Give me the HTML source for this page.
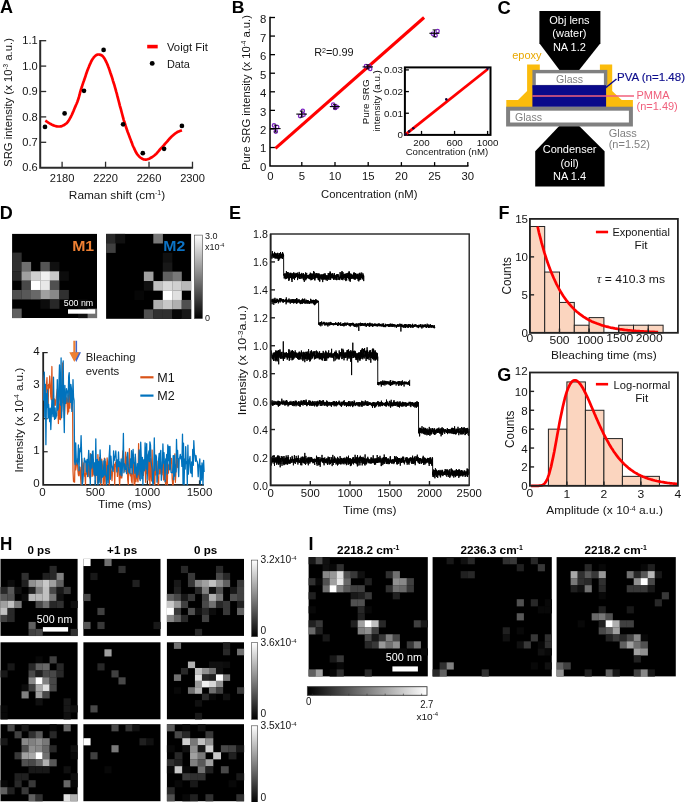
<!DOCTYPE html>
<html><head><meta charset="utf-8"><title>Figure</title>
<style>html,body{margin:0;padding:0;background:#fff;}body{width:685px;height:802px;overflow:hidden;font-family:"Liberation Sans",sans-serif;}svg{display:block;will-change:transform;}</style>
</head><body>
<svg width="685" height="802" viewBox="0 0 685 802" font-family="'Liberation Sans', sans-serif" fill="#141414">
<rect width="685" height="802" fill="#fff"/>
<text font-size="18" font-weight="bold" fill="#000" transform="translate(0.0 13.1)" >A</text>
<text font-size="16.2" font-weight="bold" fill="#000" transform="translate(231.8 13.4) scale(1.09 1)" >B</text>
<text font-size="18.4" font-weight="bold" fill="#000" transform="translate(497.6 13.6)" >C</text>
<path d="M40.2,40.1 V167.7 H193.1" stroke="#2b2b2b" stroke-width="2.0" fill="none" />
<text font-size="10.4" text-anchor="end" transform="translate(37.7 171.4) scale(1.07 1)" >0.6</text>
<line x1="40.20" y1="142.30" x2="46.20" y2="142.30" stroke="#2b2b2b" stroke-width="1.3" />
<text font-size="10.4" text-anchor="end" transform="translate(37.7 146.0) scale(1.07 1)" >0.7</text>
<line x1="40.20" y1="116.90" x2="46.20" y2="116.90" stroke="#2b2b2b" stroke-width="1.3" />
<text font-size="10.4" text-anchor="end" transform="translate(37.7 120.6) scale(1.07 1)" >0.8</text>
<line x1="40.20" y1="91.50" x2="46.20" y2="91.50" stroke="#2b2b2b" stroke-width="1.3" />
<text font-size="10.4" text-anchor="end" transform="translate(37.7 95.2) scale(1.07 1)" >0.9</text>
<line x1="40.20" y1="66.10" x2="46.20" y2="66.10" stroke="#2b2b2b" stroke-width="1.3" />
<text font-size="10.4" text-anchor="end" transform="translate(37.7 69.8) scale(1.07 1)" >1.0</text>
<line x1="40.20" y1="40.70" x2="46.20" y2="40.70" stroke="#2b2b2b" stroke-width="1.3" />
<text font-size="10.4" text-anchor="end" transform="translate(37.7 44.4) scale(1.07 1)" >1.1</text>
<line x1="62.10" y1="167.70" x2="62.10" y2="161.70" stroke="#2b2b2b" stroke-width="1.3" />
<text font-size="10.4" text-anchor="middle" transform="translate(62.1 181.6) scale(1.07 1)" >2180</text>
<line x1="105.56" y1="167.70" x2="105.56" y2="161.70" stroke="#2b2b2b" stroke-width="1.3" />
<text font-size="10.4" text-anchor="middle" transform="translate(105.6 181.6) scale(1.07 1)" >2220</text>
<line x1="149.02" y1="167.70" x2="149.02" y2="161.70" stroke="#2b2b2b" stroke-width="1.3" />
<text font-size="10.4" text-anchor="middle" transform="translate(149.0 181.6) scale(1.07 1)" >2260</text>
<line x1="192.48" y1="167.70" x2="192.48" y2="161.70" stroke="#2b2b2b" stroke-width="1.3" />
<text font-size="10.4" text-anchor="middle" transform="translate(192.5 181.6) scale(1.07 1)" >2300</text>
<text font-size="11.6" text-anchor="middle" transform="translate(11.6 102.5) rotate(-90) scale(1.07 1)" textLength="120.4" lengthAdjust="spacingAndGlyphs" >SRG intensity (x 10<tspan dy="-3.6" font-size="6.5">-3</tspan><tspan dy="3.6" font-size="1">&#8203;</tspan><tspan> a.u.)</tspan></text>
<text font-size="11.2" text-anchor="middle" transform="translate(117.0 198.6) scale(1.07 1)" textLength="90.0" lengthAdjust="spacingAndGlyphs" >Raman shift (cm<tspan dy="-3.6" font-size="6.5">-1</tspan><tspan dy="3.6" font-size="1">&#8203;</tspan><tspan>)</tspan></text>
<path d="M45.3,120.6 L45.8,120.9 L46.5,121.4 L47.4,122.0 L48.3,122.6 L49.2,123.1 L50.0,123.6 L50.7,124.0 L51.4,124.4 L52.0,124.7 L52.7,125.1 L53.3,125.3 L54.0,125.6 L54.7,125.8 L55.3,126.0 L56.0,126.2 L56.7,126.3 L57.3,126.4 L58.0,126.5 L58.7,126.5 L59.3,126.5 L59.9,126.5 L60.6,126.4 L61.3,126.3 L62.0,126.0 L62.8,125.6 L63.7,125.2 L64.6,124.7 L65.4,124.1 L66.3,123.5 L67.1,122.7 L67.8,121.8 L68.5,120.9 L69.2,119.8 L69.8,118.7 L70.4,117.6 L71.0,116.5 L71.5,115.5 L72.0,114.5 L72.4,113.5 L72.9,112.4 L73.4,111.3 L73.9,110.0 L74.5,108.5 L75.2,106.9 L75.9,105.2 L76.7,103.5 L77.4,101.7 L78.0,100.0 L78.6,98.3 L79.1,96.5 L79.6,94.7 L80.0,92.9 L80.5,91.2 L81.0,89.5 L81.5,87.9 L82.0,86.5 L82.4,85.1 L82.9,83.6 L83.4,82.1 L84.0,80.5 L84.6,78.7 L85.3,76.8 L85.9,74.8 L86.6,72.7 L87.3,70.8 L88.0,69.0 L88.7,67.3 L89.3,65.7 L90.0,64.1 L90.7,62.6 L91.3,61.2 L92.0,60.0 L92.7,58.9 L93.4,58.0 L94.0,57.1 L94.7,56.4 L95.4,55.8 L96.0,55.3 L96.6,54.9 L97.2,54.7 L97.8,54.5 L98.4,54.5 L98.9,54.5 L99.5,54.6 L100.1,54.7 L100.6,54.9 L101.2,55.1 L101.8,55.4 L102.4,55.9 L103.0,56.5 L103.6,57.3 L104.3,58.3 L105.0,59.4 L105.6,60.7 L106.3,62.0 L107.0,63.5 L107.7,65.1 L108.3,66.8 L109.0,68.6 L109.7,70.6 L110.3,72.5 L111.0,74.5 L111.7,76.5 L112.4,78.6 L113.0,80.8 L113.7,83.0 L114.4,85.2 L115.0,87.3 L115.6,89.4 L116.1,91.4 L116.7,93.3 L117.2,95.4 L117.8,97.6 L118.4,100.0 L119.1,102.7 L119.9,105.8 L120.8,108.9 L121.6,112.0 L122.4,115.0 L123.1,117.6 L123.7,119.8 L124.3,121.8 L124.9,123.5 L125.4,125.2 L125.9,126.8 L126.5,128.5 L127.1,130.2 L127.7,132.0 L128.4,133.7 L129.0,135.4 L129.6,137.0 L130.2,138.6 L130.8,140.1 L131.3,141.6 L131.9,143.0 L132.4,144.4 L132.9,145.7 L133.5,147.0 L134.1,148.2 L134.6,149.4 L135.2,150.6 L135.7,151.7 L136.3,152.7 L136.9,153.7 L137.5,154.6 L138.2,155.4 L138.9,156.2 L139.6,156.9 L140.3,157.5 L141.0,158.0 L141.7,158.5 L142.4,158.8 L143.1,159.2 L143.8,159.4 L144.6,159.5 L145.3,159.6 L146.1,159.6 L146.8,159.5 L147.6,159.3 L148.4,159.0 L149.2,158.7 L150.0,158.3 L150.9,157.8 L151.8,157.3 L152.7,156.7 L153.7,156.0 L154.6,155.3 L155.4,154.6 L156.2,153.9 L156.9,153.1 L157.5,152.4 L158.2,151.6 L158.8,150.8 L159.5,150.0 L160.2,149.2 L160.9,148.4 L161.6,147.7 L162.4,146.9 L163.1,146.1 L163.8,145.3 L164.5,144.5 L165.2,143.7 L165.9,142.9 L166.6,142.1 L167.3,141.3 L168.0,140.5 L168.7,139.7 L169.3,139.0 L170.0,138.2 L170.7,137.5 L171.4,136.8 L172.1,136.1 L172.9,135.4 L173.7,134.7 L174.5,134.1 L175.3,133.4 L176.2,132.8 L177.0,132.3 L177.9,131.8 L178.8,131.4 L179.8,131.0 L180.6,130.7 L181.4,130.4 L181.9,130.2" stroke="#ff0000" stroke-width="2.7" fill="none" stroke-linejoin="round"/>
<circle cx="45" cy="126.9" r="2.35" fill="#000"/>
<circle cx="64.6" cy="113.4" r="2.35" fill="#000"/>
<circle cx="84" cy="90.8" r="2.35" fill="#000"/>
<circle cx="103.6" cy="49.9" r="2.35" fill="#000"/>
<circle cx="123.1" cy="124.3" r="2.35" fill="#000"/>
<circle cx="142.8" cy="153.2" r="2.35" fill="#000"/>
<circle cx="164.1" cy="148.8" r="2.35" fill="#000"/>
<circle cx="181.9" cy="125.9" r="2.35" fill="#000"/>
<line x1="147.20" y1="46.60" x2="157.70" y2="46.60" stroke="#ff0000" stroke-width="3.6" />
<text font-size="11.2" transform="translate(166.9 50.5) scale(1.07 1)" textLength="38.3" lengthAdjust="spacingAndGlyphs" >Voigt Fit</text>
<circle cx="152.2" cy="63.4" r="2.45" fill="#000"/>
<text font-size="11.2" transform="translate(166.9 67.8) scale(1.07 1)" textLength="21.5" lengthAdjust="spacingAndGlyphs" >Data</text>
<path d="M270.0,16.8 V166.1 H468.5" stroke="#000" stroke-width="1.5" fill="none" />
<text font-size="10.6" text-anchor="end" transform="translate(266.2 170.9) scale(1.07 1)" >0</text>
<line x1="270.00" y1="147.53" x2="275.00" y2="147.53" stroke="#000" stroke-width="1.3" />
<text font-size="10.6" text-anchor="end" transform="translate(266.2 152.3) scale(1.07 1)" >1</text>
<line x1="270.00" y1="128.95" x2="275.00" y2="128.95" stroke="#000" stroke-width="1.3" />
<text font-size="10.6" text-anchor="end" transform="translate(266.2 134.3) scale(1.07 1)" >2</text>
<line x1="270.00" y1="110.38" x2="275.00" y2="110.38" stroke="#000" stroke-width="1.3" />
<text font-size="10.6" text-anchor="end" transform="translate(266.2 115.8) scale(1.07 1)" >3</text>
<line x1="270.00" y1="91.80" x2="275.00" y2="91.80" stroke="#000" stroke-width="1.3" />
<text font-size="10.6" text-anchor="end" transform="translate(266.2 97.2) scale(1.07 1)" >4</text>
<line x1="270.00" y1="73.22" x2="275.00" y2="73.22" stroke="#000" stroke-width="1.3" />
<text font-size="10.6" text-anchor="end" transform="translate(266.2 78.6) scale(1.07 1)" >5</text>
<line x1="270.00" y1="54.65" x2="275.00" y2="54.65" stroke="#000" stroke-width="1.3" />
<text font-size="10.6" text-anchor="end" transform="translate(266.2 60.1) scale(1.07 1)" >6</text>
<line x1="270.00" y1="36.07" x2="275.00" y2="36.07" stroke="#000" stroke-width="1.3" />
<text font-size="10.6" text-anchor="end" transform="translate(266.2 41.5) scale(1.07 1)" >7</text>
<line x1="270.00" y1="17.50" x2="275.00" y2="17.50" stroke="#000" stroke-width="1.3" />
<text font-size="10.6" text-anchor="end" transform="translate(266.2 22.9) scale(1.07 1)" >8</text>
<text font-size="10.6" text-anchor="middle" transform="translate(270.3 179.9) scale(1.07 1)" >0</text>
<line x1="301.80" y1="166.10" x2="301.80" y2="162.10" stroke="#000" stroke-width="1.3" />
<text font-size="10.6" text-anchor="middle" transform="translate(301.8 179.9) scale(1.07 1)" >5</text>
<line x1="335.00" y1="166.10" x2="335.00" y2="162.10" stroke="#000" stroke-width="1.3" />
<text font-size="10.6" text-anchor="middle" transform="translate(335.0 179.9) scale(1.07 1)" >10</text>
<line x1="368.20" y1="166.10" x2="368.20" y2="162.10" stroke="#000" stroke-width="1.3" />
<text font-size="10.6" text-anchor="middle" transform="translate(368.2 179.9) scale(1.07 1)" >15</text>
<line x1="401.40" y1="166.10" x2="401.40" y2="162.10" stroke="#000" stroke-width="1.3" />
<text font-size="10.6" text-anchor="middle" transform="translate(401.4 179.9) scale(1.07 1)" >20</text>
<line x1="434.60" y1="166.10" x2="434.60" y2="162.10" stroke="#000" stroke-width="1.3" />
<text font-size="10.6" text-anchor="middle" transform="translate(434.6 179.9) scale(1.07 1)" >25</text>
<line x1="467.80" y1="166.10" x2="467.80" y2="162.10" stroke="#000" stroke-width="1.3" />
<text font-size="10.6" text-anchor="middle" transform="translate(467.8 179.9) scale(1.07 1)" >30</text>
<text font-size="11.6" text-anchor="middle" transform="translate(249.6 92.6) rotate(-90) scale(1.07 1)" textLength="144.9" lengthAdjust="spacingAndGlyphs" >Pure SRG intensity (x 10<tspan dy="-3.6" font-size="6.5">-4</tspan><tspan dy="3.6" font-size="1">&#8203;</tspan><tspan> a.u.)</tspan></text>
<text font-size="11.2" text-anchor="middle" transform="translate(369.2 198.3) scale(1.07 1)" textLength="90.1" lengthAdjust="spacingAndGlyphs" >Concentration (nM)</text>
<text font-size="11.6" transform="translate(314.2 56.0) scale(1.07 1)" textLength="36.8" lengthAdjust="spacingAndGlyphs" >R<tspan dy="-3.4" font-size="7.6">2</tspan><tspan dy="3.4" font-size="1">&#8203;</tspan><tspan>=0.99</tspan></text>
<line x1="275.40" y1="148.30" x2="424.10" y2="17.50" stroke="#ff0000" stroke-width="3.1" />
<circle cx="274.0" cy="125.4" r="1.7" fill="none" stroke="#7d22c4" stroke-width="1.2"/>
<circle cx="275.8" cy="131.6" r="1.7" fill="none" stroke="#7d22c4" stroke-width="1.2"/>
<circle cx="277.2" cy="127.1" r="1.7" fill="none" stroke="#7d22c4" stroke-width="1.2"/>
<line x1="270.60" y1="128.60" x2="280.60" y2="128.60" stroke="#000" stroke-width="1.1" />
<line x1="275.60" y1="125.20" x2="275.60" y2="132.00" stroke="#000" stroke-width="1.0" />
<line x1="273.80" y1="125.20" x2="277.40" y2="125.20" stroke="#000" stroke-width="0.9" />
<line x1="273.80" y1="132.00" x2="277.40" y2="132.00" stroke="#000" stroke-width="0.9" />
<circle cx="300.1" cy="116.1" r="1.7" fill="none" stroke="#7d22c4" stroke-width="1.2"/>
<circle cx="302.8" cy="110.9" r="1.7" fill="none" stroke="#7d22c4" stroke-width="1.2"/>
<circle cx="303.6" cy="114.7" r="1.7" fill="none" stroke="#7d22c4" stroke-width="1.2"/>
<line x1="296.30" y1="114.10" x2="306.90" y2="114.10" stroke="#000" stroke-width="1.1" />
<line x1="301.60" y1="111.10" x2="301.60" y2="117.10" stroke="#000" stroke-width="1.0" />
<line x1="299.80" y1="111.10" x2="303.40" y2="111.10" stroke="#000" stroke-width="0.9" />
<line x1="299.80" y1="117.10" x2="303.40" y2="117.10" stroke="#000" stroke-width="0.9" />
<circle cx="333.2" cy="104.6" r="1.7" fill="none" stroke="#7d22c4" stroke-width="1.2"/>
<circle cx="335.3" cy="107.9" r="1.7" fill="none" stroke="#7d22c4" stroke-width="1.2"/>
<circle cx="336.8" cy="106.8" r="1.7" fill="none" stroke="#7d22c4" stroke-width="1.2"/>
<line x1="329.80" y1="106.60" x2="339.80" y2="106.60" stroke="#000" stroke-width="1.1" />
<line x1="334.80" y1="104.40" x2="334.80" y2="108.80" stroke="#000" stroke-width="1.0" />
<line x1="333.00" y1="104.40" x2="336.60" y2="104.40" stroke="#000" stroke-width="0.9" />
<line x1="333.00" y1="108.80" x2="336.60" y2="108.80" stroke="#000" stroke-width="0.9" />
<circle cx="366.0" cy="66.1" r="1.7" fill="none" stroke="#7d22c4" stroke-width="1.2"/>
<circle cx="369.3" cy="66.3" r="1.7" fill="none" stroke="#7d22c4" stroke-width="1.2"/>
<circle cx="370.2" cy="68.9" r="1.7" fill="none" stroke="#7d22c4" stroke-width="1.2"/>
<line x1="362.60" y1="66.90" x2="373.00" y2="66.90" stroke="#000" stroke-width="1.1" />
<line x1="367.80" y1="64.90" x2="367.80" y2="68.90" stroke="#000" stroke-width="1.0" />
<line x1="366.00" y1="64.90" x2="369.60" y2="64.90" stroke="#000" stroke-width="0.9" />
<line x1="366.00" y1="68.90" x2="369.60" y2="68.90" stroke="#000" stroke-width="0.9" />
<circle cx="432.8" cy="33.7" r="1.7" fill="none" stroke="#7d22c4" stroke-width="1.2"/>
<circle cx="435.6" cy="35.5" r="1.7" fill="none" stroke="#7d22c4" stroke-width="1.2"/>
<circle cx="437.6" cy="31.1" r="1.7" fill="none" stroke="#7d22c4" stroke-width="1.2"/>
<line x1="429.40" y1="33.30" x2="439.40" y2="33.30" stroke="#000" stroke-width="1.1" />
<line x1="434.40" y1="29.90" x2="434.40" y2="36.70" stroke="#000" stroke-width="1.0" />
<line x1="432.60" y1="29.90" x2="436.20" y2="29.90" stroke="#000" stroke-width="0.9" />
<line x1="432.60" y1="36.70" x2="436.20" y2="36.70" stroke="#000" stroke-width="0.9" />
<rect x="404.90" y="67.40" width="85.60" height="67.50" fill="#fff" stroke="#000" stroke-width="2.0" />
<text font-size="9.6" text-anchor="end" transform="translate(403.0 138.3) scale(1.02 1)" >0</text>
<line x1="404.90" y1="113.24" x2="408.90" y2="113.24" stroke="#000" stroke-width="1.3" />
<text font-size="9.6" text-anchor="end" transform="translate(403.0 116.6) scale(1.02 1)" >0.01</text>
<line x1="404.90" y1="91.58" x2="408.90" y2="91.58" stroke="#000" stroke-width="1.3" />
<text font-size="9.6" text-anchor="end" transform="translate(403.0 95.0) scale(1.02 1)" >0.02</text>
<line x1="404.90" y1="69.92" x2="408.90" y2="69.92" stroke="#000" stroke-width="1.3" />
<text font-size="9.6" text-anchor="end" transform="translate(403.0 73.3) scale(1.02 1)" >0.03</text>
<line x1="421.52" y1="134.90" x2="421.52" y2="130.90" stroke="#000" stroke-width="1.3" />
<text font-size="9.6" text-anchor="middle" transform="translate(421.5 145.9) scale(1.02 1)" >200</text>
<line x1="454.56" y1="134.90" x2="454.56" y2="130.90" stroke="#000" stroke-width="1.3" />
<text font-size="9.6" text-anchor="middle" transform="translate(454.6 145.9) scale(1.02 1)" >600</text>
<line x1="487.60" y1="134.90" x2="487.60" y2="130.90" stroke="#000" stroke-width="1.3" />
<text font-size="9.6" text-anchor="middle" transform="translate(487.6 145.9) scale(1.02 1)" >1000</text>
<text font-size="9.6" text-anchor="middle" transform="translate(446.9 154.8) scale(1.07 1)" textLength="77.1" lengthAdjust="spacingAndGlyphs" >Concentration (nM)</text>
<text font-size="9.2" text-anchor="middle" transform="translate(368.8 101.8) rotate(-90) scale(1.07 1)" >Pure SRG</text>
<text font-size="9.2" text-anchor="middle" transform="translate(380.3 101.0) rotate(-90) scale(1.07 1)" >intensity (a.u.)</text>
<line x1="405.30" y1="134.60" x2="487.60" y2="69.27" stroke="#ff0000" stroke-width="2.8" />
<circle cx="405.8" cy="134.3" r="1.3" fill="#140638"/>
<circle cx="409.1" cy="131.4" r="1.3" fill="#140638"/>
<circle cx="413.3" cy="128.2" r="1.3" fill="#140638"/>
<circle cx="446.3" cy="99.4" r="1.3" fill="#140638"/>
<circle cx="487.6" cy="68.8" r="1.3" fill="#140638"/>
<path d="M527.1,64.5 H539.8 V70.5 H533.5 V106.9 H506.3 V100.1 H518.0 L527.1,91.0 Z" fill="#fbbc0c"/>
<path d="M612.2,64.5 H599.9 V70.5 H606.0 V106.9 H632.9 V100.1 H621.7 L612.2,91.0 Z" fill="#fbbc0c"/>
<path d="M539.4,11.1 H600.4 V43.2 L578.4,71 H560.2 L539.4,43.2 Z" fill="#000"/>
<path d="M560.2,125 H578.2 L604.6,151.2 V186.4 H535.2 V151.2 Z" fill="#000"/>
<rect x="534.10" y="71.60" width="71.50" height="15.00" fill="#fff" stroke="#808080" stroke-width="3.4" />
<rect x="532.40" y="85.20" width="73.70" height="21.70" fill="#0a0a8a" />
<line x1="532.40" y1="96.00" x2="634.00" y2="96.00" stroke="#f0607c" stroke-width="1.7" />
<rect x="508.10" y="108.70" width="122.80" height="15.80" fill="#fff" stroke="#808080" stroke-width="4.0" />
<text font-size="11" text-anchor="middle" fill="#fff" transform="translate(569.4 23.7)" >Obj lens</text>
<text font-size="11" text-anchor="middle" fill="#fff" transform="translate(569.4 37.4)" >(water)</text>
<text font-size="11" text-anchor="middle" fill="#fff" transform="translate(569.4 50.8)" >NA 1.2</text>
<text font-size="11" text-anchor="middle" fill="#fff" transform="translate(569.6 153.4)" >Condenser</text>
<text font-size="11" text-anchor="middle" fill="#fff" transform="translate(569.6 166.5)" >(oil)</text>
<text font-size="11" text-anchor="middle" fill="#fff" transform="translate(569.6 179.8)" >NA 1.4</text>
<text font-size="11" fill="#e9a800" transform="translate(512.2 59.2)" >epoxy</text>
<text font-size="10.6" text-anchor="middle" fill="#808080" transform="translate(569.6 82.8)" >Glass</text>
<text font-size="10.6" fill="#808080" transform="translate(515.0 120.8)" >Glass</text>
<text font-size="11" fill="#0c0c8c" transform="translate(617.0 81.3)" textLength="68.0" lengthAdjust="spacingAndGlyphs" stroke="#0c0c8c" stroke-width="0.15">PVA (n=1.48)</text>
<line x1="616.50" y1="79.00" x2="606.00" y2="87.50" stroke="#0c0c8c" stroke-width="1.5" />
<text font-size="11" fill="#f0607c" transform="translate(636.5 99.0)" >PMMA</text>
<text font-size="11" fill="#f0607c" transform="translate(636.5 109.7)" >(n=1.49)</text>
<text font-size="11" fill="#808080" transform="translate(608.7 137.3)" >Glass</text>
<text font-size="11" fill="#808080" transform="translate(608.7 148.0)" >(n=1.52)</text>
<text font-size="18" font-weight="bold" fill="#000" transform="translate(-0.3 219.1)" >D</text>
<rect x="12.10" y="233.90" width="84.90" height="84.10" fill="#000" />
<rect x="12.10" y="252.59" width="9.58" height="9.49" fill="#303030"/>
<rect x="12.10" y="261.93" width="9.58" height="9.49" fill="#303030"/>
<rect x="21.53" y="261.93" width="9.58" height="9.49" fill="#707070"/>
<rect x="40.40" y="261.93" width="9.58" height="9.49" fill="#555555"/>
<rect x="49.83" y="261.93" width="9.58" height="9.49" fill="#101010"/>
<rect x="12.10" y="271.28" width="9.58" height="9.49" fill="#282828"/>
<rect x="21.53" y="271.28" width="9.58" height="9.49" fill="#a0a0a0"/>
<rect x="30.97" y="271.28" width="9.58" height="9.49" fill="#d0d0d0"/>
<rect x="40.40" y="271.28" width="9.58" height="9.49" fill="#f0f0f0"/>
<rect x="49.83" y="271.28" width="9.58" height="9.49" fill="#c8c8c8"/>
<rect x="59.27" y="271.28" width="9.58" height="9.49" fill="#0c0c0c"/>
<rect x="21.53" y="280.62" width="9.58" height="9.49" fill="#484848"/>
<rect x="30.97" y="280.62" width="9.58" height="9.49" fill="#ffffff"/>
<rect x="40.40" y="280.62" width="9.58" height="9.49" fill="#e8e8e8"/>
<rect x="49.83" y="280.62" width="9.58" height="9.49" fill="#505050"/>
<rect x="12.10" y="289.97" width="9.58" height="9.49" fill="#505050"/>
<rect x="21.53" y="289.97" width="9.58" height="9.49" fill="#585858"/>
<rect x="30.97" y="289.97" width="9.58" height="9.49" fill="#686868"/>
<rect x="40.40" y="289.97" width="9.58" height="9.49" fill="#a0a0a0"/>
<rect x="49.83" y="289.97" width="9.58" height="9.49" fill="#888888"/>
<rect x="59.27" y="289.97" width="9.58" height="9.49" fill="#303030"/>
<rect x="40.40" y="299.31" width="9.58" height="9.49" fill="#0c0c0c"/>
<rect x="49.83" y="299.31" width="9.58" height="9.49" fill="#282828"/>
<rect x="78.13" y="299.31" width="9.58" height="9.49" fill="#080808"/>
<rect x="12.10" y="308.66" width="9.58" height="9.49" fill="#606060"/>
<rect x="78.13" y="308.66" width="9.58" height="9.49" fill="#101010"/>
<rect x="87.57" y="308.66" width="9.58" height="9.49" fill="#707070"/>
<rect x="106.10" y="233.90" width="85.00" height="84.90" fill="#000" />
<rect x="106.10" y="233.90" width="9.59" height="9.58" fill="#282828"/>
<rect x="115.54" y="233.90" width="9.59" height="9.58" fill="#101010"/>
<rect x="153.32" y="233.90" width="9.59" height="9.58" fill="#787878"/>
<rect x="106.10" y="243.33" width="9.59" height="9.58" fill="#404040"/>
<rect x="162.77" y="252.77" width="9.59" height="9.58" fill="#101010"/>
<rect x="162.77" y="262.20" width="9.59" height="9.58" fill="#181818"/>
<rect x="143.88" y="271.63" width="9.59" height="9.58" fill="#a0a0a0"/>
<rect x="162.77" y="271.63" width="9.59" height="9.58" fill="#606060"/>
<rect x="172.21" y="271.63" width="9.59" height="9.58" fill="#787878"/>
<rect x="143.88" y="281.07" width="9.59" height="9.58" fill="#101010"/>
<rect x="153.32" y="281.07" width="9.59" height="9.58" fill="#c0c0c0"/>
<rect x="162.77" y="281.07" width="9.59" height="9.58" fill="#d8d8d8"/>
<rect x="172.21" y="281.07" width="9.59" height="9.58" fill="#d0d0d0"/>
<rect x="181.66" y="281.07" width="9.59" height="9.58" fill="#b8b8b8"/>
<rect x="134.43" y="290.50" width="9.59" height="9.58" fill="#060606"/>
<rect x="162.77" y="290.50" width="9.59" height="9.58" fill="#ffffff"/>
<rect x="172.21" y="290.50" width="9.59" height="9.58" fill="#e0e0e0"/>
<rect x="153.32" y="299.93" width="9.59" height="9.58" fill="#b0b0b0"/>
<rect x="162.77" y="299.93" width="9.59" height="9.58" fill="#c8c8c8"/>
<rect x="172.21" y="299.93" width="9.59" height="9.58" fill="#b0b0b0"/>
<rect x="181.66" y="299.93" width="9.59" height="9.58" fill="#505050"/>
<rect x="143.88" y="309.37" width="9.59" height="9.58" fill="#505050"/>
<rect x="153.32" y="309.37" width="9.59" height="9.58" fill="#303030"/>
<rect x="162.77" y="309.37" width="9.59" height="9.58" fill="#303030"/>
<rect x="172.21" y="309.37" width="9.59" height="9.58" fill="#080808"/>
<rect x="181.66" y="309.37" width="9.59" height="9.58" fill="#181818"/>
<text font-size="15.2" font-weight="bold" fill="#ee8033" transform="translate(72.2 251.2) scale(1.04 1)" >M1</text>
<text font-size="15.2" font-weight="bold" fill="#0c72c4" transform="translate(163.3 251.2) scale(1.04 1)" >M2</text>
<text font-size="9.4" fill="#fff" transform="translate(63.8 305.6) scale(1.07 1)" textLength="27.5" lengthAdjust="spacingAndGlyphs" >500 nm</text>
<rect x="68.00" y="309.30" width="27.20" height="4.40" fill="#fff" />
<defs><linearGradient id="gv" x1="0" y1="0" x2="0" y2="1"><stop offset="0" stop-color="#fff"/><stop offset="1" stop-color="#000"/></linearGradient><linearGradient id="gh" x1="0" y1="0" x2="1" y2="0"><stop offset="0" stop-color="#000"/><stop offset="1" stop-color="#fff"/></linearGradient></defs>
<rect x="194.40" y="235.10" width="8.00" height="83.50" fill="url(#gv)" stroke="#444" stroke-width="0.6" />
<text font-size="9.2" transform="translate(205.0 239.4) scale(0.98 1)" >3.0</text>
<text font-size="9.2" transform="translate(205.0 250.1) scale(0.98 1)" >x10<tspan dy="-3.0" font-size="5.6">-4</tspan><tspan dy="3.0" font-size="1">&#8203;</tspan></text>
<text font-size="9.2" transform="translate(205.0 320.8) scale(0.98 1)" >0</text>
<path d="M43.2,351.9 V484.8 H203.9" stroke="#222" stroke-width="1.8" fill="none" />
<text font-size="10.8" text-anchor="end" transform="translate(39.8 486.7) scale(1.07 1)" >0</text>
<line x1="43.20" y1="451.75" x2="47.70" y2="451.75" stroke="#222" stroke-width="1.2" />
<text font-size="10.8" text-anchor="end" transform="translate(39.8 453.6) scale(1.07 1)" >1</text>
<line x1="43.20" y1="418.70" x2="47.70" y2="418.70" stroke="#222" stroke-width="1.2" />
<text font-size="10.8" text-anchor="end" transform="translate(39.8 420.6) scale(1.07 1)" >2</text>
<line x1="43.20" y1="385.65" x2="47.70" y2="385.65" stroke="#222" stroke-width="1.2" />
<text font-size="10.8" text-anchor="end" transform="translate(39.8 387.6) scale(1.07 1)" >3</text>
<line x1="43.20" y1="352.60" x2="47.70" y2="352.60" stroke="#222" stroke-width="1.2" />
<text font-size="10.8" text-anchor="end" transform="translate(39.8 354.5) scale(1.07 1)" >4</text>
<text font-size="10.8" text-anchor="middle" transform="translate(42.5 496.4) scale(1.07 1)" >0</text>
<line x1="95.30" y1="484.80" x2="95.30" y2="480.30" stroke="#222" stroke-width="1.2" />
<text font-size="10.8" text-anchor="middle" transform="translate(95.3 496.4) scale(1.07 1)" >500</text>
<line x1="147.40" y1="484.80" x2="147.40" y2="480.30" stroke="#222" stroke-width="1.2" />
<text font-size="10.8" text-anchor="middle" transform="translate(147.4 496.4) scale(1.07 1)" >1000</text>
<line x1="199.50" y1="484.80" x2="199.50" y2="480.30" stroke="#222" stroke-width="1.2" />
<text font-size="10.8" text-anchor="middle" transform="translate(199.5 496.4) scale(1.07 1)" >1500</text>
<text font-size="11.6" text-anchor="middle" transform="translate(22.8 420.2) rotate(-90) scale(1.07 1)" textLength="97.9" lengthAdjust="spacingAndGlyphs" >Intensity (x 10<tspan dy="-3.6" font-size="6.5">-4</tspan><tspan dy="3.6" font-size="1">&#8203;</tspan><tspan> a.u.)</tspan></text>
<text font-size="11.2" text-anchor="middle" transform="translate(124.8 507.6) scale(1.07 1)" >Time (ms)</text>
<path d="M43.2,400.2 L43.7,381.9 L44.3,375.2 L44.8,393.9 L45.4,404.3 L45.9,390.0 L46.5,384.3 L47.0,377.6 L47.5,405.8 L48.1,407.5 L48.6,384.4 L49.2,387.9 L49.7,376.0 L50.2,383.3 L50.8,396.9 L51.3,399.7 L51.9,366.5 L52.4,401.3 L53.0,407.9 L53.5,412.8 L54.0,398.8 L54.6,399.0 L55.1,405.5 L55.7,402.9 L56.2,398.9 L56.7,393.9 L57.3,389.1 L57.8,399.7 L58.4,423.5 L58.9,393.8 L59.5,419.1 L60.0,404.2 L60.5,419.7 L61.1,402.2 L61.6,411.4 L62.2,399.6 L62.7,362.9 L63.2,402.8 L63.8,392.2 L64.3,417.9 L64.9,405.6 L65.4,394.3 L66.0,403.3 L66.5,397.8 L67.0,400.9 L67.6,414.1 L68.1,395.5 L68.7,411.8 L69.2,379.9 L69.8,408.2 L70.3,394.0 L70.8,402.1 L71.4,390.8 L71.9,409.3 L72.5,390.3 L73.0,471.1 L73.5,481.4 L74.1,482.0 L74.6,482.2 L75.2,448.5 L75.7,469.8 L76.3,465.5 L76.8,464.5 L77.3,458.9 L77.9,470.5 L78.4,475.0 L79.0,475.8 L79.5,466.8 L80.0,467.2 L80.6,477.6 L81.1,484.7 L81.7,458.3 L82.2,463.3 L82.8,470.4 L83.3,473.8 L83.8,462.9 L84.4,476.1 L84.9,473.5 L85.5,484.8 L86.0,462.9 L86.5,465.9 L87.1,474.5 L87.6,466.9 L88.2,476.5 L88.7,464.0 L89.3,472.2 L89.8,477.9 L90.3,453.7 L90.9,468.8 L91.4,455.0 L92.0,476.5 L92.5,474.5 L93.0,463.7 L93.6,467.0 L94.1,475.8 L94.7,475.0 L95.2,462.4 L95.8,469.1 L96.3,465.8 L96.8,461.7 L97.4,483.0 L97.9,454.6 L98.5,474.5 L99.0,481.4 L99.6,457.3 L100.1,463.2 L100.6,484.8 L101.2,468.2 L101.7,459.2 L102.3,464.4 L102.8,471.1 L103.3,484.8 L103.9,478.6 L104.4,458.2 L105.0,484.6 L105.5,461.5 L106.1,476.6 L106.6,476.6 L107.1,457.9 L107.7,463.3 L108.2,471.2 L108.8,479.3 L109.3,484.8 L109.8,463.2 L110.4,457.2 L110.9,467.5 L111.5,473.5 L112.0,480.6 L112.6,470.0 L113.1,468.5 L113.6,468.2 L114.2,464.3 L114.7,484.8 L115.3,462.7 L115.8,466.7 L116.3,460.3 L116.9,463.0 L117.4,476.4 L118.0,462.6 L118.5,461.5 L119.1,475.6 L119.6,484.8 L120.1,477.3 L120.7,467.6 L121.2,477.8 L121.8,477.9 L122.3,459.5 L122.9,450.9 L123.4,455.4 L123.9,466.0 L124.5,469.4 L125.0,471.7 L125.6,452.1 L126.1,467.1 L126.6,457.0 L127.2,466.0 L127.7,479.7 L128.3,484.3 L128.8,466.5 L129.4,448.7 L129.9,471.3 L130.4,475.8 L131.0,473.7 L131.5,480.9 L132.1,483.2 L132.6,459.4 L133.1,455.9 L133.7,476.2 L134.2,484.7 L134.8,484.8 L135.3,457.5 L135.9,481.7 L136.4,473.7 L136.9,475.2 L137.5,479.5 L138.0,481.8 L138.6,443.7 L139.1,473.2 L139.6,478.9 L140.2,450.9 L140.7,461.0 L141.3,464.8 L141.8,472.2 L142.4,469.7 L142.9,468.1 L143.4,475.5 L144.0,466.5 L144.5,465.7 L145.1,462.1 L145.6,482.3 L146.1,466.1 L146.7,471.2 L147.2,473.8 L147.8,454.9 L148.3,463.1 L148.9,480.1 L149.4,458.3 L149.9,484.8 L150.5,458.5 L151.0,472.2 L151.6,481.0 L152.1,450.0 L152.7,479.6 L153.2,470.9 L153.7,484.6 L154.3,469.1 L154.8,484.8 L155.4,457.5 L155.9,474.9 L156.4,469.1 L157.0,461.1 L157.5,476.3 L158.1,484.8 L158.6,484.7 L159.2,463.7 L159.7,469.0 L160.2,473.9 L160.8,461.9 L161.3,470.5 L161.9,474.8 L162.4,466.1 L162.9,458.8 L163.5,480.0 L164.0,463.8 L164.6,479.2 L165.1,480.0 L165.7,484.4 L166.2,482.1 L166.7,462.3 L167.3,484.8 L167.8,464.0 L168.4,473.1 L168.9,465.2 L169.4,464.6 L170.0,455.1 L170.5,459.6 L171.1,463.1 L171.6,458.4 L172.2,478.6 L172.7,484.8 L173.2,484.8 L173.8,470.5 L174.3,468.6 L174.9,453.8 L175.4,482.3 L176.0,471.1 L176.5,464.7 L177.0,452.3 L177.6,467.1 L178.1,468.0" stroke="#d95319" stroke-width="1.25" fill="none" stroke-linejoin="round"/>
<path d="M43.2,400.3 L43.7,399.8 L44.3,372.2 L44.8,417.2 L45.4,384.5 L45.9,444.7 L46.5,393.7 L47.0,407.4 L47.5,389.8 L48.1,418.1 L48.6,404.4 L49.2,414.8 L49.7,421.7 L50.2,408.2 L50.8,429.6 L51.3,415.8 L51.9,399.8 L52.4,409.6 L53.0,416.7 L53.5,377.2 L54.0,409.6 L54.6,419.4 L55.1,408.0 L55.7,418.4 L56.2,416.3 L56.7,415.8 L57.3,379.6 L57.8,410.1 L58.4,407.8 L58.9,385.3 L59.5,364.9 L60.0,399.0 L60.5,405.0 L61.1,357.9 L61.6,417.8 L62.2,401.1 L62.7,385.4 L63.2,360.8 L63.8,410.0 L64.3,432.5 L64.9,385.5 L65.4,403.5 L66.0,401.5 L66.5,388.6 L67.0,392.2 L67.6,391.1 L68.1,402.1 L68.7,376.0 L69.2,372.7 L69.8,395.1 L70.3,402.4 L70.8,384.4 L71.4,388.3 L71.9,411.4 L72.5,402.6 L73.0,379.6 L73.5,397.0 L74.1,400.6 L74.6,461.7 L75.2,464.7 L75.7,442.9 L76.3,461.9 L76.8,460.5 L77.3,464.1 L77.9,457.5 L78.4,444.9 L79.0,470.7 L79.5,454.8 L80.0,448.5 L80.6,451.6 L81.1,435.6 L81.7,457.6 L82.2,484.8 L82.8,481.9 L83.3,474.5 L83.8,467.3 L84.4,458.2 L84.9,461.0 L85.5,462.3 L86.0,461.0 L86.5,471.8 L87.1,459.3 L87.6,476.6 L88.2,460.8 L88.7,450.3 L89.3,461.4 L89.8,467.7 L90.3,484.8 L90.9,454.1 L91.4,456.2 L92.0,468.0 L92.5,451.4 L93.0,451.0 L93.6,466.3 L94.1,474.4 L94.7,463.0 L95.2,484.8 L95.8,438.8 L96.3,475.4 L96.8,464.3 L97.4,459.4 L97.9,484.8 L98.5,461.4 L99.0,482.9 L99.6,476.8 L100.1,449.9 L100.6,462.0 L101.2,482.9 L101.7,461.2 L102.3,477.3 L102.8,470.8 L103.3,476.3 L103.9,461.0 L104.4,475.1 L105.0,459.0 L105.5,474.3 L106.1,476.9 L106.6,484.8 L107.1,471.6 L107.7,465.7 L108.2,482.9 L108.8,461.6 L109.3,454.3 L109.8,445.5 L110.4,479.3 L110.9,456.1 L111.5,464.8 L112.0,467.2 L112.6,469.4 L113.1,471.3 L113.6,451.0 L114.2,460.7 L114.7,457.2 L115.3,456.4 L115.8,451.0 L116.3,461.3 L116.9,471.9 L117.4,459.8 L118.0,466.5 L118.5,451.9 L119.1,466.6 L119.6,461.9 L120.1,475.0 L120.7,467.4 L121.2,459.0 L121.8,475.9 L122.3,468.9 L122.9,459.4 L123.4,433.4 L123.9,472.8 L124.5,463.9 L125.0,464.6 L125.6,469.4 L126.1,468.8 L126.6,473.6 L127.2,455.2 L127.7,452.5 L128.3,466.4 L128.8,472.1 L129.4,469.7 L129.9,473.6 L130.4,458.9 L131.0,467.5 L131.5,450.7 L132.1,473.9 L132.6,460.8 L133.1,449.3 L133.7,463.1 L134.2,462.5 L134.8,473.3 L135.3,454.1 L135.9,465.0 L136.4,474.5 L136.9,477.5 L137.5,463.6 L138.0,474.6 L138.6,468.7 L139.1,449.9 L139.6,459.0 L140.2,480.6 L140.7,442.2 L141.3,459.1 L141.8,478.7 L142.4,457.3 L142.9,484.8 L143.4,461.2 L144.0,459.5 L144.5,470.8 L145.1,443.0 L145.6,454.9 L146.1,469.1 L146.7,443.6 L147.2,479.6 L147.8,462.2 L148.3,455.1 L148.9,451.0 L149.4,461.5 L149.9,441.9 L150.5,445.0 L151.0,461.2 L151.6,465.5 L152.1,468.0 L152.7,482.7 L153.2,484.8 L153.7,471.5 L154.3,437.9 L154.8,470.5 L155.4,460.6 L155.9,455.0 L156.4,456.8 L157.0,482.2 L157.5,473.5 L158.1,474.0 L158.6,459.9 L159.2,453.3 L159.7,468.8 L160.2,454.3 L160.8,450.3 L161.3,480.3 L161.9,470.1 L162.4,464.8 L162.9,443.9 L163.5,463.2 L164.0,452.6 L164.6,468.4 L165.1,481.7 L165.7,459.0 L166.2,460.9 L166.7,454.3 L167.3,474.1 L167.8,445.0 L168.4,460.7 L168.9,446.7 L169.4,469.8 L170.0,446.5 L170.5,467.4 L171.1,472.4 L171.6,472.4 L172.2,472.9 L172.7,471.7 L173.2,455.7 L173.8,479.7 L174.3,455.5 L174.9,476.2 L175.4,465.1 L176.0,471.9 L176.5,439.4 L177.0,458.0 L177.6,450.5 L178.1,464.3 L178.7,476.6 L179.2,458.4 L179.7,457.9 L180.3,454.3 L180.8,458.9 L181.4,456.7 L181.9,466.4 L182.5,434.2 L183.0,483.9 L183.5,443.2 L184.1,484.8 L184.6,459.1 L185.2,469.0 L185.7,446.6 L186.2,463.5 L186.8,461.7 L187.3,484.8 L187.9,445.1 L188.4,474.1 L189.0,462.3 L189.5,459.6 L190.0,456.5 L190.6,472.2 L191.1,473.2 L191.7,462.0 L192.2,476.7 L192.7,449.5 L193.3,465.3 L193.8,440.7 L194.4,453.0 L194.9,455.7 L195.5,461.3 L196.0,455.6 L196.5,460.8 L197.1,461.1 L197.6,463.2 L198.2,476.7 L198.7,465.0 L199.2,466.6 L199.8,458.9 L200.3,484.0 L200.9,465.8 L201.4,480.2 L202.0,463.0 L202.5,468.4 L203.0,484.8 L203.6,460.3 L204.1,472.0" stroke="#0072bd" stroke-width="1.3" fill="none" stroke-linejoin="round"/>
<path d="M75.5,340.8 h1.6 v11.4 h3.9 l-4.7,9.8 l-4.7,-9.8 h3.9 z" fill="#3f66cc"/>
<path d="M73.3,340.8 h2.0 v11.4 h4.0 l-5.0,9.8 l-5.0,-9.8 h4.0 z" fill="#ee8033"/>
<text font-size="10.6" transform="translate(85.8 360.9) scale(1.07 1)" >Bleaching</text>
<text font-size="10.6" transform="translate(85.8 374.6) scale(1.07 1)" >events</text>
<line x1="140.30" y1="377.30" x2="153.50" y2="377.30" stroke="#d95319" stroke-width="2.2" />
<text font-size="12.2" transform="translate(157.3 381.7) scale(1.03 1)" >M1</text>
<line x1="140.30" y1="395.60" x2="153.50" y2="395.60" stroke="#0072bd" stroke-width="2.2" />
<text font-size="12.2" transform="translate(157.3 400.3) scale(1.03 1)" >M2</text>
<text font-size="18" font-weight="bold" fill="#000" transform="translate(229.0 219.1)" >E</text>
<path d="M270.6,253.2 270.7,252.9 270.8,255.5 270.9,257.1 271.0,257.7 271.1,255.6 271.2,257.6 271.3,258.4 271.4,255.3 271.5,255.4 271.6,254.6 271.7,257.4 271.8,255.6 271.9,255.8 272.0,258.5 272.1,254.6 272.2,255.0 272.3,251.1 272.4,255.3 272.5,255.9 272.6,253.3 272.7,255.3 272.8,253.9 272.9,256.3 273.0,255.2 273.1,253.7 273.2,254.3 273.3,255.4 273.4,257.7 273.5,254.8 273.6,255.5 273.7,254.3 273.8,255.2 273.9,253.6 274.0,255.7 274.1,255.3 274.2,254.4 274.3,257.7 274.4,256.4 274.5,256.6 274.6,251.9 274.7,255.8 274.8,254.4 274.9,254.5 275.0,256.2 275.1,258.6 275.2,253.8 275.3,256.4 275.4,254.3 275.5,258.1 275.6,256.5 275.7,253.3 275.8,253.0 275.9,258.1 276.0,258.2 276.1,255.7 276.2,254.3 276.3,255.3 276.4,255.1 276.5,257.5 276.6,254.5 276.7,253.5 276.8,256.5 276.9,258.4 277.0,257.1 277.1,254.2 277.2,258.9 277.3,255.8 277.4,257.5 277.5,255.9 277.6,256.1 277.7,255.6 277.7,252.8 277.8,254.9 277.9,253.1 278.0,255.9 278.1,256.6 278.2,254.9 278.3,261.0 278.4,255.7 278.5,255.3 278.6,258.0 278.7,254.8 278.8,256.7 278.9,260.3 279.0,256.1 279.1,257.5 279.2,256.6 279.3,255.9 279.4,253.3 279.5,255.5 279.6,255.7 279.7,254.9 279.8,259.1 279.9,253.3 280.0,257.7 280.1,254.8 280.2,257.8 280.3,257.5 280.4,256.4 280.5,252.1 280.6,254.3 280.7,256.8 280.8,256.2 280.9,257.8 281.0,255.7 281.1,256.7 281.2,254.3 281.3,258.2 281.4,256.3 281.5,257.2 281.6,257.0 281.7,254.3 281.8,255.4 281.9,254.5 282.0,253.4 282.1,253.5 282.2,258.2 282.3,254.6 282.4,259.0 282.5,255.8 282.6,252.0 282.7,256.0 282.8,256.3 282.9,255.3 283.0,255.6 283.1,255.6 283.2,257.1 283.3,253.6 283.4,254.0 283.5,256.0 283.6,255.1 283.7,275.0 283.8,274.3 283.9,275.6 284.0,275.0 284.1,276.8 284.2,278.4 284.3,277.3 284.4,274.3 284.5,274.4 284.6,276.0 284.7,277.4 284.8,275.7 284.9,273.1 285.0,273.7 285.1,277.7 285.2,276.4 285.3,279.2 285.4,278.5 285.5,276.0 285.6,276.3 285.7,274.4 285.8,273.8 285.9,274.7 286.0,273.7 286.1,277.4 286.2,278.5 286.3,275.3 286.4,271.1 286.5,275.6 286.6,278.6 286.7,275.8 286.8,273.5 286.9,278.3 287.0,274.7 287.1,277.5 287.2,273.8 287.3,274.8 287.4,275.7 287.5,272.4 287.6,277.1 287.7,277.7 287.8,272.7 287.9,278.0 288.0,272.0 288.1,276.4 288.2,278.3 288.3,276.3 288.4,276.1 288.5,275.9 288.6,276.7 288.7,274.2 288.8,280.9 288.9,277.4 289.0,276.8 289.1,272.8 289.2,280.2 289.3,277.0 289.4,278.6 289.5,277.6 289.6,275.1 289.7,275.5 289.8,273.5 289.9,277.5 290.0,275.8 290.1,274.0 290.2,274.6 290.3,277.0 290.4,274.1 290.5,278.1 290.6,272.8 290.7,276.0 290.8,276.5 290.9,275.8 291.0,274.7 291.1,272.9 291.2,276.6 291.3,277.0 291.4,275.2 291.5,278.0 291.6,279.6 291.7,274.7 291.8,277.1 291.9,274.1 291.9,278.3 292.0,282.0 292.1,275.8 292.2,276.0 292.3,273.2 292.4,275.3 292.5,275.7 292.6,275.2 292.7,277.0 292.8,276.2 292.9,279.0 293.0,275.3 293.1,277.9 293.2,277.2 293.3,275.0 293.4,274.5 293.5,278.3 293.6,272.4 293.7,277.5 293.8,274.7 293.9,274.5 294.0,275.9 294.1,276.0 294.2,272.8 294.3,274.6 294.4,275.4 294.5,279.9 294.6,277.8 294.7,274.0 294.8,275.9 294.9,278.2 295.0,277.6 295.1,276.9 295.2,275.0 295.3,275.6 295.4,274.4 295.5,277.9 295.6,274.4 295.7,277.3 295.8,276.9 295.9,272.9 296.0,276.2 296.1,276.6 296.2,276.7 296.3,277.1 296.4,273.3 296.5,273.6 296.6,274.9 296.7,276.0 296.8,274.3 296.9,276.5 297.0,275.4 297.1,275.5 297.2,276.1 297.3,273.1 297.4,272.9 297.5,273.7 297.6,280.1 297.7,272.7 297.8,274.9 297.9,277.2 298.0,276.4 298.1,274.1 298.2,274.0 298.3,274.6 298.4,276.0 298.5,276.2 298.6,274.7 298.7,276.5 298.8,278.1 298.9,277.5 299.0,276.6 299.1,275.7 299.2,271.9 299.3,279.0 299.4,275.4 299.5,276.5 299.6,275.7 299.7,273.7 299.8,273.9 299.9,276.6 300.0,277.4 300.1,279.0 300.2,276.5 300.3,273.9 300.4,276.8 300.5,274.9 300.6,274.9 300.7,275.5 300.8,274.2 300.9,276.5 301.0,277.9 301.1,278.6 301.2,274.5 301.3,277.0 301.4,276.9 301.5,274.7 301.6,277.9 301.7,272.9 301.8,275.0 301.9,277.3 302.0,277.6 302.1,274.2 302.2,278.6 302.3,277.6 302.4,276.3 302.5,275.9 302.6,276.3 302.7,275.6 302.8,277.0 302.9,276.6 303.0,273.8 303.1,275.1 303.2,277.2 303.3,273.0 303.4,280.2 303.5,276.2 303.6,275.0 303.7,274.4 303.8,276.1 303.9,277.1 304.0,275.2 304.1,276.7 304.2,275.4 304.3,281.9 304.4,275.6 304.5,277.9 304.6,274.5 304.7,274.9 304.8,274.9 304.9,277.1 305.0,275.5 305.1,277.0 305.2,275.9 305.3,276.6 305.4,278.0 305.5,272.5 305.6,274.9 305.7,280.3 305.8,274.6 305.9,279.0 306.0,276.8 306.1,277.5 306.1,277.4 306.2,275.8 306.3,277.0 306.4,279.2 306.5,276.3 306.6,275.6 306.7,272.9 306.8,277.1 306.9,278.6 307.0,277.1 307.1,275.0 307.2,278.0 307.3,277.7 307.4,275.2 307.5,276.3 307.6,275.9 307.7,277.5 307.8,277.9 307.9,277.0 308.0,276.6 308.1,277.0 308.2,275.5 308.3,275.2 308.4,275.2 308.5,275.4 308.6,278.1 308.7,278.5 308.8,274.8 308.9,276.3 309.0,276.1 309.1,278.6 309.2,276.7 309.3,277.6 309.4,278.0 309.5,277.6 309.6,279.2 309.7,276.2 309.8,274.0 309.9,277.7 310.0,276.1 310.1,278.5 310.2,275.0 310.3,272.7 310.4,278.7 310.5,276.8 310.6,273.5 310.7,275.6 310.8,276.1 310.9,280.3 311.0,276.6 311.1,274.5 311.2,273.5 311.3,275.1 311.4,277.5 311.5,277.7 311.6,279.9 311.7,278.4 311.8,274.1 311.9,276.5 312.0,278.9 312.1,273.7 312.2,279.6 312.3,273.9 312.4,277.0 312.5,275.7 312.6,275.0 312.7,275.8 312.8,273.8 312.9,276.3 313.0,277.0 313.1,277.6 313.2,279.1 313.3,277.7 313.4,274.4 313.5,274.7 313.6,273.6 313.7,271.0 313.8,274.9 313.9,275.3 314.0,278.9 314.1,276.8 314.2,272.0 314.3,275.3 314.4,276.6 314.5,275.7 314.6,280.0 314.7,278.0 314.8,278.9 314.9,280.5 315.0,274.8 315.1,274.4 315.2,276.7 315.3,275.6 315.4,278.3 315.5,275.4 315.6,274.8 315.7,273.3 315.8,273.3 315.9,275.4 316.0,276.6 316.1,277.9 316.2,277.5 316.3,275.1 316.4,275.2 316.5,276.3 316.6,273.1 316.7,275.1 316.8,276.3 316.9,276.7 317.0,276.2 317.1,278.2 317.2,278.2 317.3,275.6 317.4,277.5 317.5,276.8 317.6,273.9 317.7,276.7 317.8,273.8 317.9,276.3 318.0,273.4 318.1,275.4 318.2,279.8 318.3,273.9 318.4,276.7 318.5,280.2 318.6,276.1 318.7,276.0 318.8,278.8 318.9,277.5 319.0,275.2 319.1,273.6 319.2,274.1 319.3,273.9 319.4,274.1 319.5,281.2 319.6,277.7 319.7,276.0 319.8,281.6 319.9,274.8 320.0,274.6 320.1,277.8 320.2,277.1 320.2,278.2 320.3,276.4 320.4,276.4 320.5,276.3 320.6,278.3 320.7,275.6 320.8,277.0 320.9,274.5 321.0,275.7 321.1,279.2 321.2,279.1 321.3,276.2 321.4,277.3 321.5,275.4 321.6,274.7 321.7,276.3 321.8,279.6 321.9,278.7 322.0,275.2 322.1,278.4 322.2,274.2 322.3,276.5 322.4,275.3 322.5,278.0 322.6,276.5 322.7,282.1 322.8,276.7 322.9,275.2 323.0,278.1 323.1,278.0 323.2,276.4 323.3,276.2 323.4,277.9 323.5,275.0 323.6,279.5 323.7,274.1 323.8,279.1 323.9,277.9 324.0,273.7 324.1,278.3 324.2,279.6 324.3,276.2 324.4,278.1 324.5,278.5 324.6,277.7 324.7,277.8 324.8,278.2 324.9,278.3 325.0,273.2 325.1,277.6 325.2,274.4 325.3,279.1 325.4,275.3 325.5,278.8 325.6,277.2 325.7,275.1 325.8,277.4 325.9,280.2 326.0,277.4 326.1,276.6 326.2,275.2 326.3,278.3 326.4,276.9 326.5,276.2 326.6,279.5 326.7,276.5 326.8,277.9 326.9,275.5 327.0,276.5 327.1,276.6 327.2,281.0 327.3,276.5 327.4,277.0 327.5,278.2 327.6,277.3 327.7,278.8 327.8,276.0 327.9,275.0 328.0,275.2 328.1,277.3 328.2,273.0 328.3,274.6 328.4,278.2 328.5,276.6 328.6,279.5 328.7,276.6 328.8,274.9 328.9,273.8 329.0,277.1 329.1,279.8 329.2,276.7 329.3,273.7 329.4,276.0 329.5,273.8 329.6,274.7 329.7,273.3 329.8,275.1 329.9,277.6 330.0,275.4 330.1,271.4 330.2,277.3 330.3,279.9 330.4,272.2 330.5,275.5 330.6,277.5 330.7,277.5 330.8,279.3 330.9,274.9 331.0,276.0 331.1,277.6 331.2,277.1 331.3,277.2 331.4,274.2 331.5,276.7 331.6,273.6 331.7,278.0 331.8,277.5 331.9,277.3 332.0,277.4 332.1,276.5 332.2,274.3 332.3,274.0 332.4,278.4 332.5,273.8 332.6,276.1 332.7,273.2 332.8,276.6 332.9,278.0 333.0,274.8 333.1,275.1 333.2,277.2 333.3,276.3 333.4,276.1 333.5,275.7 333.6,279.7 333.7,278.7 333.8,276.2 333.9,275.8 334.0,277.3 334.1,279.8 334.2,273.7 334.3,276.9 334.4,278.4 334.4,273.2 334.5,274.1 334.6,274.3 334.7,274.7 334.8,275.2 334.9,278.2 335.0,276.3 335.1,275.6 335.2,275.1 335.3,275.4 335.4,278.3 335.5,277.5 335.6,277.0 335.7,276.7 335.8,278.0 335.9,279.9 336.0,278.7 336.1,275.7 336.2,276.3 336.3,275.2 336.4,280.0 336.5,277.1 336.6,274.6 336.7,280.2 336.8,278.4 336.9,279.6 337.0,274.0 337.1,276.3 337.2,277.4 337.3,276.0 337.4,276.5 337.5,274.5 337.6,274.0 337.7,274.5 337.8,275.6 337.9,274.8 338.0,274.7 338.1,274.0 338.2,279.9 338.3,275.6 338.4,276.2 338.5,276.0 338.6,276.8 338.7,276.5 338.8,275.4 338.9,275.9 339.0,276.1 339.1,278.4 339.2,278.8 339.3,277.8 339.4,279.8 339.5,277.3 339.6,278.0 339.7,279.8 339.8,280.1 339.9,277.2 340.0,277.5 340.1,272.1 340.2,274.6 340.3,277.8 340.4,277.3 340.5,278.3 340.6,277.9 340.7,277.0 340.8,276.4 340.9,277.5 341.0,274.7 341.1,275.1 341.2,272.5 341.3,278.9 341.4,275.0 341.5,277.1 341.6,279.5 341.7,276.9 341.8,279.5 341.9,276.4 342.0,271.0 342.1,273.8 342.2,272.8 342.3,274.0 342.4,279.3 342.5,275.5 342.6,276.0 342.7,275.5 342.8,278.3 342.9,280.2 343.0,272.2 343.1,274.0 343.2,275.7 343.3,277.3 343.4,276.0 343.5,278.7 343.6,274.4 343.7,276.0 343.8,276.6 343.9,277.2 344.0,276.4 344.1,276.1 344.2,277.1 344.3,274.4 344.4,275.9 344.5,276.5 344.6,278.0 344.7,273.9 344.8,273.8 344.9,275.0 345.0,279.9 345.1,277.0 345.2,274.4 345.3,276.2 345.4,273.8 345.5,277.2 345.6,274.8 345.7,275.3 345.8,281.1 345.9,277.1 346.0,276.8 346.1,277.5 346.2,278.1 346.3,273.2 346.4,276.6 346.5,274.8 346.6,278.9 346.7,280.4 346.8,277.2 346.9,275.5 347.0,277.7 347.1,275.3 347.2,274.8 347.3,277.2 347.4,276.4 347.5,277.8 347.6,274.2 347.7,272.9 347.8,275.3 347.9,277.3 348.0,277.7 348.1,276.9 348.2,274.6 348.3,277.8 348.4,273.4 348.5,278.7 348.6,276.3 348.6,273.7 348.7,272.8 348.8,277.1 348.9,274.8 349.0,271.4 349.1,274.0 349.2,280.6 349.3,275.8 349.4,271.7 349.5,278.6 349.6,274.5 349.7,280.4 349.8,273.2 349.9,278.0 350.0,274.7 350.1,274.5 350.2,281.8 350.3,279.1 350.4,275.7 350.5,279.3 350.6,276.4 350.7,278.2 350.8,273.7 350.9,277.3 351.0,278.1 351.1,275.1 351.2,273.9 351.3,276.6 351.4,275.8 351.5,275.4 351.6,277.3 351.7,278.6 351.8,275.3 351.9,277.0 352.0,279.0 352.1,274.6 352.2,275.5 352.3,276.0 352.4,277.8 352.5,276.8 352.6,275.1 352.7,275.4 352.8,277.9 352.9,278.1 353.0,275.6 353.1,276.0 353.2,274.7 353.3,278.6 353.4,274.5 353.5,272.9 353.6,274.5 353.7,276.1 353.8,274.5 353.9,278.8 354.0,277.2 354.1,272.3 354.2,279.5 354.3,278.6 354.4,274.7 354.5,277.6 354.6,277.4 354.7,278.5 354.8,273.0 354.9,277.5 355.0,276.9 355.1,279.9 355.2,274.8 355.3,276.3 355.4,275.3 355.5,273.2 355.6,276.0 355.7,278.6 355.8,278.3 355.9,276.2 356.0,273.7 356.1,278.7 356.2,276.8 356.3,276.6 356.4,275.0 356.5,278.1 356.6,275.7 356.7,274.8 356.8,276.4 356.9,276.5 357.0,275.1 357.1,275.2 357.2,273.9 357.3,278.4 357.4,273.9 357.5,276.8 357.6,278.5 357.7,277.4 357.8,278.7 357.9,276.7 358.0,274.3 358.1,280.7 358.2,278.6 358.3,274.8 358.4,276.9 358.5,274.8 358.6,278.9 358.7,276.4 358.8,281.4 358.9,278.0 359.0,274.9 359.1,273.9 359.2,273.1 359.3,276.4 359.4,278.0 359.5,277.1 359.6,280.1 359.7,273.7 359.8,274.0 359.9,278.1 360.0,272.7 360.1,279.0 360.2,275.2 360.3,277.9 360.4,279.7 360.5,275.5 360.6,278.6 360.7,274.0 360.8,278.1 360.9,276.1 361.0,277.3 361.1,276.1 361.2,277.6 361.3,274.7 361.4,275.1 361.5,276.2 361.6,276.6 361.7,272.5 361.8,277.7 361.9,277.2 362.0,274.8 362.1,276.3 362.2,279.5 362.3,276.6 362.4,277.1 362.5,278.3 362.6,275.9 362.7,278.5 362.8,276.8 362.8,278.5 362.9,273.3 363.0,276.9 363.1,275.5 363.2,275.8 363.3,274.9 363.4,276.6 363.5,274.8 363.6,276.1 363.7,281.1 363.8,275.7" stroke="#000" stroke-width="0.95" fill="none" stroke-linejoin="round"/>
<path d="M270.6,297.6 270.7,301.1 270.8,299.9 270.9,300.2 271.0,299.4 271.1,302.0 271.2,300.9 271.3,301.3 271.4,301.6 271.5,301.4 271.6,301.0 271.7,300.7 271.8,301.5 271.9,299.9 272.0,301.0 272.1,304.2 272.2,299.0 272.3,300.9 272.4,301.3 272.5,300.1 272.6,300.1 272.7,300.4 272.8,301.4 272.9,300.2 273.0,302.2 273.1,298.7 273.2,301.9 273.3,300.7 273.4,300.4 273.5,300.2 273.6,300.7 273.7,299.9 273.8,304.8 273.9,300.7 274.0,300.8 274.1,301.1 274.2,298.8 274.3,301.8 274.4,300.7 274.5,303.0 274.6,300.3 274.7,302.6 274.8,302.5 274.9,297.8 275.0,299.8 275.1,300.7 275.2,300.5 275.3,302.4 275.4,301.9 275.5,300.2 275.6,303.2 275.7,300.3 275.8,302.8 275.9,300.5 276.0,302.0 276.1,298.6 276.2,299.5 276.3,301.3 276.4,303.0 276.5,301.6 276.6,300.8 276.7,301.9 276.8,300.4 276.9,299.5 277.0,300.8 277.1,301.2 277.2,299.8 277.3,301.1 277.4,299.7 277.5,301.1 277.6,298.8 277.7,301.1 277.7,302.0 277.8,300.6 277.9,301.5 278.0,301.9 278.1,300.9 278.2,299.9 278.3,303.4 278.4,300.8 278.5,301.0 278.6,301.0 278.7,299.8 278.8,302.4 278.9,300.0 279.0,301.1 279.1,300.7 279.2,301.1 279.3,301.2 279.4,301.4 279.5,300.3 279.6,298.3 279.7,299.5 279.8,299.8 279.9,300.1 280.0,301.4 280.1,300.1 280.2,298.3 280.3,302.4 280.4,299.8 280.5,299.6 280.6,300.5 280.7,299.9 280.8,299.1 280.9,298.1 281.0,299.2 281.1,298.8 281.2,300.4 281.3,299.8 281.4,300.6 281.5,300.5 281.6,301.4 281.7,300.0 281.8,299.1 281.9,301.0 282.0,300.5 282.1,300.1 282.2,300.8 282.3,299.7 282.4,300.5 282.5,302.2 282.6,302.1 282.7,299.9 282.8,300.1 282.9,299.5 283.0,300.5 283.1,300.6 283.2,302.7 283.3,299.2 283.4,301.9 283.5,299.6 283.6,302.2 283.7,301.6 283.8,300.7 283.9,301.4 284.0,301.7 284.1,299.8 284.2,300.0 284.3,300.4 284.4,301.3 284.5,301.8 284.6,301.4 284.7,301.5 284.8,300.9 284.9,300.0 285.0,301.1 285.1,301.8 285.2,301.6 285.3,299.3 285.4,300.7 285.5,300.6 285.6,300.6 285.7,300.2 285.8,300.7 285.9,299.5 286.0,299.9 286.1,304.3 286.2,301.1 286.3,297.4 286.4,302.4 286.5,300.8 286.6,299.6 286.7,300.9 286.8,299.3 286.9,302.4 287.0,302.4 287.1,301.1 287.2,301.8 287.3,302.2 287.4,300.3 287.5,300.6 287.6,300.9 287.7,301.4 287.8,300.6 287.9,301.1 288.0,301.8 288.1,300.3 288.2,300.5 288.3,300.9 288.4,300.1 288.5,302.3 288.6,301.1 288.7,301.6 288.8,299.4 288.9,300.4 289.0,298.5 289.1,299.1 289.2,301.4 289.3,302.3 289.4,300.4 289.5,301.3 289.6,301.2 289.7,302.3 289.8,300.3 289.9,300.8 290.0,300.5 290.1,300.7 290.2,302.1 290.3,303.7 290.4,301.4 290.5,301.8 290.6,301.7 290.7,299.9 290.8,301.2 290.9,299.3 291.0,300.8 291.1,300.2 291.2,300.5 291.3,300.1 291.4,302.6 291.5,299.8 291.6,300.9 291.7,302.2 291.8,300.4 291.9,300.7 291.9,299.6 292.0,300.2 292.1,300.7 292.2,303.0 292.3,299.1 292.4,299.3 292.5,300.2 292.6,300.6 292.7,299.7 292.8,302.1 292.9,300.3 293.0,301.1 293.1,302.3 293.2,300.7 293.3,300.7 293.4,299.1 293.5,300.0 293.6,303.0 293.7,303.5 293.8,301.2 293.9,301.4 294.0,302.3 294.1,302.9 294.2,301.4 294.3,302.5 294.4,302.0 294.5,300.2 294.6,300.9 294.7,302.1 294.8,302.5 294.9,301.4 295.0,299.1 295.1,301.8 295.2,299.1 295.3,302.1 295.4,301.5 295.5,300.4 295.6,302.1 295.7,301.2 295.8,302.8 295.9,300.4 296.0,299.9 296.1,302.0 296.2,301.0 296.3,301.7 296.4,303.8 296.5,298.0 296.6,300.5 296.7,300.3 296.8,300.8 296.9,301.1 297.0,298.4 297.1,303.4 297.2,301.6 297.3,301.8 297.4,301.5 297.5,300.5 297.6,302.1 297.7,302.9 297.8,302.6 297.9,300.8 298.0,300.2 298.1,300.3 298.2,299.4 298.3,301.9 298.4,300.1 298.5,300.5 298.6,301.5 298.7,302.2 298.8,300.3 298.9,302.1 299.0,301.7 299.1,302.5 299.2,299.3 299.3,301.4 299.4,301.9 299.5,301.6 299.6,301.6 299.7,301.3 299.8,303.4 299.9,302.7 300.0,300.8 300.1,300.1 300.2,302.6 300.3,301.2 300.4,302.1 300.5,304.1 300.6,301.8 300.7,302.7 300.8,300.4 300.9,301.6 301.0,301.4 301.1,303.1 301.2,301.2 301.3,303.7 301.4,301.2 301.5,299.8 301.6,302.9 301.7,300.4 301.8,299.8 301.9,301.7 302.0,300.1 302.1,301.3 302.2,302.0 302.3,303.8 302.4,302.7 302.5,303.2 302.6,298.6 302.7,301.2 302.8,301.7 302.9,303.1 303.0,299.4 303.1,302.9 303.2,299.7 303.3,300.2 303.4,301.4 303.5,302.3 303.6,301.5 303.7,303.1 303.8,300.7 303.9,299.5 304.0,300.4 304.1,300.3 304.2,302.3 304.3,301.2 304.4,302.7 304.5,302.1 304.6,300.7 304.7,298.6 304.8,301.4 304.9,301.5 305.0,303.8 305.1,301.3 305.2,302.6 305.3,303.2 305.4,303.3 305.5,301.4 305.6,302.0 305.7,300.8 305.8,301.8 305.9,301.6 306.0,299.8 306.1,300.6 306.1,300.7 306.2,299.8 306.3,301.3 306.4,302.8 306.5,302.5 306.6,303.5 306.7,301.2 306.8,302.1 306.9,301.0 307.0,300.6 307.1,302.6 307.2,301.4 307.3,300.1 307.4,301.5 307.5,300.5 307.6,301.9 307.7,302.8 307.8,301.9 307.9,303.9 308.0,300.8 308.1,302.3 308.2,300.1 308.3,303.1 308.4,301.5 308.5,301.3 308.6,301.9 308.7,301.2 308.8,302.6 308.9,303.0 309.0,303.4 309.1,302.4 309.2,302.7 309.3,301.4 309.4,302.1 309.5,302.5 309.6,302.6 309.7,304.0 309.8,302.2 309.9,301.2 310.0,303.3 310.1,302.0 310.2,300.9 310.3,302.6 310.4,301.5 310.5,302.2 310.6,298.8 310.7,300.1 310.8,300.3 310.9,302.6 311.0,301.0 311.1,302.0 311.2,301.3 311.3,302.5 311.4,301.6 311.5,302.7 311.6,301.4 311.7,299.7 311.8,303.4 311.9,303.4 312.0,301.2 312.1,300.8 312.2,302.2 312.3,301.1 312.4,301.3 312.5,301.1 312.6,300.1 312.7,302.6 312.8,301.0 312.9,301.6 313.0,302.7 313.1,301.2 313.2,303.4 313.3,303.6 313.4,300.5 313.5,303.2 313.6,299.8 313.7,300.6 313.8,302.5 313.9,302.9 314.0,304.5 314.1,302.0 314.2,303.8 314.3,300.0 314.4,303.9 314.5,301.8 314.6,305.2 314.7,302.3 314.8,300.3 314.9,302.4 315.0,302.9 315.1,302.5 315.2,301.4 315.3,300.8 315.4,302.2 315.5,304.4 315.6,301.5 315.7,300.7 315.8,299.1 315.9,301.7 316.0,301.7 316.1,302.6 316.2,301.0 316.3,299.8 316.4,303.2 316.5,301.8 316.6,303.2 316.7,302.8 316.8,302.2 316.9,301.4 317.0,303.0 317.1,302.3 317.2,300.3 317.3,301.4 317.4,301.1 317.5,301.5 317.6,302.2 317.7,301.5 317.8,301.4 317.9,302.0 318.0,300.8 318.1,302.0 318.2,300.9 318.3,302.0 318.4,301.1 318.5,302.8 318.6,302.7 318.7,324.7 318.8,322.6 318.9,323.2 319.0,323.5 319.1,323.1 319.2,324.5 319.3,323.6 319.4,324.2 319.5,325.4 319.6,323.9 319.7,324.5 319.8,322.4 319.9,324.4 320.0,324.3 320.1,322.8 320.2,323.7 320.2,324.9 320.3,323.5 320.4,324.4 320.5,322.1 320.6,324.7 320.7,324.4 320.8,326.3 320.9,324.4 321.0,322.0 321.1,323.8 321.2,324.6 321.3,323.5 321.4,324.0 321.5,323.8 321.6,321.4 321.7,321.9 321.8,322.3 321.9,322.2 322.0,324.6 322.1,325.6 322.2,323.1 322.3,323.4 322.4,323.7 322.5,323.9 322.6,323.1 322.7,323.2 322.8,323.5 322.9,323.3 323.0,324.0 323.1,324.1 323.2,322.5 323.3,324.0 323.4,321.9 323.5,323.2 323.6,323.7 323.7,322.7 323.8,324.3 323.9,324.0 324.0,324.1 324.1,323.8 324.2,323.2 324.3,321.9 324.4,323.3 324.5,324.8 324.6,324.6 324.7,325.5 324.8,323.1 324.9,323.0 325.0,323.5 325.1,323.5 325.2,323.3 325.3,323.4 325.4,323.2 325.5,323.6 325.6,324.8 325.7,323.0 325.8,322.6 325.9,325.4 326.0,324.1 326.1,324.9 326.2,323.4 326.3,324.1 326.4,322.5 326.5,322.8 326.6,324.3 326.7,324.3 326.8,324.4 326.9,323.3 327.0,324.7 327.1,323.5 327.2,325.2 327.3,322.9 327.4,323.4 327.5,325.0 327.6,324.6 327.7,323.8 327.8,323.6 327.9,326.5 328.0,323.7 328.1,322.5 328.2,324.3 328.3,325.2 328.4,322.8 328.5,323.7 328.6,323.7 328.7,323.3 328.8,325.1 328.9,324.5 329.0,325.0 329.1,325.0 329.2,324.2 329.3,324.9 329.4,322.4 329.5,323.5 329.6,323.2 329.7,325.5 329.8,324.1 329.9,324.1 330.0,323.8 330.1,323.5 330.2,324.7 330.3,324.8 330.4,323.1 330.5,321.9 330.6,322.0 330.7,324.2 330.8,324.7 330.9,323.8 331.0,323.5 331.1,322.3 331.2,324.2 331.3,324.7 331.4,323.0 331.5,324.7 331.6,324.8 331.7,323.5 331.8,324.2 331.9,325.0 332.0,324.2 332.1,324.4 332.2,324.2 332.3,324.7 332.4,323.5 332.5,324.3 332.6,324.6 332.7,323.0 332.8,324.9 332.9,323.3 333.0,323.5 333.1,324.3 333.2,323.8 333.3,325.4 333.4,323.8 333.5,325.0 333.6,324.8 333.7,323.8 333.8,324.7 333.9,323.9 334.0,323.7 334.1,323.1 334.2,323.7 334.3,323.1 334.4,324.7 334.4,324.4 334.5,323.5 334.6,323.0 334.7,323.6 334.8,324.6 334.9,325.1 335.0,324.9 335.1,323.0 335.2,325.0 335.3,324.3 335.4,323.5 335.5,323.7 335.6,324.7 335.7,322.2 335.8,323.9 335.9,323.8 336.0,323.3 336.1,324.4 336.2,323.5 336.3,324.2 336.4,324.9 336.5,325.0 336.6,323.8 336.7,324.0 336.8,324.3 336.9,324.5 337.0,324.3 337.1,323.4 337.2,323.1 337.3,324.4 337.4,323.9 337.5,325.8 337.6,325.2 337.7,324.8 337.8,325.0 337.9,323.5 338.0,326.0 338.1,323.7 338.2,323.5 338.3,322.1 338.4,324.6 338.5,323.7 338.6,322.8 338.7,323.3 338.8,325.0 338.9,324.5 339.0,325.2 339.1,324.1 339.2,323.5 339.3,322.9 339.4,323.7 339.5,323.4 339.6,323.2 339.7,324.9 339.8,323.6 339.9,323.3 340.0,324.3 340.1,325.1 340.2,324.0 340.3,324.0 340.4,323.6 340.5,325.8 340.6,324.5 340.7,322.3 340.8,323.0 340.9,324.3 341.0,324.5 341.1,324.5 341.2,325.1 341.3,324.6 341.4,324.3 341.5,325.3 341.6,324.3 341.7,324.0 341.8,325.4 341.9,324.6 342.0,325.6 342.1,324.2 342.2,324.0 342.3,324.7 342.4,324.2 342.5,323.7 342.6,323.6 342.7,325.5 342.8,324.5 342.9,325.6 343.0,326.0 343.1,323.3 343.2,323.6 343.3,323.1 343.4,323.6 343.5,324.7 343.6,324.1 343.7,324.8 343.8,323.0 343.9,326.4 344.0,323.9 344.1,324.8 344.2,323.6 344.3,323.2 344.4,324.9 344.5,323.0 344.6,323.3 344.7,325.7 344.8,322.6 344.9,325.4 345.0,325.5 345.1,323.4 345.2,325.0 345.3,324.1 345.4,324.4 345.5,325.2 345.6,322.9 345.7,323.0 345.8,324.2 345.9,322.9 346.0,324.3 346.1,324.1 346.2,324.6 346.3,325.5 346.4,324.6 346.5,325.2 346.6,324.0 346.7,324.2 346.8,324.9 346.9,323.2 347.0,324.0 347.1,322.7 347.2,324.7 347.3,324.7 347.4,325.0 347.5,324.1 347.6,324.5 347.7,324.3 347.8,322.8 347.9,323.6 348.0,324.9 348.1,324.0 348.2,324.6 348.3,324.7 348.4,324.6 348.5,324.3 348.6,323.8 348.6,323.5 348.7,324.4 348.8,325.1 348.9,324.4 349.0,324.6 349.1,324.6 349.2,325.5 349.3,324.5 349.4,326.1 349.5,323.3 349.6,323.7 349.7,323.7 349.8,325.3 349.9,324.2 350.0,323.3 350.1,324.6 350.2,325.4 350.3,324.5 350.4,326.5 350.5,323.6 350.6,324.0 350.7,325.7 350.8,323.8 350.9,323.4 351.0,323.9 351.1,323.8 351.2,323.0 351.3,324.2 351.4,323.2 351.5,324.6 351.6,325.1 351.7,324.8 351.8,325.4 351.9,324.1 352.0,325.1 352.1,324.1 352.2,324.2 352.3,323.0 352.4,322.9 352.5,325.0 352.6,324.6 352.7,324.6 352.8,325.0 352.9,322.8 353.0,323.4 353.1,324.7 353.2,325.8 353.3,325.1 353.4,324.5 353.5,323.1 353.6,325.7 353.7,323.2 353.8,325.8 353.9,324.2 354.0,325.6 354.1,324.9 354.2,326.7 354.3,324.0 354.4,324.5 354.5,325.5 354.6,326.5 354.7,324.6 354.8,324.6 354.9,325.9 355.0,324.1 355.1,324.7 355.2,325.6 355.3,325.3 355.4,326.8 355.5,323.9 355.6,323.7 355.7,324.7 355.8,325.7 355.9,325.6 356.0,324.8 356.1,325.4 356.2,324.3 356.3,325.4 356.4,323.8 356.5,323.5 356.6,325.1 356.7,325.3 356.8,327.3 356.9,324.6 357.0,324.3 357.1,325.5 357.2,323.6 357.3,325.2 357.4,325.7 357.5,323.9 357.6,324.2 357.7,326.5 357.8,325.3 357.9,325.8 358.0,324.8 358.1,324.5 358.2,325.0 358.3,324.5 358.4,323.8 358.5,324.9 358.6,325.8 358.7,325.5 358.8,330.9 358.9,323.1 359.0,324.8 359.1,324.3 359.2,325.4 359.3,325.2 359.4,323.8 359.5,325.1 359.6,324.5 359.7,324.6 359.8,323.6 359.9,324.5 360.0,324.7 360.1,324.9 360.2,325.2 360.3,323.8 360.4,322.7 360.5,326.1 360.6,323.8 360.7,325.6 360.8,325.3 360.9,325.0 361.0,325.1 361.1,325.0 361.2,325.2 361.3,323.1 361.4,326.0 361.5,325.3 361.6,325.4 361.7,324.5 361.8,325.9 361.9,324.7 362.0,324.6 362.1,323.0 362.2,324.1 362.3,324.8 362.4,324.6 362.5,323.1 362.6,324.8 362.7,325.4 362.8,325.3 362.8,325.1 362.9,323.9 363.0,325.6 363.1,325.3 363.2,324.8 363.3,325.6 363.4,324.2 363.5,325.1 363.6,324.3 363.7,324.3 363.8,323.4 363.9,323.2 364.0,325.6 364.1,326.0 364.2,325.8 364.3,324.3 364.4,324.3 364.5,324.8 364.6,324.8 364.7,323.4 364.8,324.0 364.9,324.6 365.0,324.2 365.1,326.2 365.2,323.7 365.3,322.9 365.4,324.7 365.5,325.2 365.6,323.7 365.7,325.3 365.8,324.7 365.9,324.3 366.0,325.0 366.1,324.2 366.2,326.6 366.3,327.0 366.4,324.2 366.5,324.3 366.6,324.6 366.7,325.2 366.8,324.8 366.9,324.4 367.0,325.9 367.1,324.6 367.2,325.5 367.3,323.0 367.4,324.5 367.5,324.6 367.6,323.9 367.7,324.0 367.8,324.0 367.9,325.4 368.0,324.7 368.1,324.1 368.2,324.7 368.3,324.7 368.4,325.4 368.5,324.7 368.6,323.6 368.7,326.0 368.8,326.1 368.9,326.0 369.0,326.3 369.1,323.7 369.2,323.2 369.3,324.4 369.4,324.8 369.5,323.6 369.6,323.9 369.7,326.9 369.8,325.0 369.9,322.7 370.0,325.3 370.1,325.5 370.2,325.5 370.3,323.5 370.4,325.3 370.5,324.5 370.6,323.8 370.7,324.7 370.8,324.9 370.9,325.9 371.0,326.0 371.1,324.0 371.2,326.1 371.3,324.0 371.4,323.8 371.5,323.6 371.6,325.1 371.7,325.7 371.8,324.9 371.9,323.8 372.0,324.5 372.1,324.5 372.2,325.1 372.3,324.1 372.4,326.7 372.5,326.0 372.6,323.6 372.7,324.5 372.8,324.3 372.9,326.7 373.0,325.7 373.1,325.4 373.2,325.1 373.3,323.9 373.4,325.5 373.5,324.9 373.6,325.6 373.7,325.2 373.8,324.7 373.9,324.6 374.0,324.1 374.1,326.1 374.2,324.3 374.3,324.6 374.4,325.7 374.5,323.8 374.6,325.6 374.7,325.3 374.8,324.5 374.9,323.7 375.0,325.4 375.1,323.7 375.2,324.7 375.3,325.7 375.4,324.4 375.5,325.0 375.6,325.7 375.7,325.2 375.8,323.9 375.9,324.7 376.0,325.3 376.1,324.3 376.2,326.3 376.3,324.5 376.4,323.9 376.5,326.1 376.6,326.0 376.7,325.8 376.8,325.2 376.9,325.7 377.0,325.1 377.0,326.0 377.1,324.8 377.2,324.6 377.3,324.7 377.4,325.6 377.5,324.3 377.6,326.5 377.7,325.7 377.8,325.2 377.9,323.9 378.0,325.4 378.1,324.5 378.2,323.6 378.3,323.3 378.4,323.5 378.5,325.8 378.6,324.9 378.7,324.7 378.8,324.5 378.9,324.6 379.0,325.2 379.1,325.1 379.2,326.3 379.3,324.5 379.4,324.8 379.5,325.6 379.6,323.5 379.7,325.1 379.8,325.7 379.9,324.6 380.0,324.7 380.1,324.6 380.2,325.2 380.3,324.5 380.4,325.0 380.5,324.1 380.6,324.9 380.7,325.9 380.8,326.1 380.9,324.6 381.0,324.3 381.1,326.5 381.2,324.6 381.3,325.2 381.4,324.9 381.5,325.9 381.6,326.2 381.7,325.7 381.8,325.9 381.9,325.5 382.0,325.1 382.1,325.1 382.2,323.5 382.3,326.0 382.4,325.6 382.5,325.1 382.6,324.6 382.7,326.1 382.8,326.5 382.9,325.0 383.0,324.9 383.1,324.7 383.2,324.6 383.3,326.6 383.4,324.3 383.5,325.3 383.6,323.4 383.7,325.6 383.8,327.1 383.9,325.3 384.0,325.1 384.1,324.9 384.2,325.0 384.3,325.7 384.4,326.7 384.5,325.4 384.6,325.5 384.7,325.8 384.8,325.2 384.9,325.5 385.0,327.1 385.1,326.0 385.2,326.0 385.3,325.5 385.4,323.8 385.5,325.3 385.6,324.8 385.7,327.1 385.8,324.2 385.9,325.8 386.0,324.8 386.1,326.2 386.2,325.3 386.3,324.6 386.4,325.3 386.5,325.1 386.6,326.0 386.7,325.9 386.8,325.1 386.9,325.5 387.0,325.2 387.1,325.9 387.2,325.7 387.3,324.6 387.4,324.1 387.5,325.7 387.6,325.9 387.7,325.2 387.8,324.5 387.9,325.1 388.0,324.4 388.1,325.5 388.2,326.2 388.3,327.0 388.4,324.6 388.5,325.1 388.6,325.9 388.7,325.0 388.8,326.4 388.9,324.4 389.0,324.4 389.1,324.3 389.2,325.7 389.3,324.1 389.4,324.6 389.5,323.9 389.6,326.9 389.7,324.5 389.8,324.2 389.9,325.6 390.0,324.5 390.1,325.3 390.2,324.1 390.3,325.6 390.4,325.3 390.5,326.4 390.6,323.6 390.7,326.1 390.8,326.3 390.9,326.2 391.0,325.3 391.1,325.3 391.2,325.0 391.2,324.0 391.3,324.5 391.4,326.7 391.5,325.2 391.6,325.6 391.7,324.7 391.8,325.3 391.9,324.2 392.0,325.3 392.1,323.7 392.2,326.3 392.3,324.4 392.4,324.6 392.5,326.1 392.6,326.6 392.7,326.0 392.8,325.1 392.9,324.0 393.0,326.7 393.1,325.7 393.2,326.6 393.3,324.7 393.4,325.3 393.5,325.4 393.6,324.8 393.7,325.2 393.8,324.2 393.9,325.7 394.0,326.0 394.1,325.5 394.2,325.5 394.3,324.3 394.4,325.8 394.5,325.9 394.6,326.1 394.7,326.2 394.8,327.2 394.9,325.4 395.0,325.0 395.1,325.3 395.2,326.2 395.3,324.7 395.4,324.9 395.5,325.3 395.6,324.9 395.7,325.6 395.8,325.1 395.9,325.0 396.0,326.6 396.1,326.0 396.2,326.1 396.3,325.2 396.4,327.8 396.5,325.3 396.6,325.5 396.7,325.7 396.8,325.2 396.9,326.9 397.0,325.3 397.1,326.2 397.2,326.1 397.3,324.3 397.4,325.8 397.5,324.6 397.6,325.6 397.7,325.8 397.8,325.9 397.9,326.8 398.0,325.9 398.1,325.4 398.2,324.3 398.3,324.9 398.4,324.8 398.5,326.4 398.6,326.2 398.7,325.2 398.8,325.1 398.9,326.5 399.0,324.7 399.1,326.2 399.2,325.4 399.3,326.0 399.4,324.9 399.5,324.8 399.6,324.7 399.7,326.4 399.8,325.5 399.9,323.6 400.0,325.6 400.1,325.2 400.2,325.5 400.3,326.1 400.4,324.1 400.5,324.2 400.6,326.2 400.7,325.2 400.8,324.0 400.9,331.5 401.0,325.6 401.1,324.8 401.2,324.9 401.3,326.7 401.4,326.4 401.5,324.2 401.6,326.1 401.7,325.7 401.8,326.2 401.9,323.9 402.0,326.8 402.1,325.5 402.2,326.0 402.3,325.9 402.4,326.7 402.5,326.4 402.6,325.8 402.7,325.4 402.8,327.3 402.9,325.6 403.0,326.5 403.1,325.7 403.2,326.1 403.3,325.8 403.4,325.9 403.5,325.3 403.6,325.7 403.7,327.2 403.8,327.8 403.9,327.0 404.0,325.5 404.1,327.2 404.2,326.6 404.3,324.1 404.4,326.0 404.5,325.9 404.6,325.4 404.7,325.2 404.8,326.2 404.9,325.6 405.0,327.6 405.1,325.4 405.2,325.2 405.3,327.3 405.4,324.9 405.4,324.0 405.5,328.0 405.6,325.9 405.7,324.5 405.8,325.1 405.9,326.4 406.0,326.3 406.1,326.1 406.2,325.2 406.3,326.5 406.4,327.1 406.5,325.7 406.6,326.5 406.7,324.3 406.8,326.7 406.9,325.5 407.0,326.0 407.1,327.1 407.2,326.3 407.3,327.6 407.4,325.5 407.5,326.7 407.6,326.9 407.7,327.2 407.8,324.6 407.9,325.4 408.0,326.7 408.1,326.0 408.2,325.3 408.3,325.3 408.4,325.8 408.5,327.7 408.6,324.3 408.7,326.0 408.8,324.6 408.9,327.0 409.0,325.1 409.1,324.6 409.2,324.8 409.3,327.0 409.4,326.1 409.5,324.5 409.6,326.6 409.7,325.2 409.8,326.0 409.9,327.2 410.0,325.0 410.1,324.9 410.2,325.3 410.3,325.6 410.4,325.0 410.5,327.7 410.6,325.9 410.7,324.3 410.8,325.4 410.9,324.9 411.0,326.1 411.1,325.6 411.2,326.9 411.3,325.4 411.4,325.6 411.5,326.2 411.6,325.9 411.7,325.8 411.8,325.7 411.9,325.2 412.0,325.0 412.1,327.9 412.2,325.7 412.3,324.9 412.4,327.0 412.5,326.1 412.6,323.8 412.7,326.5 412.8,325.0 412.9,325.7 413.0,327.2 413.1,326.2 413.2,327.6 413.3,326.3 413.4,325.1 413.5,325.4 413.6,325.7 413.7,326.4 413.8,325.4 413.9,324.8 414.0,325.3 414.1,325.1 414.2,325.5 414.3,325.6 414.4,326.8 414.5,324.6 414.6,326.9 414.7,326.8 414.8,326.6 414.9,326.6 415.0,324.8 415.1,326.2 415.2,326.2 415.3,326.2 415.4,326.0 415.5,324.8 415.6,324.6 415.7,326.4 415.8,324.4 415.9,325.5 416.0,325.7 416.1,324.8 416.2,325.9 416.3,325.7 416.4,325.9 416.5,327.1 416.6,327.1 416.7,326.9 416.8,326.8 416.9,326.6 417.0,326.5 417.1,325.0 417.2,326.0 417.3,325.3 417.4,325.7 417.5,326.8 417.6,326.3 417.7,327.4 417.8,327.6 417.9,325.7 418.0,326.1 418.1,326.0 418.2,325.2 418.3,327.3 418.4,326.2 418.5,328.1 418.6,326.9 418.7,325.5 418.8,327.5 418.9,327.3 419.0,326.4 419.1,324.6 419.2,325.4 419.3,326.3 419.4,325.5 419.5,326.0 419.6,326.5 419.6,326.6 419.7,325.7 419.8,326.2 419.9,325.4 420.0,326.6 420.1,325.4 420.2,326.5 420.3,325.1 420.4,325.2 420.5,326.8 420.6,324.1 420.7,325.8 420.8,326.7 420.9,327.3 421.0,326.1 421.1,326.0 421.2,326.8 421.3,327.1 421.4,326.6 421.5,327.1 421.6,326.7 421.7,327.0 421.8,325.8 421.9,328.5 422.0,324.4 422.1,326.6 422.2,326.2 422.3,327.4 422.4,325.2 422.5,326.3 422.6,326.5 422.7,327.0 422.8,325.7 422.9,325.8 423.0,326.8 423.1,324.7 423.2,327.0 423.3,325.1 423.4,326.1 423.5,327.4 423.6,326.5 423.7,325.7 423.8,326.6 423.9,326.1 424.0,326.3 424.1,325.8 424.2,326.8 424.3,324.6 424.4,325.9 424.5,324.9 424.6,326.5 424.7,326.1 424.8,327.1 424.9,326.2 425.0,324.9 425.1,326.0 425.2,326.9 425.3,326.7 425.4,325.7 425.5,326.4 425.6,324.4 425.7,326.0 425.8,326.2 425.9,325.6 426.0,324.8 426.1,327.6 426.2,326.9 426.3,326.9 426.4,328.0 426.5,326.4 426.6,326.4 426.7,325.5 426.8,325.7 426.9,325.7 427.0,325.7 427.1,326.7 427.2,323.7 427.3,325.0 427.4,326.6 427.5,327.1 427.6,325.8 427.7,325.4 427.8,325.9 427.9,325.6 428.0,325.4 428.1,325.9 428.2,327.1 428.3,326.8 428.4,327.9 428.5,325.5 428.6,326.8 428.7,326.2 428.8,324.4 428.9,327.0 429.0,326.3 429.1,327.1 429.2,328.0 429.3,325.4 429.4,326.4 429.5,326.4 429.6,325.6 429.7,326.5 429.8,325.7 429.9,325.2 430.0,327.0 430.1,326.0 430.2,326.2 430.3,325.4 430.4,324.2 430.5,327.3 430.6,325.0 430.7,326.3 430.8,325.8 430.9,326.0 431.0,326.5 431.1,327.5 431.2,326.4 431.3,327.2 431.4,325.1 431.5,326.0 431.6,326.9 431.7,326.7 431.8,325.4 431.9,327.7 432.0,326.2 432.1,326.3 432.2,327.2 432.3,325.5 432.4,326.8 432.5,325.5 432.6,326.2 432.7,327.0 432.8,326.5 432.9,325.5 433.0,327.3 433.1,327.2 433.2,326.5 433.3,325.9 433.4,325.9 433.5,327.3 433.6,327.5 433.7,326.5 433.7,326.6 433.8,326.2 433.9,327.8 434.0,326.9 434.1,327.4 434.2,325.0 434.3,328.3 434.4,327.3 434.5,326.9 434.6,328.0 434.7,326.9 434.8,327.2" stroke="#000" stroke-width="0.95" fill="none" stroke-linejoin="round"/>
<path d="M270.6,355.0 270.7,352.1 270.8,357.6 270.9,352.7 271.0,355.9 271.1,355.9 271.2,350.5 271.3,354.8 271.4,355.3 271.5,353.4 271.6,352.4 271.7,355.3 271.8,353.8 271.9,357.7 272.0,356.2 272.1,356.3 272.2,358.6 272.3,359.0 272.4,359.3 272.5,355.8 272.6,355.7 272.7,356.0 272.8,355.1 272.9,358.6 273.0,355.4 273.1,354.6 273.2,353.3 273.3,357.4 273.4,356.2 273.5,360.3 273.6,356.5 273.7,360.8 273.8,358.8 273.9,352.5 274.0,360.8 274.1,353.2 274.2,354.4 274.3,356.0 274.4,354.1 274.5,353.9 274.6,352.6 274.7,355.8 274.8,356.7 274.9,356.8 275.0,357.7 275.1,355.3 275.2,357.2 275.3,352.5 275.4,359.9 275.5,358.0 275.6,357.6 275.7,360.5 275.8,350.4 275.9,361.3 276.0,355.9 276.1,356.6 276.2,351.1 276.3,360.2 276.4,352.5 276.5,357.1 276.6,355.6 276.7,356.9 276.8,353.6 276.9,358.1 277.0,355.4 277.1,354.3 277.2,350.6 277.3,361.3 277.4,351.4 277.5,352.8 277.6,356.4 277.7,354.5 277.7,356.4 277.8,351.1 277.9,354.7 278.0,355.8 278.1,355.8 278.2,355.7 278.3,355.7 278.4,357.4 278.5,350.1 278.6,360.0 278.7,364.3 278.8,355.5 278.9,355.6 279.0,354.3 279.1,355.7 279.2,355.6 279.3,354.4 279.4,352.8 279.5,356.4 279.6,356.2 279.7,350.4 279.8,353.9 279.9,357.7 280.0,349.4 280.1,353.3 280.2,356.7 280.3,358.2 280.4,354.5 280.5,357.3 280.6,357.9 280.7,358.5 280.8,356.5 280.9,352.4 281.0,356.3 281.1,358.9 281.2,353.5 281.3,355.1 281.4,353.1 281.5,352.2 281.6,355.7 281.7,355.6 281.8,355.3 281.9,358.1 282.0,353.5 282.1,351.8 282.2,354.8 282.3,355.8 282.4,355.9 282.5,357.2 282.6,357.3 282.7,356.2 282.8,357.3 282.9,356.3 283.0,359.2 283.1,354.4 283.2,355.1 283.3,341.4 283.4,361.0 283.5,355.3 283.6,352.5 283.7,357.1 283.8,356.4 283.9,356.7 284.0,353.6 284.1,357.5 284.2,352.8 284.3,356.0 284.4,352.9 284.5,355.1 284.6,355.8 284.7,358.9 284.8,357.0 284.9,355.9 285.0,353.6 285.1,354.6 285.2,357.0 285.3,354.2 285.4,352.7 285.5,355.6 285.6,356.3 285.7,356.2 285.8,353.2 285.9,353.9 286.0,357.6 286.1,354.3 286.2,356.4 286.3,357.1 286.4,352.1 286.5,353.2 286.6,357.1 286.7,355.0 286.8,354.0 286.9,356.8 287.0,355.5 287.1,353.6 287.2,359.7 287.3,354.4 287.4,353.4 287.5,354.0 287.6,358.6 287.7,354.4 287.8,357.4 287.9,353.8 288.0,353.7 288.1,354.7 288.2,357.2 288.3,356.7 288.4,353.1 288.5,357.5 288.6,354.0 288.7,353.9 288.8,355.9 288.9,349.2 289.0,355.1 289.1,349.8 289.2,360.3 289.3,360.9 289.4,352.8 289.5,353.6 289.6,356.0 289.7,355.4 289.8,360.0 289.9,356.8 290.0,357.8 290.1,355.8 290.2,353.0 290.3,355.1 290.4,354.3 290.5,357.0 290.6,356.3 290.7,354.9 290.8,355.9 290.9,352.1 291.0,357.4 291.1,350.5 291.2,357.7 291.3,352.6 291.4,357.2 291.5,351.1 291.6,354.9 291.7,354.2 291.8,353.4 291.9,356.8 291.9,357.9 292.0,360.3 292.1,352.2 292.2,357.0 292.3,356.7 292.4,355.3 292.5,350.2 292.6,359.6 292.7,354.6 292.8,356.2 292.9,353.9 293.0,359.8 293.1,356.2 293.2,353.1 293.3,351.3 293.4,351.2 293.5,357.4 293.6,355.1 293.7,355.5 293.8,358.7 293.9,358.9 294.0,353.3 294.1,354.6 294.2,355.6 294.3,352.2 294.4,357.7 294.5,353.9 294.6,355.2 294.7,355.4 294.8,354.0 294.9,354.8 295.0,354.6 295.1,354.6 295.2,350.4 295.3,356.0 295.4,352.7 295.5,353.7 295.6,356.1 295.7,353.2 295.8,357.4 295.9,352.3 296.0,357.3 296.1,356.5 296.2,354.4 296.3,353.1 296.4,352.9 296.5,353.0 296.6,355.8 296.7,357.6 296.8,353.8 296.9,354.5 297.0,357.6 297.1,352.8 297.2,354.7 297.3,357.6 297.4,354.1 297.5,358.6 297.6,357.4 297.7,354.2 297.8,359.1 297.9,355.1 298.0,358.6 298.1,353.4 298.2,357.1 298.3,354.8 298.4,359.0 298.5,356.1 298.6,352.8 298.7,354.1 298.8,359.9 298.9,352.9 299.0,353.0 299.1,356.2 299.2,351.7 299.3,357.9 299.4,355.4 299.5,352.4 299.6,351.9 299.7,352.0 299.8,358.0 299.9,359.7 300.0,354.2 300.1,358.8 300.2,355.6 300.3,358.5 300.4,352.6 300.5,353.2 300.6,353.8 300.7,355.2 300.8,355.1 300.9,356.0 301.0,354.3 301.1,354.6 301.2,354.1 301.3,356.3 301.4,350.5 301.5,354.5 301.6,351.7 301.7,351.9 301.8,357.4 301.9,359.5 302.0,352.1 302.1,356.2 302.2,355.0 302.3,355.9 302.4,354.9 302.5,358.2 302.6,355.5 302.7,356.4 302.8,355.3 302.9,361.1 303.0,353.2 303.1,354.4 303.2,359.6 303.3,357.1 303.4,355.2 303.5,353.6 303.6,355.2 303.7,351.8 303.8,355.2 303.9,357.7 304.0,356.9 304.1,353.4 304.2,356.8 304.3,353.1 304.4,352.7 304.5,353.8 304.6,352.7 304.7,355.7 304.8,362.2 304.9,356.7 305.0,356.8 305.1,359.2 305.2,356.6 305.3,357.9 305.4,358.8 305.5,354.9 305.6,354.1 305.7,356.1 305.8,351.8 305.9,352.9 306.0,352.6 306.1,356.7 306.1,359.0 306.2,353.8 306.3,354.5 306.4,353.4 306.5,354.2 306.6,352.1 306.7,356.0 306.8,353.6 306.9,357.5 307.0,361.0 307.1,356.3 307.2,351.5 307.3,359.4 307.4,352.7 307.5,356.9 307.6,356.2 307.7,355.1 307.8,354.7 307.9,357.7 308.0,354.9 308.1,354.1 308.2,353.1 308.3,357.1 308.4,351.3 308.5,350.4 308.6,349.2 308.7,358.6 308.8,354.8 308.9,359.9 309.0,354.3 309.1,353.8 309.2,358.1 309.3,359.2 309.4,354.8 309.5,353.7 309.6,357.2 309.7,355.9 309.8,361.6 309.9,357.0 310.0,354.9 310.1,354.8 310.2,351.3 310.3,358.1 310.4,360.9 310.5,354.1 310.6,356.7 310.7,354.5 310.8,353.4 310.9,353.7 311.0,351.6 311.1,351.8 311.2,359.4 311.3,355.4 311.4,350.2 311.5,356.3 311.6,352.8 311.7,355.4 311.8,356.3 311.9,351.3 312.0,352.6 312.1,355.8 312.2,353.0 312.3,358.5 312.4,357.1 312.5,353.0 312.6,355.1 312.7,357.9 312.8,354.1 312.9,354.4 313.0,352.0 313.1,352.8 313.2,355.9 313.3,356.4 313.4,355.6 313.5,355.8 313.6,351.6 313.7,351.2 313.8,351.8 313.9,354.3 314.0,355.8 314.1,353.0 314.2,356.1 314.3,354.6 314.4,359.4 314.5,356.3 314.6,351.6 314.7,357.8 314.8,359.0 314.9,355.6 315.0,351.0 315.1,351.6 315.2,356.1 315.3,356.4 315.4,355.5 315.5,357.6 315.6,355.1 315.7,356.0 315.8,358.9 315.9,356.7 316.0,355.9 316.1,357.4 316.2,358.0 316.3,353.0 316.4,350.5 316.5,356.0 316.6,356.3 316.7,354.0 316.8,355.8 316.9,357.2 317.0,351.7 317.1,357.8 317.2,357.1 317.3,356.9 317.4,357.5 317.5,355.8 317.6,353.8 317.7,351.6 317.8,353.6 317.9,355.1 318.0,358.4 318.1,355.4 318.2,357.6 318.3,355.5 318.4,352.8 318.5,354.7 318.6,355.8 318.7,357.1 318.8,355.3 318.9,355.0 319.0,357.6 319.1,356.5 319.2,353.0 319.3,359.4 319.4,356.3 319.5,358.2 319.6,351.3 319.7,353.7 319.8,353.9 319.9,354.2 320.0,354.5 320.1,354.5 320.2,359.2 320.2,354.6 320.3,353.7 320.4,358.8 320.5,353.2 320.6,353.6 320.7,359.1 320.8,356.4 320.9,356.0 321.0,356.6 321.1,354.2 321.2,358.4 321.3,355.8 321.4,354.7 321.5,353.4 321.6,355.1 321.7,355.8 321.8,353.5 321.9,360.2 322.0,352.9 322.1,356.0 322.2,358.4 322.3,356.3 322.4,359.8 322.5,360.4 322.6,356.1 322.7,357.2 322.8,353.4 322.9,357.5 323.0,358.5 323.1,357.6 323.2,350.9 323.3,355.2 323.4,356.8 323.5,357.7 323.6,358.0 323.7,355.6 323.8,354.2 323.9,352.3 324.0,352.3 324.1,354.5 324.2,356.9 324.3,357.4 324.4,361.0 324.5,357.8 324.6,354.2 324.7,356.1 324.8,354.3 324.9,358.6 325.0,353.0 325.1,354.5 325.2,355.1 325.3,354.2 325.4,360.9 325.5,356.6 325.6,357.5 325.7,350.7 325.8,355.7 325.9,356.5 326.0,353.1 326.1,357.9 326.2,351.7 326.3,357.0 326.4,355.4 326.5,357.5 326.6,353.2 326.7,360.7 326.8,353.5 326.9,357.3 327.0,355.1 327.1,358.1 327.2,354.7 327.3,354.8 327.4,353.7 327.5,354.4 327.6,353.7 327.7,352.7 327.8,356.2 327.9,358.2 328.0,358.4 328.1,353.5 328.2,356.2 328.3,352.6 328.4,355.1 328.5,357.8 328.6,353.0 328.7,350.3 328.8,355.7 328.9,357.6 329.0,357.4 329.1,353.0 329.2,356.7 329.3,356.3 329.4,353.5 329.5,355.2 329.6,354.9 329.7,356.6 329.8,356.8 329.9,354.8 330.0,354.8 330.1,353.7 330.2,356.5 330.3,354.4 330.4,354.0 330.5,355.0 330.6,353.8 330.7,352.7 330.8,354.7 330.9,355.0 331.0,357.7 331.1,354.4 331.2,355.5 331.3,356.0 331.4,357.3 331.5,353.8 331.6,348.8 331.7,354.1 331.8,355.0 331.9,354.1 332.0,356.7 332.1,355.0 332.2,356.9 332.3,356.8 332.4,354.6 332.5,354.7 332.6,355.5 332.7,357.2 332.8,354.6 332.9,358.0 333.0,353.3 333.1,356.1 333.2,355.2 333.3,353.3 333.4,353.8 333.5,358.5 333.6,355.9 333.7,354.3 333.8,358.0 333.9,361.3 334.0,355.4 334.1,355.3 334.2,354.2 334.3,355.0 334.4,354.9 334.4,354.6 334.5,351.8 334.6,354.0 334.7,353.9 334.8,356.2 334.9,352.4 335.0,355.7 335.1,353.4 335.2,360.5 335.3,354.6 335.4,355.5 335.5,356.4 335.6,352.0 335.7,354.2 335.8,355.6 335.9,356.6 336.0,350.5 336.1,353.4 336.2,353.6 336.3,357.1 336.4,352.0 336.5,353.8 336.6,355.9 336.7,355.5 336.8,359.3 336.9,353.6 337.0,358.0 337.1,353.1 337.2,356.3 337.3,356.8 337.4,354.3 337.5,354.7 337.6,358.1 337.7,355.4 337.8,353.7 337.9,355.9 338.0,358.6 338.1,355.8 338.2,357.6 338.3,356.7 338.4,355.1 338.5,355.4 338.6,355.8 338.7,359.4 338.8,354.4 338.9,355.7 339.0,356.3 339.1,354.8 339.2,350.4 339.3,358.5 339.4,359.3 339.5,353.3 339.6,357.2 339.7,352.0 339.8,357.7 339.9,356.4 340.0,353.1 340.1,352.9 340.2,354.1 340.3,354.1 340.4,355.6 340.5,356.3 340.6,355.7 340.7,352.1 340.8,353.5 340.9,355.2 341.0,354.4 341.1,353.2 341.2,352.3 341.3,355.6 341.4,355.4 341.5,354.4 341.6,348.7 341.7,354.6 341.8,352.1 341.9,359.1 342.0,353.1 342.1,358.7 342.2,357.9 342.3,356.8 342.4,355.6 342.5,354.8 342.6,354.3 342.7,354.7 342.8,356.3 342.9,348.8 343.0,354.2 343.1,353.6 343.2,350.2 343.3,352.8 343.4,353.8 343.5,354.4 343.6,350.6 343.7,357.9 343.8,357.6 343.9,354.9 344.0,360.3 344.1,357.2 344.2,352.4 344.3,356.4 344.4,354.8 344.5,353.5 344.6,358.1 344.7,354.6 344.8,356.8 344.9,358.0 345.0,355.9 345.1,355.4 345.2,356.2 345.3,356.9 345.4,352.8 345.5,352.4 345.6,353.8 345.7,355.5 345.8,357.9 345.9,357.3 346.0,358.0 346.1,354.7 346.2,353.0 346.3,353.0 346.4,355.3 346.5,356.2 346.6,354.8 346.7,354.9 346.8,353.8 346.9,351.6 347.0,356.9 347.1,350.0 347.2,360.5 347.3,359.7 347.4,359.0 347.5,357.8 347.6,355.8 347.7,350.1 347.8,357.0 347.9,352.5 348.0,356.1 348.1,354.9 348.2,357.8 348.3,349.6 348.4,355.3 348.5,356.8 348.6,349.6 348.6,354.8 348.7,354.2 348.8,355.6 348.9,357.3 349.0,358.8 349.1,355.7 349.2,351.2 349.3,354.2 349.4,355.7 349.5,352.6 349.6,357.6 349.7,351.8 349.8,355.3 349.9,357.3 350.0,353.5 350.1,353.9 350.2,356.1 350.3,354.7 350.4,352.8 350.5,351.7 350.6,357.3 350.7,361.8 350.8,350.1 350.9,355.9 351.0,356.3 351.1,354.2 351.2,356.3 351.3,352.6 351.4,358.3 351.5,355.7 351.6,375.1 351.7,351.4 351.8,355.8 351.9,352.5 352.0,351.8 352.1,358.2 352.2,355.8 352.3,353.4 352.4,355.1 352.5,355.6 352.6,353.1 352.7,353.0 352.8,342.7 352.9,355.6 353.0,353.6 353.1,354.7 353.2,354.9 353.3,358.0 353.4,350.9 353.5,355.8 353.6,354.6 353.7,355.3 353.8,355.1 353.9,354.9 354.0,357.3 354.1,354.3 354.2,352.2 354.3,354.2 354.4,353.4 354.5,354.0 354.6,355.2 354.7,350.7 354.8,356.9 354.9,354.3 355.0,352.7 355.1,354.5 355.2,357.9 355.3,357.9 355.4,351.3 355.5,357.6 355.6,355.2 355.7,353.9 355.8,355.0 355.9,359.7 356.0,360.0 356.1,355.5 356.2,357.2 356.3,355.9 356.4,355.0 356.5,354.8 356.6,358.6 356.7,359.4 356.8,352.9 356.9,356.8 357.0,358.2 357.1,360.2 357.2,353.9 357.3,358.4 357.4,357.8 357.5,353.7 357.6,354.5 357.7,353.8 357.8,358.4 357.9,362.4 358.0,357.7 358.1,356.0 358.2,356.9 358.3,353.0 358.4,354.3 358.5,357.8 358.6,353.8 358.7,355.6 358.8,356.4 358.9,352.4 359.0,359.4 359.1,352.7 359.2,352.5 359.3,360.4 359.4,355.7 359.5,355.6 359.6,358.1 359.7,356.7 359.8,357.3 359.9,355.1 360.0,356.6 360.1,360.6 360.2,352.2 360.3,353.0 360.4,357.3 360.5,353.0 360.6,350.2 360.7,359.1 360.8,356.3 360.9,356.5 361.0,353.8 361.1,356.0 361.2,358.7 361.3,352.1 361.4,356.0 361.5,353.4 361.6,349.5 361.7,357.1 361.8,356.3 361.9,352.9 362.0,355.5 362.1,353.9 362.2,355.2 362.3,348.2 362.4,353.6 362.5,354.4 362.6,354.9 362.7,354.3 362.8,359.3 362.8,355.9 362.9,353.4 363.0,358.2 363.1,355.1 363.2,355.5 363.3,356.5 363.4,349.0 363.5,353.4 363.6,354.4 363.7,357.2 363.8,355.0 363.9,356.0 364.0,355.5 364.1,354.7 364.2,348.9 364.3,351.9 364.4,350.9 364.5,351.8 364.6,348.1 364.7,356.9 364.8,358.5 364.9,354.7 365.0,354.6 365.1,355.1 365.2,356.8 365.3,353.5 365.4,350.9 365.5,354.7 365.6,355.8 365.7,352.2 365.8,356.0 365.9,356.1 366.0,354.4 366.1,361.0 366.2,350.5 366.3,355.5 366.4,353.9 366.5,354.4 366.6,354.2 366.7,358.6 366.8,350.8 366.9,353.8 367.0,354.5 367.1,347.3 367.2,358.4 367.3,353.4 367.4,355.5 367.5,359.0 367.6,350.3 367.7,359.1 367.8,354.9 367.9,355.4 368.0,354.7 368.1,357.6 368.2,351.8 368.3,354.6 368.4,358.4 368.5,358.3 368.6,354.5 368.7,358.1 368.8,354.1 368.9,354.4 369.0,356.7 369.1,360.1 369.2,358.5 369.3,354.3 369.4,356.5 369.5,350.5 369.6,356.3 369.7,354.3 369.8,353.5 369.9,355.0 370.0,354.4 370.1,352.7 370.2,355.6 370.3,354.4 370.4,356.1 370.5,350.2 370.6,354.8 370.7,353.1 370.8,362.7 370.9,356.4 371.0,358.1 371.1,355.1 371.2,356.3 371.3,357.9 371.4,355.9 371.5,353.2 371.6,352.5 371.7,356.6 371.8,352.6 371.9,356.8 372.0,353.7 372.1,357.4 372.2,352.6 372.3,349.4 372.4,356.0 372.5,352.1 372.6,358.9 372.7,356.8 372.8,348.5 372.9,355.4 373.0,354.0 373.1,359.3 373.2,355.3 373.3,357.2 373.4,352.2 373.5,356.6 373.6,348.8 373.7,358.0 373.8,354.4 373.9,360.3 374.0,356.2 374.1,352.2 374.2,355.5 374.3,358.5 374.4,354.0 374.5,352.8 374.6,354.1 374.7,352.7 374.8,358.8 374.9,350.6 375.0,353.4 375.1,360.5 375.2,350.5 375.3,356.4 375.4,353.9 375.5,360.2 375.6,356.8 375.7,359.8 375.8,353.1 375.9,355.8 376.0,357.5 376.1,356.2 376.2,352.4 376.3,357.2 376.4,353.8 376.5,358.2 376.6,359.4 376.7,356.4 376.8,355.9 376.9,354.8 377.0,352.9 377.0,356.3 377.1,356.1 377.2,353.3 377.3,354.1 377.4,355.4 377.5,354.6 377.6,360.7 377.7,356.6 377.8,384.8 377.9,383.4 378.0,382.0 378.1,384.9 378.2,382.0 378.3,383.7 378.4,383.3 378.5,383.5 378.6,382.2 378.7,383.8 378.8,385.3 378.9,382.7 379.0,383.2 379.1,382.3 379.2,382.4 379.3,384.4 379.4,382.8 379.5,382.9 379.6,383.1 379.7,382.9 379.8,382.7 379.9,383.6 380.0,383.2 380.1,381.9 380.2,384.2 380.3,383.1 380.4,384.2 380.5,384.2 380.6,383.5 380.7,382.8 380.8,381.3 380.9,383.2 381.0,382.0 381.1,382.4 381.2,382.9 381.3,386.5 381.4,382.9 381.5,383.0 381.6,384.2 381.7,382.9 381.8,381.4 381.9,384.3 382.0,383.6 382.1,382.0 382.2,385.0 382.3,384.2 382.4,382.7 382.5,382.0 382.6,381.7 382.7,382.2 382.8,380.4 382.9,382.6 383.0,384.5 383.1,383.2 383.2,382.3 383.3,382.6 383.4,385.2 383.5,382.6 383.6,383.9 383.7,383.2 383.8,381.4 383.9,383.2 384.0,383.8 384.1,383.2 384.2,383.7 384.3,380.7 384.4,382.1 384.5,382.0 384.6,383.8 384.7,383.7 384.8,382.7 384.9,385.5 385.0,381.9 385.1,384.5 385.2,382.9 385.3,382.6 385.4,383.9 385.5,382.6 385.6,382.2 385.7,380.9 385.8,382.6 385.9,381.0 386.0,382.5 386.1,383.2 386.2,382.1 386.3,383.6 386.4,382.9 386.5,382.3 386.6,381.7 386.7,382.7 386.8,384.7 386.9,381.6 387.0,382.8 387.1,383.4 387.2,383.9 387.3,382.4 387.4,382.7 387.5,382.3 387.6,383.2 387.7,381.3 387.8,383.3 387.9,382.6 388.0,382.8 388.1,381.8 388.2,383.8 388.3,383.4 388.4,383.3 388.5,383.8 388.6,383.8 388.7,384.4 388.8,382.2 388.9,381.4 389.0,384.1 389.1,382.2 389.2,384.3 389.3,383.9 389.4,383.4 389.5,382.9 389.6,382.5 389.7,385.2 389.8,384.5 389.9,382.9 390.0,383.3 390.1,380.6 390.2,383.3 390.3,383.8 390.4,381.7 390.5,386.0 390.6,385.1 390.7,380.0 390.8,383.7 390.9,383.0 391.0,383.2 391.1,384.0 391.2,383.2 391.2,384.5 391.3,382.0 391.4,382.2 391.5,382.3 391.6,384.1 391.7,385.2 391.8,383.6 391.9,384.3 392.0,382.6 392.1,384.8 392.2,384.1 392.3,382.9 392.4,382.6 392.5,382.9 392.6,384.4 392.7,383.8 392.8,380.8 392.9,382.0 393.0,383.9 393.1,380.9 393.2,383.2 393.3,383.0 393.4,384.0 393.5,381.3 393.6,382.9 393.7,383.1 393.8,384.1 393.9,384.5 394.0,382.8 394.1,383.0 394.2,381.3 394.3,384.0 394.4,383.4 394.5,381.9 394.6,382.1 394.7,383.8 394.8,381.4 394.9,382.5 395.0,382.0 395.1,382.6 395.2,381.9 395.3,383.5 395.4,383.3 395.5,381.8 395.6,382.6 395.7,382.6 395.8,381.8 395.9,382.8 396.0,382.6 396.1,385.5 396.2,383.6 396.3,382.1 396.4,384.0 396.5,383.4 396.6,382.8 396.7,383.2 396.8,382.1 396.9,382.5 397.0,383.2 397.1,381.8 397.2,383.4 397.3,383.8 397.4,382.7 397.5,382.3 397.6,383.2 397.7,384.2 397.8,383.6 397.9,382.8 398.0,382.3 398.1,381.1 398.2,383.2 398.3,383.3 398.4,385.4 398.5,381.6 398.6,382.0 398.7,383.0 398.8,383.8 398.9,385.9 399.0,382.2 399.1,383.9 399.2,381.3 399.3,382.2 399.4,381.6 399.5,383.2 399.6,381.7 399.7,384.6 399.8,381.4 399.9,383.1 400.0,384.3 400.1,383.5 400.2,384.1 400.3,382.7 400.4,383.8 400.5,384.5 400.6,383.4 400.7,383.3 400.8,382.8 400.9,382.3 401.0,381.6 401.1,382.6 401.2,381.2 401.3,385.8 401.4,383.1 401.5,382.0 401.6,384.5 401.7,383.3 401.8,382.8 401.9,384.8 402.0,383.7 402.1,382.4 402.2,383.4 402.3,381.3 402.4,380.4 402.5,383.1 402.6,384.3 402.7,383.1 402.8,383.7 402.9,384.6 403.0,383.5 403.1,383.6 403.2,383.4 403.3,382.0 403.4,381.8 403.5,382.6 403.6,383.4 403.7,382.6 403.8,383.0 403.9,382.8 404.0,384.1 404.1,386.5 404.2,382.0 404.3,383.7 404.4,383.6 404.5,383.0 404.6,383.1 404.7,383.4 404.8,381.3 404.9,382.9 405.0,382.8 405.1,384.0 405.2,383.1 405.3,382.5 405.4,383.1 405.4,382.7 405.5,384.1 405.6,382.6 405.7,384.2 405.8,383.5 405.9,383.9 406.0,382.8 406.1,381.8 406.2,382.7 406.3,384.0 406.4,382.9 406.5,381.9 406.6,382.2 406.7,382.5 406.8,384.3 406.9,383.6 407.0,383.8 407.1,383.6 407.2,382.8 407.3,383.0 407.4,383.4 407.5,382.4 407.6,383.8 407.7,383.4 407.8,382.9 407.9,384.5 408.0,384.0 408.1,384.6 408.2,384.2 408.3,383.2 408.4,383.2 408.5,382.6 408.6,382.7 408.7,384.3 408.8,381.0 408.9,381.5 409.0,384.4 409.1,383.8 409.2,383.6 409.3,382.8 409.4,382.3 409.5,383.0 409.6,385.9 409.7,379.8" stroke="#000" stroke-width="0.95" fill="none" stroke-linejoin="round"/>
<path d="M270.6,403.2 270.7,402.7 270.8,403.9 270.9,402.8 271.0,402.0 271.1,402.7 271.2,401.2 271.3,404.5 271.4,403.2 271.5,404.2 271.6,404.3 271.7,403.5 271.8,403.0 271.9,402.7 272.0,402.6 272.1,400.3 272.2,402.1 272.3,405.4 272.4,403.0 272.5,404.1 272.6,404.0 272.7,401.6 272.8,403.6 272.9,405.9 273.0,402.9 273.1,403.7 273.2,404.8 273.3,404.5 273.4,404.1 273.5,403.3 273.6,403.9 273.7,403.2 273.8,400.9 273.9,404.4 274.0,404.4 274.1,403.6 274.2,401.8 274.3,404.2 274.4,401.4 274.5,405.0 274.6,404.7 274.7,403.4 274.8,404.4 274.9,404.1 275.0,402.7 275.1,402.3 275.2,403.2 275.3,403.7 275.4,401.5 275.5,402.8 275.6,403.6 275.7,401.7 275.8,404.5 275.9,403.1 276.0,402.4 276.1,403.3 276.2,404.1 276.3,402.8 276.4,404.0 276.5,404.1 276.6,404.7 276.7,401.6 276.8,404.0 276.9,401.8 277.0,402.8 277.1,403.7 277.2,402.4 277.3,403.0 277.4,403.1 277.5,405.1 277.6,403.2 277.7,402.1 277.7,402.7 277.8,402.0 277.9,401.3 278.0,402.8 278.1,400.7 278.2,405.3 278.3,403.6 278.4,406.7 278.5,402.2 278.6,403.2 278.7,401.1 278.8,403.8 278.9,406.0 279.0,401.6 279.1,405.1 279.2,405.0 279.3,403.6 279.4,402.5 279.5,404.0 279.6,403.1 279.7,405.8 279.8,401.0 279.9,403.4 280.0,403.2 280.1,402.6 280.2,403.1 280.3,403.1 280.4,404.6 280.5,403.5 280.6,402.8 280.7,401.9 280.8,403.5 280.9,403.2 281.0,402.9 281.1,402.6 281.2,403.1 281.3,403.7 281.4,404.0 281.5,401.8 281.6,402.9 281.7,403.3 281.8,398.7 281.9,402.2 282.0,402.2 282.1,403.1 282.2,404.7 282.3,401.8 282.4,403.5 282.5,403.3 282.6,402.0 282.7,402.0 282.8,403.0 282.9,403.3 283.0,400.6 283.1,402.6 283.2,404.7 283.3,402.4 283.4,403.1 283.5,403.3 283.6,402.4 283.7,403.0 283.8,400.7 283.9,403.1 284.0,403.0 284.1,401.8 284.2,404.1 284.3,402.0 284.4,403.4 284.5,401.8 284.6,404.5 284.7,402.8 284.8,405.5 284.9,403.9 285.0,403.3 285.1,402.7 285.2,400.7 285.3,400.9 285.4,405.1 285.5,404.4 285.6,401.7 285.7,402.8 285.8,405.2 285.9,402.7 286.0,404.9 286.1,404.5 286.2,405.0 286.3,403.7 286.4,400.4 286.5,402.9 286.6,403.5 286.7,400.0 286.8,404.0 286.9,403.6 287.0,403.7 287.1,402.8 287.2,403.8 287.3,401.4 287.4,403.8 287.5,402.6 287.6,403.1 287.7,404.5 287.8,404.7 287.9,403.4 288.0,406.4 288.1,403.4 288.2,403.3 288.3,403.2 288.4,403.5 288.5,402.9 288.6,403.8 288.7,402.5 288.8,405.5 288.9,402.2 289.0,404.5 289.1,402.7 289.2,404.0 289.3,403.9 289.4,404.4 289.5,401.6 289.6,404.8 289.7,405.0 289.8,403.1 289.9,403.0 290.0,403.3 290.1,404.7 290.2,404.2 290.3,402.2 290.4,404.8 290.5,402.6 290.6,402.4 290.7,403.2 290.8,405.0 290.9,400.9 291.0,403.2 291.1,403.1 291.2,403.9 291.3,404.6 291.4,403.7 291.5,403.1 291.6,404.5 291.7,403.2 291.8,401.9 291.9,402.8 291.9,403.5 292.0,402.0 292.1,402.2 292.2,402.2 292.3,404.4 292.4,405.8 292.5,402.3 292.6,403.3 292.7,403.9 292.8,402.8 292.9,404.0 293.0,404.2 293.1,401.0 293.2,405.5 293.3,402.3 293.4,402.1 293.5,401.1 293.6,403.1 293.7,402.7 293.8,404.6 293.9,403.4 294.0,406.2 294.1,404.2 294.2,403.4 294.3,403.5 294.4,404.0 294.5,401.9 294.6,405.5 294.7,403.2 294.8,403.9 294.9,403.4 295.0,403.3 295.1,400.8 295.2,404.8 295.3,401.6 295.4,401.6 295.5,403.6 295.6,404.2 295.7,405.0 295.8,404.6 295.9,400.7 296.0,406.3 296.1,402.8 296.2,404.3 296.3,400.9 296.4,403.0 296.5,405.2 296.6,404.1 296.7,403.2 296.8,403.3 296.9,404.7 297.0,403.8 297.1,404.0 297.2,402.8 297.3,403.1 297.4,403.1 297.5,404.2 297.6,402.4 297.7,404.2 297.8,404.5 297.9,404.0 298.0,403.9 298.1,403.8 298.2,406.0 298.3,401.6 298.4,402.6 298.5,401.7 298.6,404.0 298.7,402.4 298.8,403.2 298.9,403.4 299.0,401.1 299.1,404.2 299.2,402.7 299.3,405.7 299.4,402.7 299.5,403.7 299.6,404.8 299.7,404.2 299.8,406.2 299.9,404.8 300.0,403.2 300.1,406.9 300.2,402.0 300.3,402.2 300.4,404.4 300.5,405.4 300.6,405.3 300.7,405.1 300.8,404.4 300.9,400.6 301.0,404.9 301.1,402.5 301.2,401.8 301.3,404.7 301.4,403.8 301.5,402.6 301.6,404.3 301.7,401.8 301.8,400.6 301.9,403.5 302.0,404.5 302.1,402.7 302.2,403.0 302.3,404.4 302.4,403.6 302.5,403.3 302.6,402.8 302.7,401.9 302.8,404.1 302.9,405.2 303.0,405.6 303.1,401.0 303.2,404.0 303.3,404.0 303.4,400.2 303.5,402.0 303.6,400.5 303.7,403.7 303.8,404.4 303.9,404.2 304.0,402.6 304.1,402.9 304.2,402.9 304.3,400.5 304.4,401.7 304.5,404.9 304.6,402.9 304.7,402.7 304.8,404.5 304.9,400.4 305.0,402.3 305.1,401.5 305.2,404.2 305.3,405.0 305.4,402.5 305.5,403.7 305.6,404.2 305.7,403.6 305.8,403.2 305.9,403.3 306.0,403.8 306.1,402.9 306.1,399.6 306.2,401.9 306.3,404.2 306.4,400.8 306.5,404.1 306.6,405.5 306.7,405.3 306.8,406.2 306.9,402.0 307.0,404.9 307.1,405.4 307.2,404.2 307.3,403.8 307.4,405.1 307.5,404.3 307.6,403.5 307.7,402.6 307.8,404.8 307.9,402.8 308.0,403.2 308.1,402.8 308.2,404.2 308.3,405.0 308.4,402.2 308.5,402.7 308.6,404.4 308.7,404.5 308.8,402.6 308.9,400.8 309.0,403.0 309.1,400.2 309.2,403.1 309.3,403.1 309.4,402.9 309.5,402.1 309.6,405.5 309.7,403.3 309.8,401.8 309.9,405.6 310.0,403.2 310.1,402.5 310.2,401.2 310.3,401.4 310.4,403.5 310.5,400.8 310.6,405.0 310.7,405.4 310.8,401.7 310.9,402.6 311.0,405.0 311.1,402.1 311.2,402.4 311.3,402.5 311.4,404.1 311.5,405.2 311.6,405.8 311.7,403.8 311.8,403.7 311.9,404.2 312.0,404.3 312.1,402.3 312.2,405.0 312.3,404.5 312.4,400.9 312.5,404.4 312.6,404.4 312.7,402.1 312.8,405.9 312.9,401.4 313.0,405.2 313.1,404.6 313.2,405.2 313.3,404.8 313.4,404.5 313.5,402.3 313.6,403.6 313.7,401.7 313.8,402.5 313.9,405.2 314.0,403.5 314.1,404.3 314.2,404.1 314.3,403.4 314.4,403.0 314.5,403.0 314.6,406.4 314.7,403.7 314.8,404.2 314.9,401.1 315.0,403.9 315.1,403.6 315.2,403.5 315.3,402.5 315.4,405.1 315.5,403.7 315.6,403.7 315.7,403.6 315.8,403.9 315.9,404.3 316.0,403.4 316.1,405.3 316.2,401.4 316.3,403.6 316.4,406.0 316.5,403.9 316.6,402.3 316.7,403.8 316.8,403.8 316.9,406.6 317.0,401.7 317.1,403.5 317.2,406.2 317.3,404.2 317.4,401.6 317.5,403.0 317.6,405.6 317.7,404.3 317.8,403.2 317.9,400.8 318.0,403.2 318.1,402.6 318.2,404.0 318.3,403.5 318.4,404.9 318.5,405.3 318.6,405.4 318.7,404.3 318.8,401.9 318.9,403.6 319.0,402.0 319.1,402.5 319.2,403.4 319.3,404.2 319.4,400.7 319.5,402.0 319.6,401.9 319.7,400.2 319.8,401.5 319.9,403.3 320.0,403.1 320.1,402.8 320.2,400.6 320.2,404.9 320.3,406.0 320.4,404.2 320.5,403.6 320.6,404.3 320.7,402.3 320.8,402.8 320.9,403.6 321.0,403.5 321.1,401.0 321.2,400.9 321.3,401.2 321.4,404.1 321.5,401.9 321.6,405.1 321.7,406.0 321.8,401.3 321.9,402.4 322.0,402.7 322.1,401.7 322.2,401.3 322.3,403.2 322.4,403.2 322.5,402.8 322.6,402.4 322.7,403.3 322.8,405.4 322.9,400.2 323.0,404.6 323.1,404.4 323.2,402.8 323.3,403.6 323.4,402.9 323.5,400.3 323.6,401.7 323.7,404.2 323.8,403.1 323.9,403.6 324.0,401.9 324.1,404.8 324.2,404.8 324.3,405.8 324.4,402.9 324.5,403.0 324.6,402.6 324.7,402.4 324.8,405.2 324.9,404.1 325.0,405.0 325.1,401.9 325.2,402.4 325.3,405.5 325.4,402.8 325.5,403.4 325.6,403.4 325.7,402.6 325.8,404.4 325.9,404.0 326.0,404.5 326.1,404.5 326.2,405.0 326.3,402.0 326.4,402.8 326.5,403.9 326.6,405.8 326.7,400.5 326.8,403.5 326.9,403.3 327.0,402.7 327.1,401.3 327.2,404.0 327.3,406.7 327.4,404.0 327.5,403.6 327.6,404.3 327.7,401.6 327.8,404.2 327.9,403.1 328.0,404.7 328.1,402.6 328.2,404.5 328.3,402.5 328.4,403.4 328.5,403.4 328.6,403.2 328.7,405.7 328.8,404.2 328.9,403.3 329.0,404.1 329.1,402.0 329.2,402.4 329.3,404.5 329.4,402.0 329.5,403.9 329.6,402.8 329.7,401.9 329.8,405.1 329.9,404.7 330.0,403.7 330.1,403.9 330.2,405.8 330.3,402.7 330.4,403.4 330.5,403.3 330.6,403.2 330.7,402.6 330.8,404.7 330.9,403.2 331.0,404.2 331.1,404.2 331.2,404.7 331.3,402.0 331.4,406.8 331.5,404.5 331.6,402.7 331.7,404.0 331.8,404.5 331.9,402.2 332.0,404.8 332.1,404.0 332.2,403.1 332.3,404.3 332.4,404.3 332.5,403.5 332.6,402.3 332.7,404.8 332.8,402.9 332.9,403.7 333.0,404.1 333.1,405.4 333.2,401.3 333.3,402.9 333.4,403.2 333.5,404.0 333.6,401.5 333.7,404.5 333.8,405.0 333.9,404.6 334.0,403.7 334.1,403.2 334.2,406.3 334.3,403.2 334.4,403.3 334.4,402.2 334.5,404.1 334.6,401.6 334.7,401.0 334.8,404.3 334.9,404.0 335.0,402.3 335.1,402.0 335.2,403.6 335.3,402.1 335.4,405.7 335.5,402.4 335.6,403.0 335.7,402.4 335.8,403.0 335.9,402.7 336.0,404.2 336.1,401.8 336.2,406.4 336.3,403.3 336.4,404.5 336.5,401.0 336.6,405.1 336.7,403.5 336.8,403.7 336.9,402.6 337.0,403.6 337.1,405.0 337.2,403.8 337.3,402.1 337.4,402.6 337.5,404.6 337.6,405.3 337.7,405.3 337.8,403.8 337.9,403.8 338.0,404.1 338.1,404.3 338.2,403.4 338.3,401.9 338.4,402.3 338.5,404.2 338.6,402.6 338.7,404.0 338.8,401.9 338.9,402.3 339.0,402.4 339.1,400.7 339.2,402.2 339.3,402.4 339.4,401.8 339.5,405.0 339.6,404.1 339.7,404.1 339.8,402.5 339.9,403.6 340.0,405.3 340.1,404.6 340.2,403.9 340.3,404.2 340.4,404.2 340.5,405.6 340.6,403.5 340.7,405.4 340.8,404.2 340.9,404.5 341.0,404.0 341.1,401.7 341.2,404.2 341.3,404.2 341.4,406.9 341.5,404.8 341.6,403.3 341.7,404.1 341.8,402.6 341.9,404.0 342.0,402.6 342.1,403.3 342.2,402.2 342.3,404.0 342.4,402.5 342.5,404.3 342.6,404.7 342.7,402.1 342.8,405.5 342.9,404.9 343.0,401.5 343.1,403.4 343.2,403.2 343.3,403.3 343.4,403.7 343.5,401.0 343.6,403.6 343.7,401.8 343.8,403.7 343.9,404.6 344.0,404.0 344.1,403.6 344.2,400.2 344.3,404.5 344.4,403.1 344.5,405.7 344.6,402.9 344.7,403.8 344.8,403.1 344.9,403.5 345.0,404.3 345.1,403.6 345.2,403.7 345.3,402.3 345.4,403.8 345.5,403.8 345.6,405.4 345.7,402.5 345.8,403.9 345.9,404.9 346.0,402.1 346.1,402.4 346.2,403.7 346.3,403.6 346.4,405.4 346.5,406.8 346.6,403.5 346.7,405.7 346.8,402.8 346.9,404.1 347.0,403.4 347.1,404.4 347.2,403.1 347.3,402.6 347.4,403.5 347.5,402.7 347.6,402.7 347.7,403.9 347.8,405.9 347.9,402.9 348.0,404.5 348.1,405.1 348.2,406.1 348.3,406.0 348.4,401.9 348.5,401.3 348.6,401.9 348.6,401.0 348.7,406.2 348.8,402.7 348.9,405.5 349.0,405.7 349.1,402.9 349.2,402.5 349.3,404.9 349.4,405.9 349.5,405.8 349.6,404.0 349.7,402.6 349.8,401.1 349.9,403.1 350.0,405.1 350.1,405.2 350.2,403.7 350.3,402.9 350.4,406.4 350.5,403.4 350.6,404.6 350.7,402.6 350.8,406.0 350.9,402.5 351.0,401.8 351.1,401.9 351.2,401.7 351.3,403.6 351.4,403.6 351.5,405.2 351.6,403.8 351.7,404.8 351.8,402.9 351.9,402.8 352.0,403.9 352.1,401.6 352.2,405.5 352.3,404.5 352.4,401.5 352.5,404.1 352.6,402.8 352.7,407.1 352.8,401.8 352.9,404.7 353.0,404.7 353.1,402.5 353.2,403.7 353.3,406.1 353.4,402.0 353.5,405.0 353.6,404.2 353.7,404.6 353.8,404.4 353.9,404.3 354.0,404.2 354.1,404.4 354.2,400.5 354.3,403.4 354.4,403.0 354.5,404.6 354.6,401.4 354.7,403.1 354.8,403.7 354.9,404.5 355.0,402.7 355.1,406.1 355.2,404.7 355.3,404.2 355.4,403.3 355.5,403.6 355.6,405.7 355.7,403.0 355.8,404.4 355.9,404.5 356.0,403.6 356.1,404.2 356.2,404.4 356.3,404.3 356.4,402.9 356.5,403.7 356.6,403.5 356.7,404.7 356.8,402.2 356.9,403.6 357.0,404.8 357.1,402.4 357.2,405.6 357.3,404.7 357.4,402.7 357.5,404.4 357.6,404.2 357.7,404.3 357.8,403.8 357.9,403.2 358.0,403.0 358.1,404.7 358.2,404.4 358.3,406.4 358.4,404.4 358.5,403.2 358.6,403.8 358.7,402.2 358.8,404.2 358.9,403.4 359.0,402.7 359.1,405.3 359.2,402.0 359.3,405.6 359.4,404.2 359.5,406.2 359.6,404.2 359.7,405.1 359.8,402.5 359.9,406.5 360.0,403.2 360.1,403.3 360.2,403.1 360.3,402.5 360.4,402.7 360.5,405.0 360.6,403.0 360.7,404.8 360.8,404.7 360.9,404.2 361.0,404.5 361.1,404.6 361.2,402.5 361.3,403.7 361.4,406.3 361.5,404.9 361.6,404.5 361.7,400.8 361.8,403.5 361.9,404.5 362.0,403.2 362.1,406.8 362.2,401.8 362.3,404.3 362.4,405.1 362.5,402.7 362.6,404.9 362.7,405.3 362.8,402.8 362.8,401.2 362.9,404.3 363.0,403.9 363.1,404.0 363.2,403.3 363.3,404.4 363.4,403.7 363.5,404.9 363.6,404.0 363.7,402.7 363.8,405.8 363.9,402.9 364.0,401.6 364.1,404.7 364.2,404.3 364.3,403.7 364.4,403.9 364.5,405.3 364.6,402.7 364.7,403.0 364.8,402.5 364.9,402.9 365.0,404.6 365.1,404.0 365.2,404.6 365.3,400.4 365.4,404.3 365.5,402.7 365.6,401.9 365.7,404.0 365.8,403.5 365.9,403.3 366.0,401.7 366.1,405.4 366.2,403.5 366.3,403.3 366.4,403.2 366.5,404.9 366.6,402.6 366.7,403.2 366.8,405.1 366.9,405.2 367.0,401.2 367.1,404.6 367.2,405.9 367.3,403.3 367.4,405.3 367.5,403.9 367.6,403.2 367.7,405.0 367.8,405.7 367.9,401.4 368.0,405.5 368.1,405.4 368.2,403.9 368.3,403.3 368.4,404.0 368.5,405.0 368.6,402.7 368.7,405.3 368.8,404.9 368.9,403.0 369.0,402.5 369.1,403.2 369.2,402.7 369.3,403.3 369.4,402.8 369.5,404.8 369.6,404.8 369.7,403.1 369.8,402.5 369.9,404.4 370.0,404.8 370.1,404.0 370.2,402.4 370.3,404.0 370.4,404.2 370.5,404.0 370.6,404.2 370.7,403.2 370.8,404.4 370.9,403.7 371.0,404.2 371.1,404.9 371.2,403.8 371.3,403.5 371.4,406.1 371.5,403.5 371.6,403.5 371.7,404.0 371.8,405.2 371.9,404.7 372.0,403.0 372.1,405.0 372.2,402.6 372.3,404.4 372.4,403.4 372.5,407.8 372.6,403.1 372.7,403.6 372.8,406.0 372.9,402.6 373.0,404.5 373.1,405.4 373.2,402.1 373.3,402.1 373.4,402.5 373.5,402.8 373.6,402.4 373.7,406.1 373.8,404.1 373.9,402.0 374.0,403.1 374.1,403.7 374.2,404.2 374.3,404.3 374.4,404.8 374.5,404.0 374.6,407.5 374.7,402.5 374.8,403.8 374.9,407.6 375.0,403.9 375.1,403.6 375.2,404.0 375.3,403.0 375.4,402.8 375.5,403.1 375.6,406.1 375.7,406.7 375.8,404.9 375.9,402.7 376.0,406.3 376.1,404.6 376.2,404.6 376.3,404.1 376.4,406.0 376.5,403.1 376.6,404.2 376.7,402.7 376.8,403.7 376.9,403.9 377.0,402.6 377.0,402.2 377.1,403.2 377.2,404.8 377.3,403.4 377.4,402.5 377.5,402.8 377.6,401.7 377.7,402.3 377.8,404.4 377.9,401.1 378.0,402.9 378.1,403.0 378.2,403.6 378.3,405.5 378.4,406.5 378.5,403.0 378.6,402.6 378.7,401.7 378.8,405.0 378.9,404.0 379.0,404.5 379.1,403.0 379.2,404.9 379.3,405.0 379.4,405.8 379.5,404.1 379.6,402.6 379.7,405.5 379.8,404.5 379.9,402.0 380.0,404.9 380.1,406.6 380.2,405.1 380.3,402.8 380.4,403.8 380.5,405.1 380.6,404.8 380.7,402.3 380.8,405.7 380.9,402.1 381.0,404.4 381.1,403.1 381.2,405.3 381.3,405.0 381.4,400.7 381.5,404.1 381.6,405.2 381.7,403.2 381.8,404.8 381.9,405.2 382.0,405.1 382.1,404.6 382.2,402.1 382.3,406.1 382.4,403.4 382.5,406.0 382.6,403.1 382.7,404.6 382.8,403.1 382.9,404.2 383.0,402.7 383.1,403.0 383.2,403.4 383.3,403.1 383.4,404.5 383.5,404.4 383.6,404.9 383.7,403.2 383.8,403.4 383.9,404.1 384.0,405.4 384.1,404.0 384.2,403.3 384.3,402.9 384.4,404.7 384.5,403.0 384.6,405.5 384.7,404.5 384.8,405.3 384.9,403.6 385.0,405.1 385.1,404.9 385.2,402.6 385.3,402.6 385.4,406.1 385.5,402.5 385.6,402.8 385.7,402.7 385.8,404.5 385.9,402.1 386.0,403.1 386.1,405.7 386.2,406.7 386.3,405.3 386.4,403.3 386.5,399.6 386.6,405.7 386.7,403.2 386.8,403.7 386.9,403.7 387.0,403.0 387.1,402.5 387.2,403.8 387.3,401.6 387.4,402.8 387.5,402.3 387.6,402.3 387.7,405.1 387.8,401.8 387.9,405.1 388.0,403.7 388.1,404.2 388.2,405.1 388.3,404.0 388.4,405.9 388.5,403.1 388.6,404.1 388.7,404.8 388.8,403.7 388.9,403.5 389.0,404.1 389.1,406.4 389.2,403.3 389.3,403.6 389.4,401.3 389.5,400.9 389.6,402.4 389.7,403.2 389.8,403.4 389.9,404.5 390.0,404.4 390.1,405.1 390.2,404.9 390.3,405.1 390.4,402.3 390.5,401.7 390.6,407.7 390.7,404.0 390.8,406.7 390.9,405.9 391.0,404.2 391.1,404.3 391.2,399.8 391.2,403.8 391.3,405.1 391.4,406.0 391.5,403.3 391.6,405.0 391.7,404.5 391.8,405.8 391.9,402.4 392.0,403.4 392.1,402.4 392.2,404.7 392.3,403.9 392.4,404.4 392.5,405.3 392.6,403.2 392.7,406.4 392.8,404.8 392.9,405.7 393.0,403.9 393.1,405.9 393.2,404.2 393.3,405.1 393.4,404.6 393.5,404.6 393.6,401.4 393.7,405.3 393.8,402.3 393.9,404.5 394.0,400.1 394.1,403.7 394.2,402.6 394.3,405.8 394.4,402.0 394.5,404.1 394.6,405.0 394.7,403.9 394.8,401.8 394.9,404.8 395.0,403.7 395.1,402.4 395.2,402.6 395.3,405.3 395.4,406.0 395.5,402.6 395.6,403.3 395.7,402.9 395.8,402.6 395.9,403.9 396.0,403.0 396.1,404.7 396.2,404.3 396.3,403.8 396.4,404.8 396.5,404.2 396.6,401.8 396.7,404.1 396.8,402.9 396.9,403.6 397.0,405.7 397.1,403.0 397.2,406.5 397.3,403.4 397.4,404.1 397.5,405.1 397.6,403.1 397.7,404.6 397.8,401.4 397.9,406.4 398.0,402.1 398.1,402.7 398.2,403.4 398.3,405.6 398.4,405.7 398.5,406.8 398.6,403.7 398.7,404.4 398.8,402.8 398.9,403.7 399.0,403.2 399.1,406.1 399.2,403.8 399.3,403.5 399.4,402.6 399.5,407.5 399.6,402.5 399.7,406.4 399.8,403.9 399.9,403.7 400.0,401.2 400.1,403.3 400.2,403.9 400.3,405.1 400.4,405.2 400.5,405.8 400.6,404.3 400.7,405.1 400.8,402.4 400.9,405.4 401.0,403.0 401.1,404.3 401.2,405.1 401.3,403.8 401.4,406.5 401.5,403.5 401.6,404.1 401.7,404.7 401.8,403.7 401.9,403.3 402.0,402.7 402.1,403.9 402.2,404.7 402.3,403.3 402.4,406.5 402.5,401.8 402.6,404.5 402.7,403.5 402.8,402.0 402.9,405.0 403.0,404.5 403.1,403.7 403.2,405.2 403.3,402.6 403.4,406.3 403.5,404.6 403.6,403.6 403.7,403.7 403.8,404.7 403.9,402.1 404.0,402.2 404.1,403.9 404.2,403.0 404.3,405.7 404.4,402.7 404.5,403.6 404.6,402.9 404.7,403.1 404.8,403.6 404.9,404.1 405.0,405.9 405.1,406.3 405.2,405.7 405.3,403.0 405.4,403.8 405.4,404.9 405.5,405.0 405.6,403.1 405.7,404.2 405.8,402.0 405.9,404.6 406.0,405.4 406.1,406.9 406.2,405.1 406.3,403.6 406.4,406.0 406.5,403.2 406.6,403.2 406.7,405.7 406.8,403.5 406.9,405.9 407.0,403.9 407.1,404.7 407.2,403.3 407.3,405.5 407.4,404.4 407.5,403.4 407.6,404.8 407.7,404.6 407.8,405.1 407.9,402.8 408.0,403.8 408.1,403.1 408.2,403.0 408.3,403.5 408.4,403.6 408.5,404.9 408.6,404.1 408.7,403.3 408.8,405.8 408.9,405.4 409.0,403.1 409.1,401.8 409.2,403.4 409.3,404.0 409.4,402.1 409.5,402.8 409.6,402.2 409.7,403.0 409.8,403.8 409.9,403.0 410.0,402.1 410.1,402.6 410.2,406.2 410.3,401.8 410.4,404.7 410.5,405.7 410.6,405.7 410.7,403.7 410.8,407.1 410.9,405.8 411.0,403.9 411.1,403.3 411.2,402.0 411.3,404.1 411.4,405.1 411.5,405.2 411.6,403.1 411.7,404.0 411.8,403.7 411.9,405.1 412.0,405.3 412.1,405.0 412.2,403.9 412.3,403.7 412.4,402.2 412.5,403.2 412.6,404.0 412.7,402.5 412.8,406.1 412.9,405.1 413.0,403.3 413.1,402.9 413.2,404.0 413.3,406.0 413.4,406.0 413.5,403.8 413.6,403.5 413.7,406.7 413.8,404.7 413.9,404.2 414.0,402.7 414.1,402.7 414.2,404.7 414.3,405.4 414.4,404.4 414.5,405.0 414.6,405.1 414.7,403.3 414.8,404.1 414.9,407.5 415.0,404.2 415.1,403.5 415.2,405.9 415.3,402.1 415.4,403.6 415.5,404.1 415.6,404.9 415.7,402.8 415.8,402.7 415.9,405.2 416.0,407.3 416.1,402.5 416.2,404.4 416.3,406.9 416.4,402.7 416.5,407.6 416.6,405.0 416.7,406.2 416.8,406.1 416.9,404.2 417.0,401.1 417.1,405.3 417.2,402.5 417.3,405.3 417.4,405.5 417.5,404.0 417.6,406.6 417.7,402.0 417.8,405.3 417.9,406.2 418.0,404.4 418.1,404.6 418.2,405.3 418.3,403.7 418.4,402.1 418.5,404.5 418.6,432.7 418.7,429.5 418.8,429.4 418.9,432.7 419.0,431.7 419.1,432.9 419.2,434.1 419.3,429.8 419.4,430.3 419.5,428.5 419.6,427.9 419.6,436.4 419.7,433.8 419.8,431.7 419.9,427.9 420.0,431.3 420.1,429.6 420.2,432.9 420.3,428.8 420.4,428.6 420.5,428.7 420.6,429.5 420.7,432.1 420.8,427.9 420.9,432.6 421.0,433.0 421.1,432.8 421.2,431.0 421.3,428.8 421.4,431.2 421.5,430.3 421.6,431.4 421.7,430.1 421.8,431.0 421.9,433.5 422.0,426.2 422.1,429.6 422.2,429.6 422.3,430.2 422.4,432.5 422.5,431.5 422.6,429.9 422.7,428.9 422.8,430.4 422.9,432.4 423.0,431.7 423.1,433.3 423.2,432.0 423.3,431.7 423.4,432.5 423.5,430.7 423.6,427.4 423.7,432.4 423.8,434.1 423.9,432.6 424.0,429.1 424.1,433.3 424.2,429.3 424.3,429.1 424.4,431.8 424.5,434.0 424.6,430.4 424.7,433.0 424.8,431.2 424.9,427.8 425.0,430.7 425.1,434.9 425.2,431.4 425.3,433.4 425.4,428.0 425.5,430.7 425.6,432.5 425.7,431.1 425.8,431.8 425.9,433.2 426.0,433.8 426.1,431.5 426.2,432.7 426.3,431.9 426.4,430.3 426.5,429.2 426.6,432.7 426.7,430.8 426.8,433.4 426.9,435.3 427.0,429.4 427.1,428.4 427.2,432.4 427.3,433.5 427.4,434.4 427.5,431.9 427.6,429.7 427.7,430.6 427.8,434.0 427.9,430.9 428.0,434.2 428.1,432.0 428.2,430.7 428.3,430.7 428.4,435.0 428.5,432.8 428.6,431.5 428.7,430.5 428.8,432.2 428.9,430.3 429.0,428.9 429.1,434.4 429.2,430.8 429.3,426.9 429.4,430.8 429.5,431.6 429.6,429.0 429.7,429.4 429.8,430.9 429.9,435.8 430.0,431.4 430.1,430.9 430.2,430.3 430.3,428.4 430.4,434.4 430.5,433.5 430.6,431.2 430.7,429.7 430.8,432.6 430.9,433.1 431.0,430.6 431.1,431.1 431.2,429.7 431.3,431.7 431.4,430.7 431.5,434.4 431.6,430.5 431.7,430.5 431.8,431.9 431.9,433.7 432.0,428.3 432.1,429.6 432.2,431.7 432.3,429.6 432.4,428.0 432.5,432.0 432.6,428.6 432.7,429.9 432.8,431.9 432.9,431.9 433.0,428.9 433.1,429.3 433.2,430.1 433.3,433.0 433.4,432.1 433.5,431.4 433.6,434.0 433.7,434.2 433.7,432.9 433.8,430.5 433.9,430.3 434.0,431.5 434.1,430.1 434.2,428.3 434.3,433.4 434.4,429.7 434.5,432.4 434.6,428.6 434.7,434.8 434.8,430.8 434.9,434.8 435.0,431.3 435.1,431.5 435.2,431.9 435.3,429.9 435.4,433.6 435.5,431.7 435.6,429.9 435.7,431.9 435.8,430.1 435.9,431.4 436.0,430.8 436.1,432.8 436.2,433.6 436.3,432.2 436.4,428.8 436.5,430.5 436.6,432.0 436.7,432.4 436.8,429.1 436.9,429.8 437.0,431.3 437.1,430.0 437.2,431.1 437.3,428.8 437.4,433.0 437.5,430.8 437.6,430.2 437.7,430.3 437.8,432.6 437.9,432.5 438.0,429.8 438.1,428.0 438.2,432.9 438.3,431.7 438.4,428.9 438.5,431.6 438.6,430.0 438.7,429.4 438.8,431.6 438.9,427.6 439.0,431.1 439.1,431.9 439.2,429.4 439.3,429.1 439.4,432.8 439.5,431.2 439.6,432.2 439.7,431.1 439.8,433.6 439.9,430.7 440.0,428.8 440.1,432.2 440.2,431.7 440.3,431.5 440.4,433.6 440.5,431.3 440.6,432.0 440.7,432.6 440.8,428.4 440.9,432.3 441.0,432.1 441.1,436.3 441.2,430.3 441.3,431.5 441.4,429.3 441.5,432.6 441.6,431.5 441.7,431.4 441.8,428.1 441.9,429.8 442.0,434.8 442.1,427.2 442.2,429.0 442.3,432.0 442.4,433.4 442.5,432.6 442.6,434.5 442.7,432.0 442.8,429.5 442.9,431.4 443.0,432.8 443.1,430.3 443.2,430.2 443.3,430.7 443.4,429.9 443.5,428.4 443.6,430.1 443.7,428.9 443.8,429.3 443.9,431.5 444.0,429.8 444.1,431.2 444.2,431.9 444.3,430.4 444.4,430.1 444.5,429.6 444.6,430.8 444.7,433.9 444.8,431.1 444.9,430.5 445.0,429.7 445.1,430.4 445.2,431.3 445.3,431.2 445.4,429.0 445.5,429.5 445.6,431.1 445.7,430.6 445.8,430.9 445.9,431.9 446.0,431.2 446.1,431.8 446.2,429.8 446.3,432.8 446.4,431.9 446.5,430.1 446.6,430.4 446.7,433.0 446.8,432.8 446.9,431.8 447.0,430.5 447.1,429.7 447.2,431.3 447.3,428.1 447.4,429.8 447.5,434.1 447.6,431.7 447.7,429.6 447.8,429.2 447.9,431.9 447.9,431.8 448.0,431.5 448.1,430.9 448.2,433.2 448.3,430.8 448.4,429.1 448.5,430.7 448.6,429.5 448.7,432.5 448.8,429.7 448.9,431.8 449.0,430.2 449.1,430.1 449.2,433.2 449.3,433.1 449.4,429.4 449.5,429.9 449.6,430.3 449.7,432.5 449.8,429.5 449.9,429.9 450.0,432.8 450.1,433.4 450.2,429.8 450.3,431.0 450.4,432.8 450.5,432.0 450.6,432.8 450.7,430.5 450.8,431.1 450.9,429.4 451.0,430.6 451.1,430.8 451.2,428.8 451.3,431.4 451.4,433.3 451.5,431.4 451.6,432.8 451.7,429.9 451.8,427.9 451.9,432.5 452.0,431.7 452.1,433.7 452.2,428.2 452.3,427.8 452.4,429.8 452.5,428.3 452.6,428.7 452.7,432.2 452.8,431.4 452.9,431.5 453.0,429.3 453.1,433.9 453.2,433.2 453.3,430.5 453.4,432.3 453.5,434.1 453.6,432.8 453.7,430.0 453.8,428.0 453.9,431.1 454.0,428.7 454.1,433.5 454.2,431.2 454.3,430.6 454.4,432.0 454.5,431.5 454.6,426.3 454.7,434.0 454.8,434.1 454.9,431.0 455.0,429.6 455.1,434.0 455.2,432.8 455.3,432.0 455.4,431.3 455.5,434.2 455.6,430.1 455.7,430.6 455.8,431.8 455.9,434.4 456.0,428.6 456.1,431.5 456.2,433.8 456.3,430.1 456.4,429.3 456.5,433.1 456.6,430.1 456.7,432.0 456.8,431.2 456.9,430.4 457.0,433.1 457.1,430.2 457.2,428.8 457.3,431.6 457.4,430.3 457.5,431.5 457.6,431.4 457.7,429.1 457.8,432.4 457.9,431.6 458.0,426.8 458.1,431.5 458.2,431.4 458.3,431.3 458.4,431.8 458.5,431.6 458.6,428.8 458.7,433.7 458.8,435.2 458.9,430.7 459.0,432.3 459.1,432.0 459.2,431.5 459.3,431.8 459.4,433.1 459.5,431.6 459.6,431.8 459.7,433.2 459.8,431.1 459.9,428.5 460.0,430.5 460.1,428.1 460.2,431.6 460.3,430.4 460.4,431.4 460.5,432.8 460.6,433.1 460.7,434.4 460.8,430.2 460.9,431.9 461.0,430.8 461.1,433.7 461.2,434.0 461.3,433.0 461.4,429.3 461.5,428.1 461.6,427.0 461.7,430.9 461.8,431.3 461.9,433.9 462.0,434.6 462.1,432.0 462.1,431.3 462.2,431.5 462.3,433.4 462.4,431.6 462.5,430.7 462.6,430.6 462.7,427.8 462.8,433.5 462.9,430.8 463.0,432.4 463.1,432.7 463.2,431.0 463.3,434.2 463.4,428.5 463.5,430.9 463.6,429.0 463.7,430.8 463.8,428.1 463.9,432.8 464.0,432.7 464.1,427.1 464.2,429.9 464.3,428.6 464.4,431.2 464.5,431.7 464.6,431.3 464.7,428.9 464.8,430.1 464.9,431.2 465.0,435.1 465.1,430.3 465.2,429.5 465.3,428.1 465.4,431.4 465.5,434.6 465.6,432.6 465.7,429.1 465.8,430.3 465.9,430.0 466.0,430.9 466.1,432.1 466.2,432.0 466.3,431.4 466.4,430.3 466.5,433.7 466.6,428.4 466.7,428.5 466.8,432.8 466.9,433.4 467.0,428.1 467.1,429.6 467.2,431.8 467.3,433.0 467.4,428.3 467.5,429.7 467.6,430.6 467.7,427.9 467.8,432.8 467.9,432.1 468.0,432.7 468.1,430.7 468.2,435.1 468.3,431.4 468.4,432.9 468.5,431.9 468.6,433.0 468.7,436.0 468.8,430.2 468.9,429.0 469.0,429.4 469.1,432.8 469.2,431.1" stroke="#000" stroke-width="0.95" fill="none" stroke-linejoin="round"/>
<path d="M270.6,463.1 270.7,463.0 270.8,459.1 270.9,465.5 271.0,460.8 271.1,465.4 271.2,458.2 271.3,460.1 271.4,457.6 271.5,461.6 271.6,459.7 271.7,461.2 271.8,462.1 271.9,460.2 272.0,463.3 272.1,461.3 272.2,459.0 272.3,460.4 272.4,461.4 272.5,455.8 272.6,460.4 272.7,461.8 272.8,460.2 272.9,461.7 273.0,461.4 273.1,461.3 273.2,456.2 273.3,460.5 273.4,460.2 273.5,459.1 273.6,456.2 273.7,461.0 273.8,461.9 273.9,455.2 274.0,463.7 274.1,461.3 274.2,459.1 274.3,455.6 274.4,462.6 274.5,465.8 274.6,459.1 274.7,461.7 274.8,461.4 274.9,459.5 275.0,460.1 275.1,459.9 275.2,461.5 275.3,457.7 275.4,457.3 275.5,460.5 275.6,461.5 275.7,459.0 275.8,459.5 275.9,462.8 276.0,461.5 276.1,458.3 276.2,460.7 276.3,461.3 276.4,460.1 276.5,460.6 276.6,460.5 276.7,464.7 276.8,456.8 276.9,460.1 277.0,462.4 277.1,458.4 277.2,459.9 277.3,460.5 277.4,458.3 277.5,455.6 277.6,459.3 277.7,457.1 277.7,455.9 277.8,462.7 277.9,461.7 278.0,458.9 278.1,464.2 278.2,461.1 278.3,457.7 278.4,458.3 278.5,459.3 278.6,464.6 278.7,455.5 278.8,459.3 278.9,458.9 279.0,459.5 279.1,464.3 279.2,463.6 279.3,463.2 279.4,456.4 279.5,462.3 279.6,461.1 279.7,461.1 279.8,459.3 279.9,459.5 280.0,460.0 280.1,463.3 280.2,467.3 280.3,460.2 280.4,460.0 280.5,457.9 280.6,460.8 280.7,461.9 280.8,459.7 280.9,463.9 281.0,462.8 281.1,462.7 281.2,459.9 281.3,456.0 281.4,458.9 281.5,458.1 281.6,460.0 281.7,459.9 281.8,461.5 281.9,461.1 282.0,465.8 282.1,463.1 282.2,463.3 282.3,458.7 282.4,459.1 282.5,458.1 282.6,457.2 282.7,461.2 282.8,458.3 282.9,456.3 283.0,460.6 283.1,458.2 283.2,460.9 283.3,464.0 283.4,460.3 283.5,462.3 283.6,460.3 283.7,461.5 283.8,459.8 283.9,465.2 284.0,456.0 284.1,457.6 284.2,461.3 284.3,462.5 284.4,460.5 284.5,459.1 284.6,459.6 284.7,459.7 284.8,464.8 284.9,463.0 285.0,457.6 285.1,460.0 285.2,463.8 285.3,462.4 285.4,463.7 285.5,462.7 285.6,458.0 285.7,461.0 285.8,458.1 285.9,460.1 286.0,463.8 286.1,462.0 286.2,455.5 286.3,462.2 286.4,462.8 286.5,457.8 286.6,460.3 286.7,460.6 286.8,457.3 286.9,464.4 287.0,459.6 287.1,462.9 287.2,463.6 287.3,462.3 287.4,458.0 287.5,460.8 287.6,464.6 287.7,463.0 287.8,457.2 287.9,458.3 288.0,463.0 288.1,455.2 288.2,461.3 288.3,463.2 288.4,460.8 288.5,458.5 288.6,457.0 288.7,458.3 288.8,461.5 288.9,461.8 289.0,463.8 289.1,460.7 289.2,461.9 289.3,460.0 289.4,463.3 289.5,461.7 289.6,462.5 289.7,463.2 289.8,463.2 289.9,462.8 290.0,463.2 290.1,459.3 290.2,460.3 290.3,463.5 290.4,459.4 290.5,459.9 290.6,457.3 290.7,461.0 290.8,461.0 290.9,462.1 291.0,460.3 291.1,459.4 291.2,460.2 291.3,461.1 291.4,459.3 291.5,460.3 291.6,460.0 291.7,462.6 291.8,460.1 291.9,462.7 291.9,462.4 292.0,460.2 292.1,455.9 292.2,458.3 292.3,460.5 292.4,460.9 292.5,458.4 292.6,457.5 292.7,457.8 292.8,461.0 292.9,460.1 293.0,461.3 293.1,461.2 293.2,462.4 293.3,461.1 293.4,465.3 293.5,463.2 293.6,459.6 293.7,462.6 293.8,459.3 293.9,463.4 294.0,461.4 294.1,459.7 294.2,462.8 294.3,462.1 294.4,455.1 294.5,462.0 294.6,462.1 294.7,461.8 294.8,460.5 294.9,460.6 295.0,458.4 295.1,458.8 295.2,461.4 295.3,461.3 295.4,463.7 295.5,463.9 295.6,462.2 295.7,458.9 295.8,460.3 295.9,458.8 296.0,458.5 296.1,460.9 296.2,455.9 296.3,461.7 296.4,461.9 296.5,461.5 296.6,458.0 296.7,460.8 296.8,462.2 296.9,459.6 297.0,458.0 297.1,460.8 297.2,461.1 297.3,458.1 297.4,458.4 297.5,458.4 297.6,462.2 297.7,459.9 297.8,459.7 297.9,464.5 298.0,457.9 298.1,460.3 298.2,461.3 298.3,455.5 298.4,460.2 298.5,462.1 298.6,460.7 298.7,459.3 298.8,458.7 298.9,460.7 299.0,462.5 299.1,462.1 299.2,462.3 299.3,462.9 299.4,460.6 299.5,461.6 299.6,460.4 299.7,462.4 299.8,462.5 299.9,460.9 300.0,461.3 300.1,458.0 300.2,462.5 300.3,460.1 300.4,460.6 300.5,463.4 300.6,458.9 300.7,460.2 300.8,465.2 300.9,459.2 301.0,458.5 301.1,462.3 301.2,456.8 301.3,460.2 301.4,463.1 301.5,459.3 301.6,461.3 301.7,463.5 301.8,465.3 301.9,460.0 302.0,462.2 302.1,459.1 302.2,459.7 302.3,461.7 302.4,461.7 302.5,456.6 302.6,456.8 302.7,458.9 302.8,461.3 302.9,462.7 303.0,461.4 303.1,456.9 303.2,459.5 303.3,461.2 303.4,463.2 303.5,460.2 303.6,462.5 303.7,460.5 303.8,458.9 303.9,458.2 304.0,460.2 304.1,461.3 304.2,460.0 304.3,456.6 304.4,459.7 304.5,463.6 304.6,457.1 304.7,460.0 304.8,452.9 304.9,461.6 305.0,460.7 305.1,461.2 305.2,459.7 305.3,461.8 305.4,463.8 305.5,464.8 305.6,460.8 305.7,461.7 305.8,461.8 305.9,455.9 306.0,458.8 306.1,458.1 306.1,461.6 306.2,459.9 306.3,461.0 306.4,461.0 306.5,458.9 306.6,459.2 306.7,459.9 306.8,460.2 306.9,463.7 307.0,462.2 307.1,459.7 307.2,461.3 307.3,462.3 307.4,459.8 307.5,462.6 307.6,462.0 307.7,458.6 307.8,461.3 307.9,457.4 308.0,459.4 308.1,458.8 308.2,458.1 308.3,465.3 308.4,460.7 308.5,463.4 308.6,461.6 308.7,460.8 308.8,457.8 308.9,460.6 309.0,456.9 309.1,461.7 309.2,460.7 309.3,460.3 309.4,458.5 309.5,460.7 309.6,461.9 309.7,461.3 309.8,463.6 309.9,457.8 310.0,458.9 310.1,459.6 310.2,459.9 310.3,461.9 310.4,461.4 310.5,458.8 310.6,462.3 310.7,462.3 310.8,457.1 310.9,457.1 311.0,459.9 311.1,459.4 311.2,460.1 311.3,457.4 311.4,461.5 311.5,460.4 311.6,459.5 311.7,457.4 311.8,461.1 311.9,460.0 312.0,461.6 312.1,462.0 312.2,462.0 312.3,460.4 312.4,458.6 312.5,462.1 312.6,461.9 312.7,461.4 312.8,459.8 312.9,459.0 313.0,463.3 313.1,459.8 313.2,462.7 313.3,459.0 313.4,462.6 313.5,462.9 313.6,462.1 313.7,460.7 313.8,462.7 313.9,460.1 314.0,460.2 314.1,460.4 314.2,460.0 314.3,458.6 314.4,462.1 314.5,460.5 314.6,460.6 314.7,465.0 314.8,459.7 314.9,462.2 315.0,462.1 315.1,461.5 315.2,460.3 315.3,459.8 315.4,459.5 315.5,462.0 315.6,459.0 315.7,459.6 315.8,461.4 315.9,460.6 316.0,458.8 316.1,459.6 316.2,459.0 316.3,460.3 316.4,458.1 316.5,455.7 316.6,459.6 316.7,464.0 316.8,456.8 316.9,461.8 317.0,463.5 317.1,465.7 317.2,459.6 317.3,458.2 317.4,458.4 317.5,461.4 317.6,457.4 317.7,460.7 317.8,461.8 317.9,460.4 318.0,460.1 318.1,460.4 318.2,459.7 318.3,465.3 318.4,457.1 318.5,461.8 318.6,459.1 318.7,462.3 318.8,460.2 318.9,460.9 319.0,464.0 319.1,459.7 319.2,459.2 319.3,463.0 319.4,465.1 319.5,461.9 319.6,462.4 319.7,460.3 319.8,460.6 319.9,457.0 320.0,459.1 320.1,461.1 320.2,460.2 320.2,466.8 320.3,462.5 320.4,462.5 320.5,460.8 320.6,459.8 320.7,460.1 320.8,458.5 320.9,462.0 321.0,459.9 321.1,460.8 321.2,460.5 321.3,459.8 321.4,461.1 321.5,460.1 321.6,460.6 321.7,458.3 321.8,460.8 321.9,459.9 322.0,454.9 322.1,459.2 322.2,459.4 322.3,458.2 322.4,462.7 322.5,459.0 322.6,458.9 322.7,459.6 322.8,458.4 322.9,458.8 323.0,458.0 323.1,461.9 323.2,459.6 323.3,461.7 323.4,457.9 323.5,460.2 323.6,463.3 323.7,460.3 323.8,462.7 323.9,458.4 324.0,461.3 324.1,465.3 324.2,461.4 324.3,458.3 324.4,459.8 324.5,461.9 324.6,459.1 324.7,459.3 324.8,457.4 324.9,458.6 325.0,459.7 325.1,462.2 325.2,459.9 325.3,459.9 325.4,460.5 325.5,459.6 325.6,463.1 325.7,459.3 325.8,460.5 325.9,459.8 326.0,460.7 326.1,461.2 326.2,460.0 326.3,458.8 326.4,461.2 326.5,459.8 326.6,462.2 326.7,459.6 326.8,460.5 326.9,463.3 327.0,458.0 327.1,462.5 327.2,460.4 327.3,463.4 327.4,464.3 327.5,459.1 327.6,463.6 327.7,465.0 327.8,461.0 327.9,463.9 328.0,461.0 328.1,456.6 328.2,461.4 328.3,459.8 328.4,459.3 328.5,460.0 328.6,460.8 328.7,457.3 328.8,460.7 328.9,459.8 329.0,460.3 329.1,463.3 329.2,459.9 329.3,460.4 329.4,459.1 329.5,459.1 329.6,457.2 329.7,464.6 329.8,461.7 329.9,461.6 330.0,462.4 330.1,459.7 330.2,460.7 330.3,460.2 330.4,464.0 330.5,462.6 330.6,460.7 330.7,461.5 330.8,461.8 330.9,460.8 331.0,461.1 331.1,462.8 331.2,457.0 331.3,462.0 331.4,459.1 331.5,459.3 331.6,458.5 331.7,461.8 331.8,462.7 331.9,459.6 332.0,460.0 332.1,465.6 332.2,466.1 332.3,461.7 332.4,461.4 332.5,461.1 332.6,459.7 332.7,462.6 332.8,454.9 332.9,458.6 333.0,457.8 333.1,460.0 333.2,465.0 333.3,460.0 333.4,461.7 333.5,459.6 333.6,460.8 333.7,459.1 333.8,462.4 333.9,461.3 334.0,460.5 334.1,462.1 334.2,461.5 334.3,459.2 334.4,456.4 334.4,461.0 334.5,458.8 334.6,463.0 334.7,461.5 334.8,459.8 334.9,459.3 335.0,462.7 335.1,459.3 335.2,460.2 335.3,457.7 335.4,458.5 335.5,459.4 335.6,461.4 335.7,460.0 335.8,462.4 335.9,462.3 336.0,464.5 336.1,463.3 336.2,463.3 336.3,460.8 336.4,460.3 336.5,463.4 336.6,460.8 336.7,459.7 336.8,458.6 336.9,460.7 337.0,460.1 337.1,461.3 337.2,458.6 337.3,463.9 337.4,460.0 337.5,465.5 337.6,456.9 337.7,458.6 337.8,465.0 337.9,461.7 338.0,463.6 338.1,464.3 338.2,461.4 338.3,462.4 338.4,458.3 338.5,461.7 338.6,462.9 338.7,460.7 338.8,459.7 338.9,458.8 339.0,459.5 339.1,463.7 339.2,462.3 339.3,460.9 339.4,462.3 339.5,459.0 339.6,461.3 339.7,460.7 339.8,461.4 339.9,460.5 340.0,463.8 340.1,456.1 340.2,461.8 340.3,462.1 340.4,464.4 340.5,460.8 340.6,463.5 340.7,459.9 340.8,458.0 340.9,459.3 341.0,461.5 341.1,457.9 341.2,461.0 341.3,460.7 341.4,460.4 341.5,461.6 341.6,459.7 341.7,463.2 341.8,464.3 341.9,458.0 342.0,462.1 342.1,461.3 342.2,459.9 342.3,461.6 342.4,463.1 342.5,461.0 342.6,462.6 342.7,459.4 342.8,461.5 342.9,461.1 343.0,458.9 343.1,463.9 343.2,463.7 343.3,459.0 343.4,457.9 343.5,460.4 343.6,462.1 343.7,458.0 343.8,459.5 343.9,458.4 344.0,464.4 344.1,460.8 344.2,462.8 344.3,462.9 344.4,459.3 344.5,459.0 344.6,461.6 344.7,461.1 344.8,457.6 344.9,459.2 345.0,460.8 345.1,459.5 345.2,460.3 345.3,463.3 345.4,461.7 345.5,460.0 345.6,459.3 345.7,463.1 345.8,462.3 345.9,461.8 346.0,463.8 346.1,458.2 346.2,459.6 346.3,457.8 346.4,465.2 346.5,462.3 346.6,456.7 346.7,463.6 346.8,464.5 346.9,460.1 347.0,457.2 347.1,459.2 347.2,462.6 347.3,459.4 347.4,459.7 347.5,460.0 347.6,459.7 347.7,458.8 347.8,458.1 347.9,457.7 348.0,458.3 348.1,460.9 348.2,464.5 348.3,459.4 348.4,463.8 348.5,455.7 348.6,463.0 348.6,464.5 348.7,464.5 348.8,459.7 348.9,459.9 349.0,459.2 349.1,460.0 349.2,462.2 349.3,458.8 349.4,462.0 349.5,463.8 349.6,458.6 349.7,459.4 349.8,462.6 349.9,461.1 350.0,458.4 350.1,458.6 350.2,462.9 350.3,458.2 350.4,466.1 350.5,460.4 350.6,459.8 350.7,460.8 350.8,460.3 350.9,464.0 351.0,460.8 351.1,459.5 351.2,462.5 351.3,460.3 351.4,460.9 351.5,465.4 351.6,461.9 351.7,459.3 351.8,463.9 351.9,460.5 352.0,459.9 352.1,463.3 352.2,461.1 352.3,458.7 352.4,459.0 352.5,462.7 352.6,458.4 352.7,459.8 352.8,460.3 352.9,457.3 353.0,459.0 353.1,459.8 353.2,458.5 353.3,459.1 353.4,457.8 353.5,460.8 353.6,464.4 353.7,457.2 353.8,458.8 353.9,459.4 354.0,460.5 354.1,460.7 354.2,460.3 354.3,462.6 354.4,458.9 354.5,460.4 354.6,462.6 354.7,460.0 354.8,461.3 354.9,460.6 355.0,459.4 355.1,454.8 355.2,462.8 355.3,459.7 355.4,459.0 355.5,459.6 355.6,457.4 355.7,461.5 355.8,461.3 355.9,460.6 356.0,463.5 356.1,458.2 356.2,463.2 356.3,459.4 356.4,458.0 356.5,462.3 356.6,460.9 356.7,461.0 356.8,456.9 356.9,460.0 357.0,464.3 357.1,458.3 357.2,458.3 357.3,464.8 357.4,466.4 357.5,455.0 357.6,460.4 357.7,465.1 357.8,458.3 357.9,457.5 358.0,465.7 358.1,457.8 358.2,459.0 358.3,460.6 358.4,462.1 358.5,459.7 358.6,462.3 358.7,460.2 358.8,461.1 358.9,461.5 359.0,459.4 359.1,458.4 359.2,458.6 359.3,459.6 359.4,456.9 359.5,463.2 359.6,460.4 359.7,460.1 359.8,457.9 359.9,465.4 360.0,461.5 360.1,461.2 360.2,460.1 360.3,455.7 360.4,460.0 360.5,460.7 360.6,459.6 360.7,458.4 360.8,460.9 360.9,456.9 361.0,463.1 361.1,457.9 361.2,459.0 361.3,458.4 361.4,457.2 361.5,461.1 361.6,459.7 361.7,460.0 361.8,461.8 361.9,462.2 362.0,462.2 362.1,458.7 362.2,465.4 362.3,463.3 362.4,460.4 362.5,457.7 362.6,460.8 362.7,457.8 362.8,460.7 362.8,461.7 362.9,463.9 363.0,460.1 363.1,456.8 363.2,460.3 363.3,462.8 363.4,459.3 363.5,463.5 363.6,463.0 363.7,458.1 363.8,459.7 363.9,458.5 364.0,460.0 364.1,460.8 364.2,460.2 364.3,461.2 364.4,458.3 364.5,463.3 364.6,464.6 364.7,462.4 364.8,458.6 364.9,461.7 365.0,465.5 365.1,454.4 365.2,462.5 365.3,461.0 365.4,459.3 365.5,459.7 365.6,460.9 365.7,463.9 365.8,459.4 365.9,462.7 366.0,460.9 366.1,458.9 366.2,461.4 366.3,464.4 366.4,461.8 366.5,459.2 366.6,459.0 366.7,463.3 366.8,460.4 366.9,459.9 367.0,458.2 367.1,459.7 367.2,460.2 367.3,461.2 367.4,459.5 367.5,458.9 367.6,460.9 367.7,461.1 367.8,456.8 367.9,460.6 368.0,462.2 368.1,459.1 368.2,463.2 368.3,462.9 368.4,458.6 368.5,460.5 368.6,458.8 368.7,458.9 368.8,462.2 368.9,459.5 369.0,461.4 369.1,460.1 369.2,460.0 369.3,460.7 369.4,463.3 369.5,459.9 369.6,460.5 369.7,459.4 369.8,462.8 369.9,460.1 370.0,461.0 370.1,461.5 370.2,461.1 370.3,461.1 370.4,463.5 370.5,461.7 370.6,461.5 370.7,459.5 370.8,460.9 370.9,457.5 371.0,459.3 371.1,459.9 371.2,460.1 371.3,463.6 371.4,459.8 371.5,457.8 371.6,462.7 371.7,457.7 371.8,459.2 371.9,459.9 372.0,461.5 372.1,460.5 372.2,462.2 372.3,460.6 372.4,460.4 372.5,460.4 372.6,463.1 372.7,458.6 372.8,461.9 372.9,459.7 373.0,459.3 373.1,461.0 373.2,455.3 373.3,460.3 373.4,459.6 373.5,461.1 373.6,459.8 373.7,463.2 373.8,459.2 373.9,461.3 374.0,461.6 374.1,458.9 374.2,458.6 374.3,461.4 374.4,462.7 374.5,464.8 374.6,462.7 374.7,459.5 374.8,459.2 374.9,463.2 375.0,460.4 375.1,458.3 375.2,462.2 375.3,461.7 375.4,462.5 375.5,459.7 375.6,464.6 375.7,460.8 375.8,459.5 375.9,460.7 376.0,458.5 376.1,459.2 376.2,461.6 376.3,462.7 376.4,462.8 376.5,459.5 376.6,460.8 376.7,460.3 376.8,462.5 376.9,458.1 377.0,458.7 377.0,458.9 377.1,462.9 377.2,455.0 377.3,458.8 377.4,462.8 377.5,458.5 377.6,460.8 377.7,462.2 377.8,462.2 377.9,459.5 378.0,459.9 378.1,460.1 378.2,461.0 378.3,462.7 378.4,460.0 378.5,461.1 378.6,461.0 378.7,459.2 378.8,457.0 378.9,461.9 379.0,458.5 379.1,462.1 379.2,458.8 379.3,459.2 379.4,460.5 379.5,460.0 379.6,462.2 379.7,461.3 379.8,458.5 379.9,458.9 380.0,455.8 380.1,462.7 380.2,461.5 380.3,460.3 380.4,460.4 380.5,461.6 380.6,461.4 380.7,460.8 380.8,457.8 380.9,460.8 381.0,462.1 381.1,459.9 381.2,466.1 381.3,462.4 381.4,461.9 381.5,459.9 381.6,465.4 381.7,461.0 381.8,462.8 381.9,458.5 382.0,458.9 382.1,461.5 382.2,459.5 382.3,463.0 382.4,460.1 382.5,460.0 382.6,458.3 382.7,461.4 382.8,465.1 382.9,458.8 383.0,462.8 383.1,461.7 383.2,461.3 383.3,457.0 383.4,460.6 383.5,458.1 383.6,460.4 383.7,463.5 383.8,459.6 383.9,459.5 384.0,461.7 384.1,463.8 384.2,454.5 384.3,456.0 384.4,459.7 384.5,459.6 384.6,458.5 384.7,459.3 384.8,463.7 384.9,463.5 385.0,458.8 385.1,457.7 385.2,458.3 385.3,458.8 385.4,460.6 385.5,458.5 385.6,457.3 385.7,459.4 385.8,457.9 385.9,458.0 386.0,462.0 386.1,458.1 386.2,462.1 386.3,462.5 386.4,457.1 386.5,464.0 386.6,460.9 386.7,458.6 386.8,459.7 386.9,461.3 387.0,462.5 387.1,459.5 387.2,459.4 387.3,460.7 387.4,462.6 387.5,463.6 387.6,460.6 387.7,460.6 387.8,458.8 387.9,461.2 388.0,458.6 388.1,463.1 388.2,464.2 388.3,458.6 388.4,461.4 388.5,462.3 388.6,460.8 388.7,463.1 388.8,461.3 388.9,463.4 389.0,460.2 389.1,461.8 389.2,460.6 389.3,460.5 389.4,459.6 389.5,464.1 389.6,460.2 389.7,461.1 389.8,462.9 389.9,461.1 390.0,459.5 390.1,459.5 390.2,456.4 390.3,461.2 390.4,460.2 390.5,456.5 390.6,461.8 390.7,462.3 390.8,461.5 390.9,461.8 391.0,460.6 391.1,460.2 391.2,462.1 391.2,462.9 391.3,460.6 391.4,463.1 391.5,462.2 391.6,459.8 391.7,460.7 391.8,462.6 391.9,463.5 392.0,462.6 392.1,463.6 392.2,459.4 392.3,459.0 392.4,459.9 392.5,459.9 392.6,461.6 392.7,460.2 392.8,460.4 392.9,460.4 393.0,461.6 393.1,462.8 393.2,459.9 393.3,459.7 393.4,462.9 393.5,461.0 393.6,460.6 393.7,459.5 393.8,464.1 393.9,463.5 394.0,463.4 394.1,463.1 394.2,462.8 394.3,458.8 394.4,463.0 394.5,456.1 394.6,460.0 394.7,459.1 394.8,460.6 394.9,458.7 395.0,459.7 395.1,458.9 395.2,459.3 395.3,459.2 395.4,459.7 395.5,458.2 395.6,460.5 395.7,461.6 395.8,457.2 395.9,461.5 396.0,459.7 396.1,456.1 396.2,461.9 396.3,461.1 396.4,461.9 396.5,462.5 396.6,459.2 396.7,461.0 396.8,460.3 396.9,464.1 397.0,459.5 397.1,462.0 397.2,464.6 397.3,462.0 397.4,463.9 397.5,457.2 397.6,464.0 397.7,459.9 397.8,462.7 397.9,462.2 398.0,463.2 398.1,458.0 398.2,462.8 398.3,461.9 398.4,460.0 398.5,461.3 398.6,459.1 398.7,462.1 398.8,463.9 398.9,459.6 399.0,458.0 399.1,459.4 399.2,462.3 399.3,458.1 399.4,458.9 399.5,461.3 399.6,459.6 399.7,460.6 399.8,460.3 399.9,459.2 400.0,458.7 400.1,460.4 400.2,460.4 400.3,465.7 400.4,462.2 400.5,459.6 400.6,462.2 400.7,459.8 400.8,460.9 400.9,460.4 401.0,460.3 401.1,457.8 401.2,459.5 401.3,460.4 401.4,463.0 401.5,459.8 401.6,462.8 401.7,458.0 401.8,462.0 401.9,461.8 402.0,460.8 402.1,462.6 402.2,459.5 402.3,459.8 402.4,461.9 402.5,461.6 402.6,456.7 402.7,458.1 402.8,459.4 402.9,459.9 403.0,457.4 403.1,461.3 403.2,461.1 403.3,460.8 403.4,462.7 403.5,462.4 403.6,456.7 403.7,460.2 403.8,462.4 403.9,461.0 404.0,461.5 404.1,461.4 404.2,460.6 404.3,463.6 404.4,464.3 404.5,460.9 404.6,461.0 404.7,463.0 404.8,460.7 404.9,461.7 405.0,460.1 405.1,461.0 405.2,458.2 405.3,457.6 405.4,459.1 405.4,460.5 405.5,458.7 405.6,459.0 405.7,459.5 405.8,458.9 405.9,461.3 406.0,458.9 406.1,459.4 406.2,459.7 406.3,460.9 406.4,461.4 406.5,459.3 406.6,461.5 406.7,462.7 406.8,457.0 406.9,458.0 407.0,462.1 407.1,457.6 407.2,464.7 407.3,459.3 407.4,459.1 407.5,460.0 407.6,460.9 407.7,458.9 407.8,459.4 407.9,462.8 408.0,462.0 408.1,458.4 408.2,458.9 408.3,462.9 408.4,463.6 408.5,459.6 408.6,462.2 408.7,462.0 408.8,461.6 408.9,460.0 409.0,464.7 409.1,458.9 409.2,461.3 409.3,458.6 409.4,462.8 409.5,462.3 409.6,459.5 409.7,458.4 409.8,460.6 409.9,461.2 410.0,457.7 410.1,458.2 410.2,459.9 410.3,461.0 410.4,457.9 410.5,459.1 410.6,461.2 410.7,457.4 410.8,458.2 410.9,460.0 411.0,459.5 411.1,458.9 411.2,461.4 411.3,463.0 411.4,458.0 411.5,463.8 411.6,463.6 411.7,463.4 411.8,459.5 411.9,458.3 412.0,461.8 412.1,457.8 412.2,457.1 412.3,457.6 412.4,463.1 412.5,457.8 412.6,455.7 412.7,462.3 412.8,463.8 412.9,457.8 413.0,459.4 413.1,460.6 413.2,460.6 413.3,464.0 413.4,462.2 413.5,460.1 413.6,459.5 413.7,458.6 413.8,458.5 413.9,461.5 414.0,460.6 414.1,457.5 414.2,463.3 414.3,459.4 414.4,462.2 414.5,460.0 414.6,456.6 414.7,459.7 414.8,461.4 414.9,461.9 415.0,463.4 415.1,460.5 415.2,465.2 415.3,460.6 415.4,460.2 415.5,462.4 415.6,462.1 415.7,458.0 415.8,457.9 415.9,456.2 416.0,458.1 416.1,459.8 416.2,460.9 416.3,457.9 416.4,459.1 416.5,460.1 416.6,456.7 416.7,460.8 416.8,460.1 416.9,458.2 417.0,459.5 417.1,460.3 417.2,458.3 417.3,454.7 417.4,461.2 417.5,459.0 417.6,459.6 417.7,460.1 417.8,457.0 417.9,460.6 418.0,456.9 418.1,462.5 418.2,460.2 418.3,462.2 418.4,459.7 418.5,459.0 418.6,459.3 418.7,460.0 418.8,461.0 418.9,463.0 419.0,458.7 419.1,460.4 419.2,458.1 419.3,464.0 419.4,461.0 419.5,464.0 419.6,458.2 419.6,462.0 419.7,462.6 419.8,458.6 419.9,460.7 420.0,460.0 420.1,460.7 420.2,458.1 420.3,459.9 420.4,459.9 420.5,460.5 420.6,458.5 420.7,458.1 420.8,461.2 420.9,458.7 421.0,463.6 421.1,462.1 421.2,461.6 421.3,462.0 421.4,459.4 421.5,463.4 421.6,463.7 421.7,460.1 421.8,462.3 421.9,460.4 422.0,460.3 422.1,461.9 422.2,461.3 422.3,458.7 422.4,460.5 422.5,460.3 422.6,459.1 422.7,462.0 422.8,463.0 422.9,461.2 423.0,457.1 423.1,459.2 423.2,455.8 423.3,458.4 423.4,458.6 423.5,461.5 423.6,463.9 423.7,464.9 423.8,460.2 423.9,462.8 424.0,462.9 424.1,459.3 424.2,459.9 424.3,463.2 424.4,460.0 424.5,457.6 424.6,458.5 424.7,461.9 424.8,458.5 424.9,464.6 425.0,461.1 425.1,461.4 425.2,457.9 425.3,463.0 425.4,462.5 425.5,461.2 425.6,458.9 425.7,463.4 425.8,460.0 425.9,461.3 426.0,461.5 426.1,463.2 426.2,459.6 426.3,460.2 426.4,459.6 426.5,460.1 426.6,460.7 426.7,462.3 426.8,460.5 426.9,458.9 427.0,460.2 427.1,459.4 427.2,458.7 427.3,459.8 427.4,461.0 427.5,462.5 427.6,457.9 427.7,460.9 427.8,460.9 427.9,460.3 428.0,458.8 428.1,458.7 428.2,462.0 428.3,460.7 428.4,458.1 428.5,461.8 428.6,460.4 428.7,462.3 428.8,463.5 428.9,463.2 429.0,460.2 429.1,459.8 429.2,465.9 429.3,461.0 429.4,461.0 429.5,463.7 429.6,460.6 429.7,462.1 429.8,457.7 429.9,462.6 430.0,458.3 430.1,463.0 430.2,462.7 430.3,457.5 430.4,462.1 430.5,461.4 430.6,463.8 430.7,460.2 430.8,457.6 430.9,461.1 431.0,461.1 431.1,460.5 431.2,462.1 431.3,463.2 431.4,460.4 431.5,461.2 431.6,464.2 431.7,465.6 431.8,459.5 431.9,463.2 432.0,459.6 432.1,458.6 432.2,460.6 432.3,461.8 432.4,465.8 432.5,457.3 432.6,458.6 432.7,474.6 432.8,475.2 432.9,472.1 433.0,477.0 433.1,471.7 433.2,471.2 433.3,475.5 433.4,475.2 433.5,469.6 433.6,474.1 433.7,472.8 433.7,473.8 433.8,477.1 433.9,471.1 434.0,469.9 434.1,474.2 434.2,474.9 434.3,470.1 434.4,476.1 434.5,473.7 434.6,475.7 434.7,476.2 434.8,474.3 434.9,478.3 435.0,475.5 435.1,473.0 435.2,474.5 435.3,475.3 435.4,468.2 435.5,471.6 435.6,474.1 435.7,470.9 435.8,471.8 435.9,472.8 436.0,471.6 436.1,473.8 436.2,474.2 436.3,469.6 436.4,472.9 436.5,470.1 436.6,477.0 436.7,474.9 436.8,474.9 436.9,472.8 437.0,473.2 437.1,471.2 437.2,472.1 437.3,473.1 437.4,472.1 437.5,471.7 437.6,472.6 437.7,477.9 437.8,474.0 437.9,471.9 438.0,473.9 438.1,470.4 438.2,474.1 438.3,473.0 438.4,474.7 438.5,473.3 438.6,470.9 438.7,470.3 438.8,471.4 438.9,471.8 439.0,472.9 439.1,475.6 439.2,471.9 439.3,474.4 439.4,472.5 439.5,473.3 439.6,471.4 439.7,474.4 439.8,471.5 439.9,473.1 440.0,469.9 440.1,473.3 440.2,473.4 440.3,476.8 440.4,471.4 440.5,473.0 440.6,477.4 440.7,472.2 440.8,472.1 440.9,473.7 441.0,470.5 441.1,473.3 441.2,473.4 441.3,472.3 441.4,475.3 441.5,472.0 441.6,474.8 441.7,472.6 441.8,470.9 441.9,473.9 442.0,474.4 442.1,469.8 442.2,473.0 442.3,471.0 442.4,471.9 442.5,472.2 442.6,470.3 442.7,473.2 442.8,476.1 442.9,473.6 443.0,474.3 443.1,475.3 443.2,473.9 443.3,472.3 443.4,472.1 443.5,472.9 443.6,473.3 443.7,472.9 443.8,473.9 443.9,474.7 444.0,472.9 444.1,471.4 444.2,474.5 444.3,473.0 444.4,471.7 444.5,475.0 444.6,472.3 444.7,472.8 444.8,471.1 444.9,474.8 445.0,473.9 445.1,470.0 445.2,469.0 445.3,471.9 445.4,470.4 445.5,474.3 445.6,471.1 445.7,472.4 445.8,471.7 445.9,475.4 446.0,472.7 446.1,471.7 446.2,470.8 446.3,472.2 446.4,472.2 446.5,471.1 446.6,469.7 446.7,475.8 446.8,476.7 446.9,472.9 447.0,469.8 447.1,469.4 447.2,471.6 447.3,474.8 447.4,471.8 447.5,474.2 447.6,471.3 447.7,473.3 447.8,469.7 447.9,474.9 447.9,470.1 448.0,474.4 448.1,471.6 448.2,472.4 448.3,475.6 448.4,476.8 448.5,473.3 448.6,473.6 448.7,474.2 448.8,471.6 448.9,472.4 449.0,471.8 449.1,475.1 449.2,473.3 449.3,473.3 449.4,471.0 449.5,470.5 449.6,474.0 449.7,473.1 449.8,477.8 449.9,469.0 450.0,472.3 450.1,472.0 450.2,472.4 450.3,473.3 450.4,476.5 450.5,474.8 450.6,474.6 450.7,473.5 450.8,475.2 450.9,472.6 451.0,471.8 451.1,472.7 451.2,472.7 451.3,468.4 451.4,474.6 451.5,474.3 451.6,471.4 451.7,473.7 451.8,469.6 451.9,474.3 452.0,473.1 452.1,469.6 452.2,476.2 452.3,471.0 452.4,472.5 452.5,472.6 452.6,470.3 452.7,474.2 452.8,471.8 452.9,474.0 453.0,470.5 453.1,475.5 453.2,473.2 453.3,474.1 453.4,475.2 453.5,471.1 453.6,473.8 453.7,471.9 453.8,477.6 453.9,475.1 454.0,475.0 454.1,472.3 454.2,476.2 454.3,472.4 454.4,471.1 454.5,472.9 454.6,472.8 454.7,473.8 454.8,474.8 454.9,473.1 455.0,472.6 455.1,470.1 455.2,472.7 455.3,474.5 455.4,471.4 455.5,475.1 455.6,477.1 455.7,473.5 455.8,474.5 455.9,471.8 456.0,473.2 456.1,475.7 456.2,474.5 456.3,474.1 456.4,469.0 456.5,475.6 456.6,475.1 456.7,470.6 456.8,470.2 456.9,473.8 457.0,470.4 457.1,473.3 457.2,474.9 457.3,473.3 457.4,471.3 457.5,470.2 457.6,473.5 457.7,475.7 457.8,472.6 457.9,474.0 458.0,474.4 458.1,472.2 458.2,472.7 458.3,475.5 458.4,474.5 458.5,470.3 458.6,473.5 458.7,469.5 458.8,477.9 458.9,475.2 459.0,473.1 459.1,475.0 459.2,472.8 459.3,472.9 459.4,475.8 459.5,469.5 459.6,469.6 459.7,476.4 459.8,473.7 459.9,475.7 460.0,473.9 460.1,474.0 460.2,473.6 460.3,470.9 460.4,470.7 460.5,473.7 460.6,472.2 460.7,471.8 460.8,476.2 460.9,472.9 461.0,475.1 461.1,470.8 461.2,470.6 461.3,472.5 461.4,470.2 461.5,473.6 461.6,474.6 461.7,470.4 461.8,473.1 461.9,472.4 462.0,475.7 462.1,471.7 462.1,473.3 462.2,473.4 462.3,475.3 462.4,474.6 462.5,473.9 462.6,472.8 462.7,470.6 462.8,476.6 462.9,475.9 463.0,475.0 463.1,474.6 463.2,474.8 463.3,475.4 463.4,474.4 463.5,472.2 463.6,473.9 463.7,474.9 463.8,471.9 463.9,472.8 464.0,475.1 464.1,470.7 464.2,474.4 464.3,475.1 464.4,472.4 464.5,474.8 464.6,475.1 464.7,470.4 464.8,474.0 464.9,475.0 465.0,472.7 465.1,473.4 465.2,477.0 465.3,474.0 465.4,472.1 465.5,474.0 465.6,472.2 465.7,475.4 465.8,471.5 465.9,473.8 466.0,474.6 466.1,475.6 466.2,471.3 466.3,473.2 466.4,473.9 466.5,472.4 466.6,473.4 466.7,473.8 466.8,472.4 466.9,474.0 467.0,471.3 467.1,468.5 467.2,476.5 467.3,473.1 467.4,474.0 467.5,471.9 467.6,477.0 467.7,468.9 467.8,471.5 467.9,469.0 468.0,470.8 468.1,475.2 468.2,473.4 468.3,469.8 468.4,470.9 468.5,474.6 468.6,472.6 468.7,470.4 468.8,470.5 468.9,473.8 469.0,472.3 469.1,472.0 469.2,473.5" stroke="#000" stroke-width="0.95" fill="none" stroke-linejoin="round"/>
<rect x="270.60" y="234.00" width="198.60" height="251.40" fill="none" stroke="#222" stroke-width="1.4" />
<path d="M270.6,234.0 V485.4 H469.2" stroke="#222" stroke-width="1.7" fill="none" />
<text font-size="11.0" text-anchor="end" transform="translate(267.9 489.7) scale(0.97 1)" >0.0</text>
<line x1="270.60" y1="457.47" x2="275.00" y2="457.47" stroke="#222" stroke-width="1.4" />
<text font-size="11.0" text-anchor="end" transform="translate(267.9 461.8) scale(0.97 1)" >0.2</text>
<line x1="270.60" y1="429.53" x2="275.00" y2="429.53" stroke="#222" stroke-width="1.4" />
<text font-size="11.0" text-anchor="end" transform="translate(267.9 433.8) scale(0.97 1)" >0.4</text>
<line x1="270.60" y1="401.60" x2="275.00" y2="401.60" stroke="#222" stroke-width="1.4" />
<text font-size="11.0" text-anchor="end" transform="translate(267.9 405.9) scale(0.97 1)" >0.6</text>
<line x1="270.60" y1="373.67" x2="275.00" y2="373.67" stroke="#222" stroke-width="1.4" />
<text font-size="11.0" text-anchor="end" transform="translate(267.9 378.0) scale(0.97 1)" >0.8</text>
<line x1="270.60" y1="345.73" x2="275.00" y2="345.73" stroke="#222" stroke-width="1.4" />
<text font-size="11.0" text-anchor="end" transform="translate(267.9 350.0) scale(0.97 1)" >1.0</text>
<line x1="270.60" y1="317.80" x2="275.00" y2="317.80" stroke="#222" stroke-width="1.4" />
<text font-size="11.0" text-anchor="end" transform="translate(267.9 322.1) scale(0.97 1)" >1.2</text>
<line x1="270.60" y1="289.87" x2="275.00" y2="289.87" stroke="#222" stroke-width="1.4" />
<text font-size="11.0" text-anchor="end" transform="translate(267.9 294.2) scale(0.97 1)" >1.4</text>
<line x1="270.60" y1="261.93" x2="275.00" y2="261.93" stroke="#222" stroke-width="1.4" />
<text font-size="11.0" text-anchor="end" transform="translate(267.9 266.2) scale(0.97 1)" >1.6</text>
<text font-size="11.0" text-anchor="end" transform="translate(267.9 238.3) scale(0.97 1)" >1.8</text>
<text font-size="10.6" text-anchor="middle" transform="translate(270.6 497.2) scale(1.07 1)" >0</text>
<line x1="310.32" y1="485.40" x2="310.32" y2="481.00" stroke="#222" stroke-width="1.4" />
<text font-size="10.6" text-anchor="middle" transform="translate(310.3 497.2) scale(1.07 1)" >500</text>
<line x1="350.04" y1="485.40" x2="350.04" y2="481.00" stroke="#222" stroke-width="1.4" />
<text font-size="10.6" text-anchor="middle" transform="translate(350.0 497.2) scale(1.07 1)" >1000</text>
<line x1="389.76" y1="485.40" x2="389.76" y2="481.00" stroke="#222" stroke-width="1.4" />
<text font-size="10.6" text-anchor="middle" transform="translate(389.8 497.2) scale(1.07 1)" >1500</text>
<line x1="429.48" y1="485.40" x2="429.48" y2="481.00" stroke="#222" stroke-width="1.4" />
<text font-size="10.6" text-anchor="middle" transform="translate(429.5 497.2) scale(1.07 1)" >2000</text>
<text font-size="10.6" text-anchor="middle" transform="translate(469.2 497.2) scale(1.07 1)" >2500</text>
<text font-size="11.2" text-anchor="middle" transform="translate(246.2 360.5) rotate(-90) scale(1.07 1)" textLength="102.5" lengthAdjust="spacingAndGlyphs" >Intensity (x 10<tspan dy="-3.6" font-size="7.2">-3</tspan><tspan dy="3.6" font-size="1">&#8203;</tspan><tspan>a.u.)</tspan></text>
<text font-size="11.2" text-anchor="middle" transform="translate(369.8 514.0) scale(1.07 1)" >Time (ms)</text>
<text font-size="18" font-weight="bold" fill="#000" transform="translate(498.4 219.3)" >F</text>
<rect x="529.90" y="226.49" width="14.80" height="106.31" fill="#fbd5bf" stroke="#222" stroke-width="1.0" />
<rect x="544.70" y="272.05" width="14.80" height="60.75" fill="#fbd5bf" stroke="#222" stroke-width="1.0" />
<rect x="559.50" y="302.43" width="14.80" height="30.37" fill="#fbd5bf" stroke="#222" stroke-width="1.0" />
<rect x="574.30" y="325.21" width="14.80" height="7.59" fill="#fbd5bf" stroke="#222" stroke-width="1.0" />
<rect x="589.10" y="317.61" width="14.80" height="15.19" fill="#fbd5bf" stroke="#222" stroke-width="1.0" />
<rect x="618.70" y="325.21" width="14.80" height="7.59" fill="#fbd5bf" stroke="#222" stroke-width="1.0" />
<rect x="633.50" y="325.21" width="14.80" height="7.59" fill="#fbd5bf" stroke="#222" stroke-width="1.0" />
<rect x="648.30" y="325.21" width="14.80" height="7.59" fill="#fbd5bf" stroke="#222" stroke-width="1.0" />
<path d="M537.6,226.5 L538.9,232.3 L540.3,237.7 L541.6,242.9 L543.0,247.7 L544.3,252.4 L545.7,256.7 L547.0,260.8 L548.4,264.7 L549.8,268.4 L551.1,271.9 L552.5,275.2 L553.8,278.3 L555.2,281.3 L556.5,284.1 L557.9,286.7 L559.2,289.2 L560.6,291.6 L561.9,293.8 L563.3,295.9 L564.7,297.9 L566.0,299.8 L567.4,301.6 L568.7,303.3 L570.1,304.9 L571.4,306.4 L572.8,307.8 L574.1,309.2 L575.5,310.5 L576.8,311.7 L578.2,312.8 L579.5,313.9 L580.9,314.9 L582.3,315.9 L583.6,316.8 L585.0,317.7 L586.3,318.5 L587.7,319.3 L589.0,320.0 L590.4,320.7 L591.7,321.4 L593.1,322.0 L594.4,322.6 L595.8,323.1 L597.1,323.6 L598.5,324.1 L599.9,324.6 L601.2,325.1 L602.6,325.5 L603.9,325.9 L605.3,326.3 L606.6,326.6 L608.0,326.9 L609.3,327.3 L610.7,327.6 L612.0,327.8 L613.4,328.1 L614.7,328.4 L616.1,328.6 L617.5,328.8 L618.8,329.0 L620.2,329.3 L621.5,329.4 L622.9,329.6 L624.2,329.8 L625.6,330.0 L626.9,330.1 L628.3,330.3 L629.6,330.4 L631.0,330.5 L632.3,330.7 L633.7,330.8 L635.1,330.9 L636.4,331.0 L637.8,331.1 L639.1,331.2 L640.5,331.3 L641.8,331.3 L643.2,331.4 L644.5,331.5 L645.9,331.6 L647.2,331.6 L648.6,331.7 L649.9,331.8 L651.3,331.8 L652.7,331.9 L654.0,331.9 L655.4,332.0 L656.7,332.0 L658.1,332.1" stroke="#ff0000" stroke-width="2.7" fill="none" stroke-linejoin="round" stroke-linecap="butt"/>
<rect x="529.90" y="218.90" width="148.00" height="113.90" fill="none" stroke="#222" stroke-width="1.8" />
<text font-size="10.8" text-anchor="end" transform="translate(528.0 336.9) scale(1.07 1)" >0</text>
<line x1="529.90" y1="294.83" x2="534.10" y2="294.83" stroke="#222" stroke-width="1.4" />
<text font-size="10.8" text-anchor="end" transform="translate(528.0 298.9) scale(1.07 1)" >5</text>
<line x1="529.90" y1="256.87" x2="534.10" y2="256.87" stroke="#222" stroke-width="1.4" />
<text font-size="10.8" text-anchor="end" transform="translate(528.0 261.0) scale(1.07 1)" >10</text>
<text font-size="10.8" text-anchor="end" transform="translate(528.0 223.0) scale(1.07 1)" >15</text>
<text font-size="11.3" text-anchor="middle" transform="translate(529.9 342.4) scale(1.07 1)" >0</text>
<line x1="559.50" y1="332.80" x2="559.50" y2="328.60" stroke="#222" stroke-width="1.4" />
<text font-size="11.3" text-anchor="middle" transform="translate(559.5 343.6) scale(1.07 1)" >500</text>
<line x1="589.10" y1="332.80" x2="589.10" y2="328.60" stroke="#222" stroke-width="1.4" />
<text font-size="11.3" text-anchor="middle" transform="translate(590.1 343.6) scale(1.07 1)" >1000</text>
<line x1="618.70" y1="332.80" x2="618.70" y2="328.60" stroke="#222" stroke-width="1.4" />
<text font-size="11.3" text-anchor="middle" transform="translate(619.7 342.4) scale(1.07 1)" >1500</text>
<line x1="648.30" y1="332.80" x2="648.30" y2="328.60" stroke="#222" stroke-width="1.4" />
<text font-size="11.3" text-anchor="middle" transform="translate(649.3 342.4) scale(1.07 1)" >2000</text>
<text font-size="12.3" text-anchor="middle" transform="translate(510.9 275.9) rotate(-90) scale(1.07 1)" textLength="35.0" lengthAdjust="spacingAndGlyphs" >Counts</text>
<text font-size="11.2" text-anchor="middle" transform="translate(603.9 358.8) scale(1.07 1)" >Bleaching time (ms)</text>
<line x1="595.90" y1="232.00" x2="608.10" y2="232.00" stroke="#ff0000" stroke-width="2.6" />
<text font-size="11.0" transform="translate(612.4 235.8) scale(1.07 1)" textLength="53.7" lengthAdjust="spacingAndGlyphs" >Exponential</text>
<text font-size="11.0" text-anchor="middle" transform="translate(641.0 248.5) scale(1.07 1)" >Fit</text>
<text font-size="11.8" transform="translate(596.7 283.3) scale(1.07 1)" textLength="63.9" lengthAdjust="spacingAndGlyphs" ><tspan font-family="'Liberation Serif', serif" font-style="italic" font-size="12.5">&#964;</tspan> = 410.3 ms</text>
<text font-size="18" font-weight="bold" fill="#000" transform="translate(497.2 381.2)" >G</text>
<rect x="548.40" y="429.15" width="18.50" height="56.65" fill="#fbd5bf" stroke="#222" stroke-width="1.0" />
<rect x="566.90" y="381.94" width="18.50" height="103.86" fill="#fbd5bf" stroke="#222" stroke-width="1.0" />
<rect x="585.40" y="410.27" width="18.50" height="75.53" fill="#fbd5bf" stroke="#222" stroke-width="1.0" />
<rect x="603.90" y="438.59" width="18.50" height="47.21" fill="#fbd5bf" stroke="#222" stroke-width="1.0" />
<rect x="622.40" y="476.36" width="18.50" height="9.44" fill="#fbd5bf" stroke="#222" stroke-width="1.0" />
<rect x="640.90" y="476.36" width="18.50" height="9.44" fill="#fbd5bf" stroke="#222" stroke-width="1.0" />
<path d="M531.0,485.8 L532.1,485.8 L533.1,485.8 L534.2,485.8 L535.2,485.8 L536.3,485.8 L537.4,485.8 L538.4,485.8 L539.5,485.7 L540.5,485.6 L541.6,485.4 L542.6,485.0 L543.7,484.4 L544.7,483.3 L545.8,481.9 L546.9,479.9 L547.9,477.4 L549.0,474.4 L550.0,470.7 L551.1,466.6 L552.1,461.9 L553.2,456.9 L554.3,451.5 L555.3,445.9 L556.4,440.1 L557.4,434.3 L558.5,428.5 L559.5,422.8 L560.6,417.3 L561.7,412.1 L562.7,407.2 L563.8,402.6 L564.8,398.5 L565.9,394.7 L566.9,391.4 L568.0,388.5 L569.1,386.1 L570.1,384.1 L571.2,382.6 L572.2,381.4 L573.3,380.7 L574.3,380.3 L575.4,380.3 L576.5,380.6 L577.5,381.3 L578.6,382.2 L579.6,383.3 L580.7,384.7 L581.7,386.3 L582.8,388.0 L583.8,389.9 L584.9,392.0 L586.0,394.2 L587.0,396.4 L588.1,398.7 L589.1,401.1 L590.2,403.6 L591.2,406.0 L592.3,408.5 L593.4,411.0 L594.4,413.5 L595.5,415.9 L596.5,418.4 L597.6,420.8 L598.6,423.2 L599.7,425.5 L600.8,427.8 L601.8,430.0 L602.9,432.2 L603.9,434.4 L605.0,436.4 L606.0,438.5 L607.1,440.4 L608.2,442.3 L609.2,444.2 L610.3,446.0 L611.3,447.7 L612.4,449.3 L613.4,450.9 L614.5,452.5 L615.6,454.0 L616.6,455.4 L617.7,456.8 L618.7,458.1 L619.8,459.3 L620.8,460.5 L621.9,461.7 L622.9,462.8 L624.0,463.9 L625.1,464.9 L626.1,465.9 L627.2,466.8 L628.2,467.7 L629.3,468.6 L630.3,469.4 L631.4,470.2 L632.5,470.9 L633.5,471.6 L634.6,472.3 L635.6,472.9 L636.7,473.5 L637.7,474.1 L638.8,474.7 L639.9,475.2 L640.9,475.7 L642.0,476.2 L643.0,476.7 L644.1,477.1 L645.1,477.5 L646.2,477.9 L647.3,478.3 L648.3,478.7 L649.4,479.0 L650.4,479.3 L651.5,479.6 L652.5,479.9 L653.6,480.2 L654.7,480.5 L655.7,480.7 L656.8,481.0 L657.8,481.2 L658.9,481.4 L659.9,481.7 L661.0,481.9 L662.0,482.0 L663.1,482.2 L664.2,482.4 L665.2,482.6 L666.3,482.7 L667.3,482.9 L668.4,483.0 L669.4,483.1 L670.5,483.3 L671.6,483.4 L672.6,483.5 L673.7,483.6 L674.7,483.7 L675.8,483.8 L676.8,483.9 L677.9,484.0" stroke="#ff0000" stroke-width="2.7" fill="none" stroke-linejoin="round" stroke-linecap="butt"/>
<rect x="529.90" y="372.50" width="148.00" height="113.30" fill="none" stroke="#222" stroke-width="1.8" />
<text font-size="10.8" text-anchor="end" transform="translate(527.6 490.3) scale(1.07 1)" >0</text>
<line x1="529.90" y1="466.92" x2="534.10" y2="466.92" stroke="#222" stroke-width="1.4" />
<text font-size="10.8" text-anchor="end" transform="translate(527.6 471.4) scale(1.07 1)" >2</text>
<line x1="529.90" y1="448.03" x2="534.10" y2="448.03" stroke="#222" stroke-width="1.4" />
<text font-size="10.8" text-anchor="end" transform="translate(527.6 452.5) scale(1.07 1)" >4</text>
<line x1="529.90" y1="429.15" x2="534.10" y2="429.15" stroke="#222" stroke-width="1.4" />
<text font-size="10.8" text-anchor="end" transform="translate(527.6 433.6) scale(1.07 1)" >6</text>
<line x1="529.90" y1="410.27" x2="534.10" y2="410.27" stroke="#222" stroke-width="1.4" />
<text font-size="10.8" text-anchor="end" transform="translate(527.6 414.8) scale(1.07 1)" >8</text>
<line x1="529.90" y1="391.38" x2="534.10" y2="391.38" stroke="#222" stroke-width="1.4" />
<text font-size="10.8" text-anchor="end" transform="translate(527.6 395.9) scale(1.07 1)" >10</text>
<text font-size="10.8" text-anchor="end" transform="translate(527.6 374.9) scale(1.07 1)" >12</text>
<text font-size="11.3" text-anchor="middle" transform="translate(529.9 497.2) scale(1.07 1)" >0</text>
<line x1="566.90" y1="485.80" x2="566.90" y2="481.60" stroke="#222" stroke-width="1.4" />
<text font-size="11.3" text-anchor="middle" transform="translate(566.9 498.1) scale(1.07 1)" >1</text>
<line x1="603.90" y1="485.80" x2="603.90" y2="481.60" stroke="#222" stroke-width="1.4" />
<text font-size="11.3" text-anchor="middle" transform="translate(603.9 498.1) scale(1.07 1)" >2</text>
<line x1="640.90" y1="485.80" x2="640.90" y2="481.60" stroke="#222" stroke-width="1.4" />
<text font-size="11.3" text-anchor="middle" transform="translate(640.9 498.1) scale(1.07 1)" >3</text>
<text font-size="11.3" text-anchor="middle" transform="translate(677.9 498.1) scale(1.07 1)" >4</text>
<text font-size="12.3" text-anchor="middle" transform="translate(513.6 429.2) rotate(-90) scale(1.07 1)" textLength="35.0" lengthAdjust="spacingAndGlyphs" >Counts</text>
<text font-size="11.2" text-anchor="middle" transform="translate(604.6 514.3) scale(1.07 1)" >Amplitude (x 10<tspan dy="-3.6" font-size="6.5">-4</tspan><tspan dy="3.6" font-size="1">&#8203;</tspan><tspan> a.u.)</tspan></text>
<line x1="595.90" y1="384.20" x2="608.10" y2="384.20" stroke="#ff0000" stroke-width="2.6" />
<text font-size="11.0" transform="translate(613.6 388.8) scale(1.07 1)" textLength="52.9" lengthAdjust="spacingAndGlyphs" >Log-normal</text>
<text font-size="11.0" text-anchor="middle" transform="translate(641.7 402.4) scale(1.07 1)" >Fit</text>
<text font-size="18" font-weight="bold" fill="#000" transform="translate(0.1 549.7) scale(0.95 1)" >H</text>
<rect x="0.50" y="558.90" width="77.10" height="77.00" fill="#000" />
<rect x="49.56" y="565.90" width="7.16" height="7.15" fill="#282828"/>
<rect x="21.53" y="572.90" width="7.16" height="7.15" fill="#303030"/>
<rect x="42.55" y="572.90" width="7.16" height="7.15" fill="#202020"/>
<rect x="49.56" y="572.90" width="7.16" height="7.15" fill="#282828"/>
<rect x="56.57" y="572.90" width="7.16" height="7.15" fill="#808080"/>
<rect x="7.51" y="579.90" width="7.16" height="7.15" fill="#0c0c0c"/>
<rect x="21.53" y="579.90" width="7.16" height="7.15" fill="#202020"/>
<rect x="28.54" y="579.90" width="7.16" height="7.15" fill="#909090"/>
<rect x="35.55" y="579.90" width="7.16" height="7.15" fill="#a8a8a8"/>
<rect x="42.55" y="579.90" width="7.16" height="7.15" fill="#c8c8c8"/>
<rect x="49.56" y="579.90" width="7.16" height="7.15" fill="#a0a0a0"/>
<rect x="56.57" y="579.90" width="7.16" height="7.15" fill="#606060"/>
<rect x="0.50" y="586.90" width="7.16" height="7.15" fill="#282828"/>
<rect x="7.51" y="586.90" width="7.16" height="7.15" fill="#585858"/>
<rect x="14.52" y="586.90" width="7.16" height="7.15" fill="#101010"/>
<rect x="28.54" y="586.90" width="7.16" height="7.15" fill="#202020"/>
<rect x="35.55" y="586.90" width="7.16" height="7.15" fill="#808080"/>
<rect x="42.55" y="586.90" width="7.16" height="7.15" fill="#c0c0c0"/>
<rect x="49.56" y="586.90" width="7.16" height="7.15" fill="#484848"/>
<rect x="56.57" y="586.90" width="7.16" height="7.15" fill="#181818"/>
<rect x="63.58" y="586.90" width="7.16" height="7.15" fill="#383838"/>
<rect x="0.50" y="593.90" width="7.16" height="7.15" fill="#585858"/>
<rect x="7.51" y="593.90" width="7.16" height="7.15" fill="#505050"/>
<rect x="21.53" y="593.90" width="7.16" height="7.15" fill="#0c0c0c"/>
<rect x="28.54" y="593.90" width="7.16" height="7.15" fill="#b8b8b8"/>
<rect x="35.55" y="593.90" width="7.16" height="7.15" fill="#b8b8b8"/>
<rect x="42.55" y="593.90" width="7.16" height="7.15" fill="#c0c0c0"/>
<rect x="49.56" y="593.90" width="7.16" height="7.15" fill="#787878"/>
<rect x="56.57" y="593.90" width="7.16" height="7.15" fill="#101010"/>
<rect x="0.50" y="600.90" width="7.16" height="7.15" fill="#a0a0a0"/>
<rect x="7.51" y="600.90" width="7.16" height="7.15" fill="#c0c0c0"/>
<rect x="14.52" y="600.90" width="7.16" height="7.15" fill="#787878"/>
<rect x="35.55" y="600.90" width="7.16" height="7.15" fill="#484848"/>
<rect x="42.55" y="600.90" width="7.16" height="7.15" fill="#707070"/>
<rect x="49.56" y="600.90" width="7.16" height="7.15" fill="#282828"/>
<rect x="56.57" y="600.90" width="7.16" height="7.15" fill="#303030"/>
<rect x="70.59" y="600.90" width="7.16" height="7.15" fill="#101010"/>
<rect x="0.50" y="607.90" width="7.16" height="7.15" fill="#c0c0c0"/>
<rect x="7.51" y="607.90" width="7.16" height="7.15" fill="#282828"/>
<rect x="0.50" y="614.90" width="7.16" height="7.15" fill="#404040"/>
<rect x="7.51" y="614.90" width="7.16" height="7.15" fill="#282828"/>
<rect x="28.54" y="621.90" width="7.16" height="7.15" fill="#606060"/>
<rect x="28.54" y="628.90" width="7.16" height="7.15" fill="#404040"/>
<rect x="35.55" y="628.90" width="7.16" height="7.15" fill="#484848"/>
<rect x="70.59" y="628.90" width="7.16" height="7.15" fill="#303030"/>
<rect x="83.40" y="558.90" width="77.10" height="77.00" fill="#000" />
<rect x="83.40" y="558.90" width="7.16" height="7.15" fill="#ffffff"/>
<rect x="104.43" y="558.90" width="7.16" height="7.15" fill="#707070"/>
<rect x="118.45" y="565.90" width="7.16" height="7.15" fill="#303030"/>
<rect x="90.41" y="572.90" width="7.16" height="7.15" fill="#181818"/>
<rect x="132.46" y="579.90" width="7.16" height="7.15" fill="#202020"/>
<rect x="83.40" y="593.90" width="7.16" height="7.15" fill="#484848"/>
<rect x="97.42" y="607.90" width="7.16" height="7.15" fill="#404040"/>
<rect x="83.40" y="621.90" width="7.16" height="7.15" fill="#585858"/>
<rect x="97.42" y="621.90" width="7.16" height="7.15" fill="#383838"/>
<rect x="153.49" y="621.90" width="7.16" height="7.15" fill="#181818"/>
<rect x="166.90" y="558.90" width="77.10" height="77.00" fill="#000" />
<rect x="180.92" y="565.90" width="7.16" height="7.15" fill="#282828"/>
<rect x="215.96" y="565.90" width="7.16" height="7.15" fill="#282828"/>
<rect x="187.93" y="572.90" width="7.16" height="7.15" fill="#383838"/>
<rect x="215.96" y="572.90" width="7.16" height="7.15" fill="#484848"/>
<rect x="222.97" y="572.90" width="7.16" height="7.15" fill="#282828"/>
<rect x="173.91" y="579.90" width="7.16" height="7.15" fill="#181818"/>
<rect x="187.93" y="579.90" width="7.16" height="7.15" fill="#383838"/>
<rect x="194.94" y="579.90" width="7.16" height="7.15" fill="#888888"/>
<rect x="201.95" y="579.90" width="7.16" height="7.15" fill="#a0a0a0"/>
<rect x="208.95" y="579.90" width="7.16" height="7.15" fill="#c0c0c0"/>
<rect x="215.96" y="579.90" width="7.16" height="7.15" fill="#909090"/>
<rect x="222.97" y="579.90" width="7.16" height="7.15" fill="#606060"/>
<rect x="236.99" y="579.90" width="7.16" height="7.15" fill="#383838"/>
<rect x="173.91" y="586.90" width="7.16" height="7.15" fill="#202020"/>
<rect x="194.94" y="586.90" width="7.16" height="7.15" fill="#282828"/>
<rect x="201.95" y="586.90" width="7.16" height="7.15" fill="#808080"/>
<rect x="208.95" y="586.90" width="7.16" height="7.15" fill="#101010"/>
<rect x="215.96" y="586.90" width="7.16" height="7.15" fill="#505050"/>
<rect x="229.98" y="586.90" width="7.16" height="7.15" fill="#181818"/>
<rect x="236.99" y="586.90" width="7.16" height="7.15" fill="#404040"/>
<rect x="166.90" y="593.90" width="7.16" height="7.15" fill="#606060"/>
<rect x="173.91" y="593.90" width="7.16" height="7.15" fill="#484848"/>
<rect x="180.92" y="593.90" width="7.16" height="7.15" fill="#181818"/>
<rect x="187.93" y="593.90" width="7.16" height="7.15" fill="#383838"/>
<rect x="201.95" y="593.90" width="7.16" height="7.15" fill="#404040"/>
<rect x="208.95" y="593.90" width="7.16" height="7.15" fill="#b0b0b0"/>
<rect x="215.96" y="593.90" width="7.16" height="7.15" fill="#787878"/>
<rect x="229.98" y="593.90" width="7.16" height="7.15" fill="#505050"/>
<rect x="236.99" y="593.90" width="7.16" height="7.15" fill="#404040"/>
<rect x="166.90" y="600.90" width="7.16" height="7.15" fill="#c8c8c8"/>
<rect x="173.91" y="600.90" width="7.16" height="7.15" fill="#989898"/>
<rect x="180.92" y="600.90" width="7.16" height="7.15" fill="#404040"/>
<rect x="201.95" y="600.90" width="7.16" height="7.15" fill="#484848"/>
<rect x="208.95" y="600.90" width="7.16" height="7.15" fill="#707070"/>
<rect x="215.96" y="600.90" width="7.16" height="7.15" fill="#282828"/>
<rect x="222.97" y="600.90" width="7.16" height="7.15" fill="#383838"/>
<rect x="236.99" y="600.90" width="7.16" height="7.15" fill="#202020"/>
<rect x="166.90" y="607.90" width="7.16" height="7.15" fill="#ffffff"/>
<rect x="173.91" y="607.90" width="7.16" height="7.15" fill="#383838"/>
<rect x="187.93" y="607.90" width="7.16" height="7.15" fill="#505050"/>
<rect x="194.94" y="607.90" width="7.16" height="7.15" fill="#101010"/>
<rect x="201.95" y="607.90" width="7.16" height="7.15" fill="#282828"/>
<rect x="208.95" y="607.90" width="7.16" height="7.15" fill="#0c0c0c"/>
<rect x="222.97" y="607.90" width="7.16" height="7.15" fill="#383838"/>
<rect x="236.99" y="607.90" width="7.16" height="7.15" fill="#606060"/>
<rect x="166.90" y="614.90" width="7.16" height="7.15" fill="#888888"/>
<rect x="173.91" y="614.90" width="7.16" height="7.15" fill="#606060"/>
<rect x="180.92" y="614.90" width="7.16" height="7.15" fill="#282828"/>
<rect x="201.95" y="614.90" width="7.16" height="7.15" fill="#404040"/>
<rect x="194.94" y="628.90" width="7.16" height="7.15" fill="#282828"/>
<rect x="0.50" y="642.30" width="77.10" height="77.00" fill="#000" />
<rect x="35.55" y="656.30" width="7.16" height="7.15" fill="#080808"/>
<rect x="49.56" y="656.30" width="7.16" height="7.15" fill="#404040"/>
<rect x="7.51" y="663.30" width="7.16" height="7.15" fill="#181818"/>
<rect x="28.54" y="663.30" width="7.16" height="7.15" fill="#282828"/>
<rect x="35.55" y="663.30" width="7.16" height="7.15" fill="#606060"/>
<rect x="42.55" y="663.30" width="7.16" height="7.15" fill="#686868"/>
<rect x="56.57" y="663.30" width="7.16" height="7.15" fill="#282828"/>
<rect x="0.50" y="670.30" width="7.16" height="7.15" fill="#181818"/>
<rect x="28.54" y="670.30" width="7.16" height="7.15" fill="#484848"/>
<rect x="35.55" y="670.30" width="7.16" height="7.15" fill="#202020"/>
<rect x="42.55" y="670.30" width="7.16" height="7.15" fill="#484848"/>
<rect x="49.56" y="670.30" width="7.16" height="7.15" fill="#484848"/>
<rect x="56.57" y="670.30" width="7.16" height="7.15" fill="#282828"/>
<rect x="28.54" y="677.30" width="7.16" height="7.15" fill="#888888"/>
<rect x="35.55" y="677.30" width="7.16" height="7.15" fill="#ffffff"/>
<rect x="42.55" y="677.30" width="7.16" height="7.15" fill="#808080"/>
<rect x="49.56" y="677.30" width="7.16" height="7.15" fill="#484848"/>
<rect x="21.53" y="684.30" width="7.16" height="7.15" fill="#0c0c0c"/>
<rect x="28.54" y="684.30" width="7.16" height="7.15" fill="#404040"/>
<rect x="35.55" y="684.30" width="7.16" height="7.15" fill="#a8a8a8"/>
<rect x="42.55" y="684.30" width="7.16" height="7.15" fill="#e0e0e0"/>
<rect x="49.56" y="684.30" width="7.16" height="7.15" fill="#484848"/>
<rect x="21.53" y="691.30" width="7.16" height="7.15" fill="#808080"/>
<rect x="35.55" y="691.30" width="7.16" height="7.15" fill="#a0a0a0"/>
<rect x="42.55" y="691.30" width="7.16" height="7.15" fill="#484848"/>
<rect x="35.55" y="698.30" width="7.16" height="7.15" fill="#101010"/>
<rect x="63.58" y="698.30" width="7.16" height="7.15" fill="#181818"/>
<rect x="0.50" y="705.30" width="7.16" height="7.15" fill="#080808"/>
<rect x="63.58" y="705.30" width="7.16" height="7.15" fill="#181818"/>
<rect x="70.59" y="705.30" width="7.16" height="7.15" fill="#101010"/>
<rect x="0.50" y="712.30" width="7.16" height="7.15" fill="#080808"/>
<rect x="63.58" y="712.30" width="7.16" height="7.15" fill="#101010"/>
<rect x="83.40" y="642.30" width="77.10" height="77.00" fill="#000" />
<rect x="104.43" y="649.30" width="7.16" height="7.15" fill="#a0a0a0"/>
<rect x="97.42" y="663.30" width="7.16" height="7.15" fill="#282828"/>
<rect x="111.44" y="670.30" width="7.16" height="7.15" fill="#404040"/>
<rect x="118.45" y="677.30" width="7.16" height="7.15" fill="#484848"/>
<rect x="90.41" y="705.30" width="7.16" height="7.15" fill="#484848"/>
<rect x="166.90" y="642.30" width="77.10" height="77.00" fill="#000" />
<rect x="173.91" y="642.30" width="7.16" height="6.57" fill="#707070"/>
<rect x="222.97" y="642.30" width="7.16" height="6.57" fill="#202020"/>
<rect x="222.97" y="648.72" width="7.16" height="6.57" fill="#282828"/>
<rect x="236.99" y="648.72" width="7.16" height="6.57" fill="#707070"/>
<rect x="187.93" y="661.55" width="7.16" height="6.57" fill="#b0b0b0"/>
<rect x="208.95" y="661.55" width="7.16" height="6.57" fill="#101010"/>
<rect x="215.96" y="661.55" width="7.16" height="6.57" fill="#101010"/>
<rect x="222.97" y="661.55" width="7.16" height="6.57" fill="#0c0c0c"/>
<rect x="180.92" y="667.97" width="7.16" height="6.57" fill="#282828"/>
<rect x="194.94" y="667.97" width="7.16" height="6.57" fill="#c0c0c0"/>
<rect x="201.95" y="667.97" width="7.16" height="6.57" fill="#909090"/>
<rect x="208.95" y="667.97" width="7.16" height="6.57" fill="#707070"/>
<rect x="215.96" y="667.97" width="7.16" height="6.57" fill="#101010"/>
<rect x="173.91" y="674.38" width="7.16" height="6.57" fill="#707070"/>
<rect x="194.94" y="674.38" width="7.16" height="6.57" fill="#e0e0e0"/>
<rect x="201.95" y="674.38" width="7.16" height="6.57" fill="#282828"/>
<rect x="208.95" y="674.38" width="7.16" height="6.57" fill="#202020"/>
<rect x="215.96" y="674.38" width="7.16" height="6.57" fill="#ffffff"/>
<rect x="222.97" y="674.38" width="7.16" height="6.57" fill="#707070"/>
<rect x="194.94" y="680.80" width="7.16" height="6.57" fill="#989898"/>
<rect x="201.95" y="680.80" width="7.16" height="6.57" fill="#f0f0f0"/>
<rect x="208.95" y="680.80" width="7.16" height="6.57" fill="#d8d8d8"/>
<rect x="215.96" y="680.80" width="7.16" height="6.57" fill="#909090"/>
<rect x="173.91" y="687.22" width="7.16" height="6.57" fill="#080808"/>
<rect x="187.93" y="687.22" width="7.16" height="6.57" fill="#707070"/>
<rect x="194.94" y="687.22" width="7.16" height="6.57" fill="#b0b0b0"/>
<rect x="208.95" y="687.22" width="7.16" height="6.57" fill="#707070"/>
<rect x="215.96" y="687.22" width="7.16" height="6.57" fill="#404040"/>
<rect x="236.99" y="687.22" width="7.16" height="6.57" fill="#383838"/>
<rect x="201.95" y="693.63" width="7.16" height="6.57" fill="#282828"/>
<rect x="208.95" y="693.63" width="7.16" height="6.57" fill="#080808"/>
<rect x="222.97" y="693.63" width="7.16" height="6.57" fill="#101010"/>
<rect x="194.94" y="700.05" width="7.16" height="6.57" fill="#101010"/>
<rect x="194.94" y="712.88" width="7.16" height="6.57" fill="#181818"/>
<rect x="0.50" y="724.20" width="77.10" height="77.00" fill="#000" />
<rect x="7.51" y="724.20" width="7.16" height="7.15" fill="#484848"/>
<rect x="21.53" y="724.20" width="7.16" height="7.15" fill="#181818"/>
<rect x="49.56" y="724.20" width="7.16" height="7.15" fill="#080808"/>
<rect x="63.58" y="724.20" width="7.16" height="7.15" fill="#686868"/>
<rect x="14.52" y="731.20" width="7.16" height="7.15" fill="#404040"/>
<rect x="28.54" y="731.20" width="7.16" height="7.15" fill="#303030"/>
<rect x="35.55" y="731.20" width="7.16" height="7.15" fill="#585858"/>
<rect x="49.56" y="731.20" width="7.16" height="7.15" fill="#282828"/>
<rect x="0.50" y="738.20" width="7.16" height="7.15" fill="#181818"/>
<rect x="21.53" y="738.20" width="7.16" height="7.15" fill="#888888"/>
<rect x="28.54" y="738.20" width="7.16" height="7.15" fill="#808080"/>
<rect x="35.55" y="738.20" width="7.16" height="7.15" fill="#909090"/>
<rect x="42.55" y="738.20" width="7.16" height="7.15" fill="#787878"/>
<rect x="21.53" y="745.20" width="7.16" height="7.15" fill="#505050"/>
<rect x="28.54" y="745.20" width="7.16" height="7.15" fill="#909090"/>
<rect x="35.55" y="745.20" width="7.16" height="7.15" fill="#888888"/>
<rect x="42.55" y="745.20" width="7.16" height="7.15" fill="#686868"/>
<rect x="49.56" y="745.20" width="7.16" height="7.15" fill="#282828"/>
<rect x="70.59" y="745.20" width="7.16" height="7.15" fill="#101010"/>
<rect x="14.52" y="752.20" width="7.16" height="7.15" fill="#383838"/>
<rect x="21.53" y="752.20" width="7.16" height="7.15" fill="#a0a0a0"/>
<rect x="28.54" y="752.20" width="7.16" height="7.15" fill="#a8a8a8"/>
<rect x="35.55" y="752.20" width="7.16" height="7.15" fill="#ffffff"/>
<rect x="42.55" y="752.20" width="7.16" height="7.15" fill="#707070"/>
<rect x="70.59" y="752.20" width="7.16" height="7.15" fill="#080808"/>
<rect x="21.53" y="759.20" width="7.16" height="7.15" fill="#505050"/>
<rect x="28.54" y="759.20" width="7.16" height="7.15" fill="#484848"/>
<rect x="35.55" y="759.20" width="7.16" height="7.15" fill="#686868"/>
<rect x="42.55" y="759.20" width="7.16" height="7.15" fill="#b0b0b0"/>
<rect x="49.56" y="759.20" width="7.16" height="7.15" fill="#585858"/>
<rect x="28.54" y="766.20" width="7.16" height="7.15" fill="#181818"/>
<rect x="35.55" y="766.20" width="7.16" height="7.15" fill="#181818"/>
<rect x="42.55" y="766.20" width="7.16" height="7.15" fill="#181818"/>
<rect x="63.58" y="766.20" width="7.16" height="7.15" fill="#101010"/>
<rect x="14.52" y="773.20" width="7.16" height="7.15" fill="#202020"/>
<rect x="21.53" y="773.20" width="7.16" height="7.15" fill="#202020"/>
<rect x="70.59" y="773.20" width="7.16" height="7.15" fill="#101010"/>
<rect x="0.50" y="780.20" width="7.16" height="7.15" fill="#080808"/>
<rect x="14.52" y="780.20" width="7.16" height="7.15" fill="#282828"/>
<rect x="28.54" y="780.20" width="7.16" height="7.15" fill="#383838"/>
<rect x="63.58" y="780.20" width="7.16" height="7.15" fill="#686868"/>
<rect x="70.59" y="780.20" width="7.16" height="7.15" fill="#080808"/>
<rect x="0.50" y="787.20" width="7.16" height="7.15" fill="#606060"/>
<rect x="7.51" y="787.20" width="7.16" height="7.15" fill="#202020"/>
<rect x="21.53" y="787.20" width="7.16" height="7.15" fill="#383838"/>
<rect x="28.54" y="794.20" width="7.16" height="7.15" fill="#606060"/>
<rect x="35.55" y="794.20" width="7.16" height="7.15" fill="#303030"/>
<rect x="63.58" y="794.20" width="7.16" height="7.15" fill="#e0e0e0"/>
<rect x="70.59" y="794.20" width="7.16" height="7.15" fill="#b0b0b0"/>
<rect x="83.40" y="724.20" width="77.10" height="77.00" fill="#000" />
<rect x="111.44" y="724.20" width="7.16" height="7.15" fill="#484848"/>
<rect x="125.45" y="724.20" width="7.16" height="7.15" fill="#303030"/>
<rect x="132.46" y="724.20" width="7.16" height="7.15" fill="#101010"/>
<rect x="83.40" y="738.20" width="7.16" height="7.15" fill="#ffffff"/>
<rect x="139.47" y="738.20" width="7.16" height="7.15" fill="#202020"/>
<rect x="146.48" y="738.20" width="7.16" height="7.15" fill="#101010"/>
<rect x="111.44" y="745.20" width="7.16" height="7.15" fill="#787878"/>
<rect x="90.41" y="752.20" width="7.16" height="7.15" fill="#404040"/>
<rect x="104.43" y="766.20" width="7.16" height="7.15" fill="#080808"/>
<rect x="166.90" y="724.20" width="77.10" height="77.00" fill="#000" />
<rect x="166.90" y="724.20" width="7.86" height="7.15" fill="#585858"/>
<rect x="182.32" y="724.20" width="7.86" height="7.15" fill="#080808"/>
<rect x="197.74" y="724.20" width="7.86" height="7.15" fill="#101010"/>
<rect x="174.61" y="731.20" width="7.86" height="7.15" fill="#484848"/>
<rect x="182.32" y="731.20" width="7.86" height="7.15" fill="#282828"/>
<rect x="205.45" y="731.20" width="7.86" height="7.15" fill="#383838"/>
<rect x="182.32" y="738.20" width="7.86" height="7.15" fill="#d0d0d0"/>
<rect x="190.03" y="738.20" width="7.86" height="7.15" fill="#787878"/>
<rect x="197.74" y="738.20" width="7.86" height="7.15" fill="#c0c0c0"/>
<rect x="205.45" y="738.20" width="7.86" height="7.15" fill="#909090"/>
<rect x="166.90" y="745.20" width="7.86" height="7.15" fill="#080808"/>
<rect x="182.32" y="745.20" width="7.86" height="7.15" fill="#101010"/>
<rect x="190.03" y="745.20" width="7.86" height="7.15" fill="#909090"/>
<rect x="197.74" y="745.20" width="7.86" height="7.15" fill="#181818"/>
<rect x="205.45" y="745.20" width="7.86" height="7.15" fill="#d0d0d0"/>
<rect x="220.87" y="745.20" width="7.86" height="7.15" fill="#484848"/>
<rect x="228.58" y="745.20" width="7.86" height="7.15" fill="#404040"/>
<rect x="236.29" y="745.20" width="7.86" height="7.15" fill="#181818"/>
<rect x="174.61" y="752.20" width="7.86" height="7.15" fill="#282828"/>
<rect x="190.03" y="752.20" width="7.86" height="7.15" fill="#a0a0a0"/>
<rect x="197.74" y="752.20" width="7.86" height="7.15" fill="#787878"/>
<rect x="213.16" y="752.20" width="7.86" height="7.15" fill="#c8c8c8"/>
<rect x="228.58" y="752.20" width="7.86" height="7.15" fill="#202020"/>
<rect x="166.90" y="759.20" width="7.86" height="7.15" fill="#303030"/>
<rect x="174.61" y="759.20" width="7.86" height="7.15" fill="#202020"/>
<rect x="190.03" y="759.20" width="7.86" height="7.15" fill="#808080"/>
<rect x="197.74" y="759.20" width="7.86" height="7.15" fill="#585858"/>
<rect x="205.45" y="759.20" width="7.86" height="7.15" fill="#a0a0a0"/>
<rect x="166.90" y="766.20" width="7.86" height="7.15" fill="#080808"/>
<rect x="174.61" y="766.20" width="7.86" height="7.15" fill="#c8c8c8"/>
<rect x="182.32" y="766.20" width="7.86" height="7.15" fill="#080808"/>
<rect x="197.74" y="766.20" width="7.86" height="7.15" fill="#707070"/>
<rect x="205.45" y="766.20" width="7.86" height="7.15" fill="#202020"/>
<rect x="220.87" y="766.20" width="7.86" height="7.15" fill="#484848"/>
<rect x="182.32" y="773.20" width="7.86" height="7.15" fill="#383838"/>
<rect x="190.03" y="773.20" width="7.86" height="7.15" fill="#303030"/>
<rect x="197.74" y="773.20" width="7.86" height="7.15" fill="#303030"/>
<rect x="236.29" y="773.20" width="7.86" height="7.15" fill="#181818"/>
<rect x="174.61" y="780.20" width="7.86" height="7.15" fill="#080808"/>
<rect x="190.03" y="780.20" width="7.86" height="7.15" fill="#181818"/>
<rect x="228.58" y="780.20" width="7.86" height="7.15" fill="#080808"/>
<rect x="166.90" y="787.20" width="7.86" height="7.15" fill="#282828"/>
<rect x="166.90" y="794.20" width="7.86" height="7.15" fill="#505050"/>
<rect x="182.32" y="794.20" width="7.86" height="7.15" fill="#080808"/>
<rect x="190.03" y="794.20" width="7.86" height="7.15" fill="#202020"/>
<rect x="205.45" y="794.20" width="7.86" height="7.15" fill="#303030"/>
<rect x="236.29" y="794.20" width="7.86" height="7.15" fill="#303030"/>
<text font-size="11.6" text-anchor="middle" font-weight="bold" fill="#000" transform="translate(39.0 554.0)" >0 ps</text>
<text font-size="11.6" text-anchor="middle" font-weight="bold" fill="#000" transform="translate(122.1 554.0)" >+1 ps</text>
<text font-size="11.6" text-anchor="middle" font-weight="bold" fill="#000" transform="translate(205.6 554.0)" >0 ps</text>
<text font-size="10.4" fill="#fff" transform="translate(36.8 623.0) scale(1.07 1)" textLength="33.2" lengthAdjust="spacingAndGlyphs" >500 nm</text>
<rect x="42.90" y="627.10" width="25.20" height="4.50" fill="#fff" />
<rect x="251.60" y="560.10" width="6.10" height="76.60" fill="url(#gv)" stroke="#444" stroke-width="0.6" />
<text font-size="10.4" transform="translate(260.5 563.0) scale(0.985 1)" >3.2x10<tspan dy="-3.0" font-size="6.0">-4</tspan><tspan dy="3.0" font-size="1">&#8203;</tspan></text>
<text font-size="10.4" transform="translate(260.5 634.3) scale(0.985 1)" >0</text>
<rect x="251.60" y="642.70" width="6.10" height="76.60" fill="url(#gv)" stroke="#444" stroke-width="0.6" />
<text font-size="10.4" transform="translate(260.5 645.6) scale(0.985 1)" >3.6x10<tspan dy="-3.0" font-size="6.0">-4</tspan><tspan dy="3.0" font-size="1">&#8203;</tspan></text>
<text font-size="10.4" transform="translate(260.5 716.9) scale(0.985 1)" >0</text>
<rect x="251.60" y="725.80" width="6.10" height="77.20" fill="url(#gv)" stroke="#444" stroke-width="0.6" />
<text font-size="10.4" transform="translate(260.5 728.7) scale(0.985 1)" >3.5x10<tspan dy="-3.0" font-size="6.0">-4</tspan><tspan dy="3.0" font-size="1">&#8203;</tspan></text>
<text font-size="10.4" transform="translate(260.5 800.6) scale(0.985 1)" >0</text>
<text font-size="18" font-weight="bold" fill="#000" transform="translate(308.6 549.7)" >I</text>
<rect x="308.60" y="557.10" width="119.20" height="119.30" fill="#000" />
<rect x="308.60" y="557.10" width="7.16" height="7.17" fill="#181818"/>
<rect x="315.61" y="557.10" width="7.16" height="7.17" fill="#484848"/>
<rect x="322.62" y="557.10" width="7.16" height="7.17" fill="#101010"/>
<rect x="322.62" y="564.12" width="7.16" height="7.17" fill="#101010"/>
<rect x="329.64" y="564.12" width="7.16" height="7.17" fill="#080808"/>
<rect x="336.65" y="564.12" width="7.16" height="7.17" fill="#303030"/>
<rect x="322.62" y="571.14" width="7.16" height="7.17" fill="#888888"/>
<rect x="329.64" y="571.14" width="7.16" height="7.17" fill="#989898"/>
<rect x="336.65" y="571.14" width="7.16" height="7.17" fill="#e0e0e0"/>
<rect x="343.66" y="571.14" width="7.16" height="7.17" fill="#505050"/>
<rect x="350.67" y="571.14" width="7.16" height="7.17" fill="#383838"/>
<rect x="357.68" y="571.14" width="7.16" height="7.17" fill="#101010"/>
<rect x="385.73" y="571.14" width="7.16" height="7.17" fill="#303030"/>
<rect x="392.74" y="571.14" width="7.16" height="7.17" fill="#707070"/>
<rect x="308.60" y="578.15" width="7.16" height="7.17" fill="#303030"/>
<rect x="315.61" y="578.15" width="7.16" height="7.17" fill="#080808"/>
<rect x="322.62" y="578.15" width="7.16" height="7.17" fill="#505050"/>
<rect x="329.64" y="578.15" width="7.16" height="7.17" fill="#a0a0a0"/>
<rect x="336.65" y="578.15" width="7.16" height="7.17" fill="#e8e8e8"/>
<rect x="343.66" y="578.15" width="7.16" height="7.17" fill="#686868"/>
<rect x="364.69" y="578.15" width="7.16" height="7.17" fill="#202020"/>
<rect x="392.74" y="578.15" width="7.16" height="7.17" fill="#909090"/>
<rect x="399.75" y="578.15" width="7.16" height="7.17" fill="#888888"/>
<rect x="406.76" y="578.15" width="7.16" height="7.17" fill="#404040"/>
<rect x="322.62" y="585.17" width="7.16" height="7.17" fill="#707070"/>
<rect x="329.64" y="585.17" width="7.16" height="7.17" fill="#ffffff"/>
<rect x="336.65" y="585.17" width="7.16" height="7.17" fill="#808080"/>
<rect x="343.66" y="585.17" width="7.16" height="7.17" fill="#585858"/>
<rect x="350.67" y="585.17" width="7.16" height="7.17" fill="#404040"/>
<rect x="357.68" y="585.17" width="7.16" height="7.17" fill="#404040"/>
<rect x="385.73" y="585.17" width="7.16" height="7.17" fill="#303030"/>
<rect x="392.74" y="585.17" width="7.16" height="7.17" fill="#707070"/>
<rect x="399.75" y="585.17" width="7.16" height="7.17" fill="#686868"/>
<rect x="406.76" y="585.17" width="7.16" height="7.17" fill="#383838"/>
<rect x="308.60" y="592.19" width="7.16" height="7.17" fill="#202020"/>
<rect x="350.67" y="592.19" width="7.16" height="7.17" fill="#181818"/>
<rect x="357.68" y="592.19" width="7.16" height="7.17" fill="#202020"/>
<rect x="364.69" y="592.19" width="7.16" height="7.17" fill="#383838"/>
<rect x="392.74" y="592.19" width="7.16" height="7.17" fill="#202020"/>
<rect x="350.67" y="599.21" width="7.16" height="7.17" fill="#505050"/>
<rect x="357.68" y="599.21" width="7.16" height="7.17" fill="#505050"/>
<rect x="308.60" y="606.22" width="7.16" height="7.17" fill="#080808"/>
<rect x="357.68" y="606.22" width="7.16" height="7.17" fill="#282828"/>
<rect x="364.69" y="606.22" width="7.16" height="7.17" fill="#080808"/>
<rect x="357.68" y="613.24" width="7.16" height="7.17" fill="#202020"/>
<rect x="308.60" y="620.26" width="7.16" height="7.17" fill="#202020"/>
<rect x="315.61" y="620.26" width="7.16" height="7.17" fill="#383838"/>
<rect x="350.67" y="620.26" width="7.16" height="7.17" fill="#202020"/>
<rect x="357.68" y="620.26" width="7.16" height="7.17" fill="#a0a0a0"/>
<rect x="364.69" y="620.26" width="7.16" height="7.17" fill="#ffffff"/>
<rect x="371.71" y="620.26" width="7.16" height="7.17" fill="#c0c0c0"/>
<rect x="378.72" y="620.26" width="7.16" height="7.17" fill="#282828"/>
<rect x="413.78" y="620.26" width="7.16" height="7.17" fill="#404040"/>
<rect x="420.79" y="620.26" width="7.16" height="7.17" fill="#181818"/>
<rect x="308.60" y="627.28" width="7.16" height="7.17" fill="#686868"/>
<rect x="315.61" y="627.28" width="7.16" height="7.17" fill="#202020"/>
<rect x="357.68" y="627.28" width="7.16" height="7.17" fill="#808080"/>
<rect x="364.69" y="627.28" width="7.16" height="7.17" fill="#909090"/>
<rect x="371.71" y="627.28" width="7.16" height="7.17" fill="#404040"/>
<rect x="322.62" y="634.29" width="7.16" height="7.17" fill="#181818"/>
<rect x="364.69" y="634.29" width="7.16" height="7.17" fill="#484848"/>
<rect x="371.71" y="634.29" width="7.16" height="7.17" fill="#181818"/>
<rect x="378.72" y="634.29" width="7.16" height="7.17" fill="#383838"/>
<rect x="385.73" y="634.29" width="7.16" height="7.17" fill="#808080"/>
<rect x="392.74" y="634.29" width="7.16" height="7.17" fill="#484848"/>
<rect x="364.69" y="641.31" width="7.16" height="7.17" fill="#282828"/>
<rect x="371.71" y="641.31" width="7.16" height="7.17" fill="#383838"/>
<rect x="378.72" y="641.31" width="7.16" height="7.17" fill="#989898"/>
<rect x="385.73" y="641.31" width="7.16" height="7.17" fill="#707070"/>
<rect x="392.74" y="641.31" width="7.16" height="7.17" fill="#909090"/>
<rect x="406.76" y="641.31" width="7.16" height="7.17" fill="#383838"/>
<rect x="413.78" y="641.31" width="7.16" height="7.17" fill="#707070"/>
<rect x="399.75" y="648.33" width="7.16" height="7.17" fill="#080808"/>
<rect x="420.79" y="648.33" width="7.16" height="7.17" fill="#080808"/>
<rect x="329.64" y="655.35" width="7.16" height="7.17" fill="#181818"/>
<rect x="336.65" y="655.35" width="7.16" height="7.17" fill="#383838"/>
<rect x="336.65" y="662.36" width="7.16" height="7.17" fill="#080808"/>
<rect x="308.60" y="669.38" width="7.16" height="7.17" fill="#606060"/>
<rect x="315.61" y="669.38" width="7.16" height="7.17" fill="#a0a0a0"/>
<rect x="329.64" y="669.38" width="7.16" height="7.17" fill="#080808"/>
<rect x="336.65" y="669.38" width="7.16" height="7.17" fill="#303030"/>
<rect x="364.69" y="669.38" width="7.16" height="7.17" fill="#282828"/>
<rect x="432.60" y="557.10" width="119.20" height="119.30" fill="#000" />
<rect x="446.62" y="557.10" width="7.16" height="7.17" fill="#181818"/>
<rect x="460.65" y="557.10" width="7.16" height="7.17" fill="#101010"/>
<rect x="467.66" y="557.10" width="7.16" height="7.17" fill="#282828"/>
<rect x="502.72" y="557.10" width="7.16" height="7.17" fill="#303030"/>
<rect x="509.73" y="557.10" width="7.16" height="7.17" fill="#383838"/>
<rect x="530.76" y="557.10" width="7.16" height="7.17" fill="#282828"/>
<rect x="516.74" y="564.12" width="7.16" height="7.17" fill="#202020"/>
<rect x="537.78" y="564.12" width="7.16" height="7.17" fill="#383838"/>
<rect x="460.65" y="571.14" width="7.16" height="7.17" fill="#202020"/>
<rect x="467.66" y="571.14" width="7.16" height="7.17" fill="#282828"/>
<rect x="516.74" y="599.21" width="7.16" height="7.17" fill="#505050"/>
<rect x="530.76" y="599.21" width="7.16" height="7.17" fill="#282828"/>
<rect x="544.79" y="599.21" width="7.16" height="7.17" fill="#080808"/>
<rect x="537.78" y="606.22" width="7.16" height="7.17" fill="#080808"/>
<rect x="544.79" y="606.22" width="7.16" height="7.17" fill="#080808"/>
<rect x="516.74" y="613.24" width="7.16" height="7.17" fill="#585858"/>
<rect x="502.72" y="627.28" width="7.16" height="7.17" fill="#202020"/>
<rect x="516.74" y="627.28" width="7.16" height="7.17" fill="#080808"/>
<rect x="502.72" y="634.29" width="7.16" height="7.17" fill="#101010"/>
<rect x="530.76" y="634.29" width="7.16" height="7.17" fill="#383838"/>
<rect x="544.79" y="634.29" width="7.16" height="7.17" fill="#303030"/>
<rect x="516.74" y="641.31" width="7.16" height="7.17" fill="#101010"/>
<rect x="523.75" y="641.31" width="7.16" height="7.17" fill="#383838"/>
<rect x="537.78" y="641.31" width="7.16" height="7.17" fill="#080808"/>
<rect x="544.79" y="641.31" width="7.16" height="7.17" fill="#303030"/>
<rect x="537.78" y="648.33" width="7.16" height="7.17" fill="#101010"/>
<rect x="544.79" y="648.33" width="7.16" height="7.17" fill="#080808"/>
<rect x="439.61" y="662.36" width="7.16" height="7.17" fill="#303030"/>
<rect x="446.62" y="662.36" width="7.16" height="7.17" fill="#808080"/>
<rect x="530.76" y="662.36" width="7.16" height="7.17" fill="#080808"/>
<rect x="544.79" y="662.36" width="7.16" height="7.17" fill="#101010"/>
<rect x="432.60" y="669.38" width="7.16" height="7.17" fill="#282828"/>
<rect x="439.61" y="669.38" width="7.16" height="7.17" fill="#606060"/>
<rect x="481.68" y="669.38" width="7.16" height="7.17" fill="#303030"/>
<rect x="556.60" y="557.10" width="119.20" height="119.30" fill="#000" />
<rect x="584.65" y="564.12" width="7.16" height="7.17" fill="#282828"/>
<rect x="598.67" y="564.12" width="7.16" height="7.17" fill="#080808"/>
<rect x="640.74" y="564.12" width="7.16" height="7.17" fill="#080808"/>
<rect x="647.75" y="564.12" width="7.16" height="7.17" fill="#202020"/>
<rect x="570.62" y="571.14" width="7.16" height="7.17" fill="#a8a8a8"/>
<rect x="577.64" y="571.14" width="7.16" height="7.17" fill="#303030"/>
<rect x="584.65" y="571.14" width="7.16" height="7.17" fill="#585858"/>
<rect x="591.66" y="571.14" width="7.16" height="7.17" fill="#383838"/>
<rect x="598.67" y="571.14" width="7.16" height="7.17" fill="#989898"/>
<rect x="626.72" y="571.14" width="7.16" height="7.17" fill="#707070"/>
<rect x="633.73" y="571.14" width="7.16" height="7.17" fill="#282828"/>
<rect x="640.74" y="571.14" width="7.16" height="7.17" fill="#585858"/>
<rect x="647.75" y="571.14" width="7.16" height="7.17" fill="#b8b8b8"/>
<rect x="654.76" y="571.14" width="7.16" height="7.17" fill="#181818"/>
<rect x="570.62" y="578.15" width="7.16" height="7.17" fill="#787878"/>
<rect x="577.64" y="578.15" width="7.16" height="7.17" fill="#303030"/>
<rect x="584.65" y="578.15" width="7.16" height="7.17" fill="#282828"/>
<rect x="598.67" y="578.15" width="7.16" height="7.17" fill="#303030"/>
<rect x="633.73" y="578.15" width="7.16" height="7.17" fill="#909090"/>
<rect x="640.74" y="578.15" width="7.16" height="7.17" fill="#ffffff"/>
<rect x="647.75" y="578.15" width="7.16" height="7.17" fill="#484848"/>
<rect x="570.62" y="585.17" width="7.16" height="7.17" fill="#202020"/>
<rect x="577.64" y="585.17" width="7.16" height="7.17" fill="#101010"/>
<rect x="584.65" y="585.17" width="7.16" height="7.17" fill="#707070"/>
<rect x="598.67" y="585.17" width="7.16" height="7.17" fill="#282828"/>
<rect x="626.72" y="585.17" width="7.16" height="7.17" fill="#383838"/>
<rect x="633.73" y="585.17" width="7.16" height="7.17" fill="#383838"/>
<rect x="640.74" y="585.17" width="7.16" height="7.17" fill="#383838"/>
<rect x="647.75" y="585.17" width="7.16" height="7.17" fill="#181818"/>
<rect x="598.67" y="592.19" width="7.16" height="7.17" fill="#080808"/>
<rect x="661.78" y="592.19" width="7.16" height="7.17" fill="#383838"/>
<rect x="654.76" y="599.21" width="7.16" height="7.17" fill="#282828"/>
<rect x="598.67" y="606.22" width="7.16" height="7.17" fill="#202020"/>
<rect x="626.72" y="606.22" width="7.16" height="7.17" fill="#181818"/>
<rect x="591.66" y="613.24" width="7.16" height="7.17" fill="#686868"/>
<rect x="598.67" y="613.24" width="7.16" height="7.17" fill="#787878"/>
<rect x="605.68" y="613.24" width="7.16" height="7.17" fill="#505050"/>
<rect x="577.64" y="620.26" width="7.16" height="7.17" fill="#080808"/>
<rect x="598.67" y="620.26" width="7.16" height="7.17" fill="#202020"/>
<rect x="605.68" y="620.26" width="7.16" height="7.17" fill="#ffffff"/>
<rect x="612.69" y="620.26" width="7.16" height="7.17" fill="#b0b0b0"/>
<rect x="619.71" y="620.26" width="7.16" height="7.17" fill="#404040"/>
<rect x="626.72" y="620.26" width="7.16" height="7.17" fill="#404040"/>
<rect x="598.67" y="627.28" width="7.16" height="7.17" fill="#484848"/>
<rect x="605.68" y="627.28" width="7.16" height="7.17" fill="#606060"/>
<rect x="612.69" y="627.28" width="7.16" height="7.17" fill="#a0a0a0"/>
<rect x="605.68" y="634.29" width="7.16" height="7.17" fill="#202020"/>
<rect x="612.69" y="634.29" width="7.16" height="7.17" fill="#383838"/>
<rect x="619.71" y="634.29" width="7.16" height="7.17" fill="#282828"/>
<rect x="626.72" y="634.29" width="7.16" height="7.17" fill="#484848"/>
<rect x="633.73" y="634.29" width="7.16" height="7.17" fill="#888888"/>
<rect x="640.74" y="634.29" width="7.16" height="7.17" fill="#080808"/>
<rect x="619.71" y="641.31" width="7.16" height="7.17" fill="#606060"/>
<rect x="626.72" y="641.31" width="7.16" height="7.17" fill="#a0a0a0"/>
<rect x="633.73" y="641.31" width="7.16" height="7.17" fill="#707070"/>
<rect x="640.74" y="641.31" width="7.16" height="7.17" fill="#505050"/>
<rect x="633.73" y="648.33" width="7.16" height="7.17" fill="#a0a0a0"/>
<rect x="640.74" y="648.33" width="7.16" height="7.17" fill="#909090"/>
<rect x="633.73" y="655.35" width="7.16" height="7.17" fill="#202020"/>
<rect x="556.60" y="662.36" width="7.16" height="7.17" fill="#606060"/>
<rect x="563.61" y="662.36" width="7.16" height="7.17" fill="#404040"/>
<rect x="556.60" y="669.38" width="7.16" height="7.17" fill="#909090"/>
<rect x="584.65" y="669.38" width="7.16" height="7.17" fill="#202020"/>
<rect x="605.68" y="669.38" width="7.16" height="7.17" fill="#606060"/>
<rect x="612.69" y="669.38" width="7.16" height="7.17" fill="#181818"/>
<rect x="633.73" y="669.38" width="7.16" height="7.17" fill="#404040"/>
<rect x="640.74" y="669.38" width="7.16" height="7.17" fill="#888888"/>
<rect x="647.75" y="669.38" width="7.16" height="7.17" fill="#181818"/>
<text font-size="11" text-anchor="middle" font-weight="bold" fill="#000" transform="translate(368.3 553.8) scale(1.07 1)" >2218.2 cm<tspan dy="-3.8" font-size="6.5">-1</tspan><tspan dy="3.8" font-size="1">&#8203;</tspan></text>
<text font-size="11" text-anchor="middle" font-weight="bold" fill="#000" transform="translate(491.6 553.8) scale(1.07 1)" >2236.3 cm<tspan dy="-3.8" font-size="6.5">-1</tspan><tspan dy="3.8" font-size="1">&#8203;</tspan></text>
<text font-size="11" text-anchor="middle" font-weight="bold" fill="#000" transform="translate(615.6 553.8) scale(1.07 1)" >2218.2 cm<tspan dy="-3.8" font-size="6.5">-1</tspan><tspan dy="3.8" font-size="1">&#8203;</tspan></text>
<text font-size="10.4" fill="#fff" transform="translate(385.8 661.1) scale(1.07 1)" textLength="33.8" lengthAdjust="spacingAndGlyphs" >500 nm</text>
<rect x="392.40" y="666.40" width="25.50" height="5.10" fill="#fff" />
<rect x="307.40" y="686.70" width="119.60" height="8.60" fill="url(#gh)" stroke="#3a3a3a" stroke-width="0.9" />
<line x1="312.40" y1="695.40" x2="312.40" y2="693.60" stroke="#333" stroke-width="0.6" />
<line x1="330.60" y1="695.40" x2="330.60" y2="693.60" stroke="#333" stroke-width="0.6" />
<line x1="348.80" y1="695.40" x2="348.80" y2="693.60" stroke="#333" stroke-width="0.6" />
<line x1="367.00" y1="695.40" x2="367.00" y2="693.60" stroke="#333" stroke-width="0.6" />
<line x1="385.20" y1="695.40" x2="385.20" y2="693.60" stroke="#333" stroke-width="0.6" />
<line x1="403.40" y1="695.40" x2="403.40" y2="693.60" stroke="#333" stroke-width="0.6" />
<line x1="421.60" y1="695.40" x2="421.60" y2="693.60" stroke="#333" stroke-width="0.6" />
<text font-size="10.2" text-anchor="middle" transform="translate(308.8 705.4) scale(0.95 1)" >0</text>
<text font-size="10.7" transform="translate(420.2 708.0) scale(1.07 1)" textLength="12.3" lengthAdjust="spacingAndGlyphs" >2.7</text>
<text font-size="9.4" transform="translate(416.5 719.5) scale(1.07 1)" >x10<tspan dy="-3.4" font-size="5.6">-4</tspan><tspan dy="3.4" font-size="1">&#8203;</tspan></text>
</svg>
</body></html>
